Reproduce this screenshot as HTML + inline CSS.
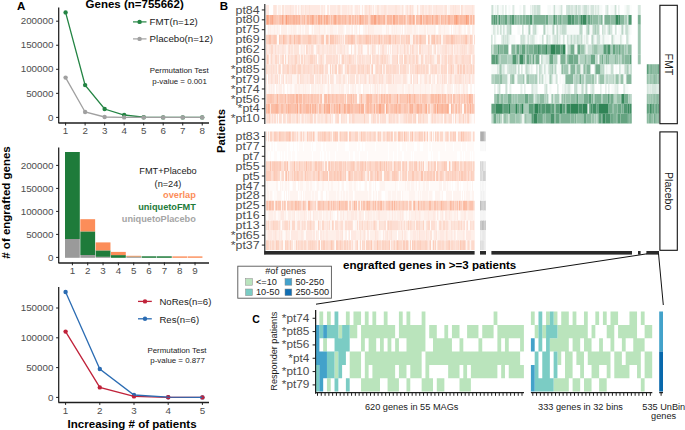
<!DOCTYPE html>
<html><head><meta charset="utf-8"><style>
html,body{margin:0;padding:0;background:#fff;width:685px;height:430px;overflow:hidden}
svg{display:block}
text{font-family:"Liberation Sans", sans-serif}
</style></head><body>
<svg width="685" height="430" viewBox="0 0 685 430">
<rect width="685" height="430" fill="#fff"/>
<text x="17.00" y="9.80" font-size="11.5" text-anchor="start" font-weight="bold" fill="#000">A</text>
<text x="85.60" y="8.00" font-size="11.5" text-anchor="start" font-weight="bold" fill="#000">Genes (n=755662)</text>
<line x1="58.70" y1="7.40" x2="58.70" y2="123.10" stroke="#1e1e1e" stroke-width="1.25"/>
<line x1="56.10" y1="117.40" x2="58.90" y2="117.40" stroke="#1e1e1e" stroke-width="1.0"/>
<text x="53.40" y="120.59" font-size="9.8" text-anchor="end" fill="#4d4d4d">0</text>
<line x1="56.10" y1="93.35" x2="58.90" y2="93.35" stroke="#1e1e1e" stroke-width="1.0"/>
<text x="53.40" y="96.54" font-size="9.8" text-anchor="end" fill="#4d4d4d">50000</text>
<line x1="56.10" y1="69.30" x2="58.90" y2="69.30" stroke="#1e1e1e" stroke-width="1.0"/>
<text x="53.40" y="72.49" font-size="9.8" text-anchor="end" fill="#4d4d4d">100000</text>
<line x1="56.10" y1="45.25" x2="58.90" y2="45.25" stroke="#1e1e1e" stroke-width="1.0"/>
<text x="53.40" y="48.44" font-size="9.8" text-anchor="end" fill="#4d4d4d">150000</text>
<line x1="56.10" y1="21.20" x2="58.90" y2="21.20" stroke="#1e1e1e" stroke-width="1.0"/>
<text x="53.40" y="24.39" font-size="9.8" text-anchor="end" fill="#4d4d4d">200000</text>
<line x1="58.40" y1="123.10" x2="209.00" y2="123.10" stroke="#1e1e1e" stroke-width="1.5"/>
<line x1="65.60" y1="122.60" x2="65.60" y2="125.50" stroke="#1e1e1e" stroke-width="1.0"/>
<text x="65.60" y="134.19" font-size="9.8" text-anchor="middle" fill="#4d4d4d">1</text>
<line x1="85.12" y1="122.60" x2="85.12" y2="125.50" stroke="#1e1e1e" stroke-width="1.0"/>
<text x="85.12" y="134.19" font-size="9.8" text-anchor="middle" fill="#4d4d4d">2</text>
<line x1="104.64" y1="122.60" x2="104.64" y2="125.50" stroke="#1e1e1e" stroke-width="1.0"/>
<text x="104.64" y="134.19" font-size="9.8" text-anchor="middle" fill="#4d4d4d">3</text>
<line x1="124.16" y1="122.60" x2="124.16" y2="125.50" stroke="#1e1e1e" stroke-width="1.0"/>
<text x="124.16" y="134.19" font-size="9.8" text-anchor="middle" fill="#4d4d4d">4</text>
<line x1="143.68" y1="122.60" x2="143.68" y2="125.50" stroke="#1e1e1e" stroke-width="1.0"/>
<text x="143.68" y="134.19" font-size="9.8" text-anchor="middle" fill="#4d4d4d">5</text>
<line x1="163.20" y1="122.60" x2="163.20" y2="125.50" stroke="#1e1e1e" stroke-width="1.0"/>
<text x="163.20" y="134.19" font-size="9.8" text-anchor="middle" fill="#4d4d4d">6</text>
<line x1="182.72" y1="122.60" x2="182.72" y2="125.50" stroke="#1e1e1e" stroke-width="1.0"/>
<text x="182.72" y="134.19" font-size="9.8" text-anchor="middle" fill="#4d4d4d">7</text>
<line x1="202.24" y1="122.60" x2="202.24" y2="125.50" stroke="#1e1e1e" stroke-width="1.0"/>
<text x="202.24" y="134.19" font-size="9.8" text-anchor="middle" fill="#4d4d4d">8</text>
<polyline points="65.60,12.40 85.12,85.10 104.64,109.00 124.16,115.00 143.68,117.20 163.20,117.40 182.72,117.40 202.24,117.40" fill="none" stroke="#238443" stroke-width="1.3"/>
<circle cx="65.60" cy="12.40" r="2.2" fill="#238443"/>
<circle cx="85.12" cy="85.10" r="2.2" fill="#238443"/>
<circle cx="104.64" cy="109.00" r="2.2" fill="#238443"/>
<circle cx="124.16" cy="115.00" r="2.2" fill="#238443"/>
<circle cx="143.68" cy="117.20" r="2.2" fill="#238443"/>
<circle cx="163.20" cy="117.40" r="2.2" fill="#238443"/>
<circle cx="182.72" cy="117.40" r="2.2" fill="#238443"/>
<circle cx="202.24" cy="117.40" r="2.2" fill="#238443"/>
<polyline points="65.60,77.60 85.12,112.00 104.64,117.00 124.16,117.40 143.68,117.40 163.20,117.40 182.72,117.40 202.24,117.40" fill="none" stroke="#a0a0a0" stroke-width="1.3"/>
<circle cx="65.60" cy="77.60" r="2.2" fill="#a0a0a0"/>
<circle cx="85.12" cy="112.00" r="2.2" fill="#a0a0a0"/>
<circle cx="104.64" cy="117.00" r="2.2" fill="#a0a0a0"/>
<circle cx="124.16" cy="117.40" r="2.2" fill="#a0a0a0"/>
<circle cx="143.68" cy="117.40" r="2.2" fill="#a0a0a0"/>
<circle cx="163.20" cy="117.40" r="2.2" fill="#a0a0a0"/>
<circle cx="182.72" cy="117.40" r="2.2" fill="#a0a0a0"/>
<circle cx="202.24" cy="117.40" r="2.2" fill="#a0a0a0"/>
<line x1="133.00" y1="21.90" x2="146.50" y2="21.90" stroke="#238443" stroke-width="1.2"/>
<circle cx="139.60" cy="21.90" r="2.2" fill="#238443"/>
<text x="149.60" y="25.15" font-size="9.7" text-anchor="start" fill="#1a1a1a">FMT(n=12)</text>
<line x1="133.00" y1="38.90" x2="146.50" y2="38.90" stroke="#a0a0a0" stroke-width="1.2"/>
<circle cx="139.60" cy="38.90" r="2.2" fill="#a0a0a0"/>
<text x="149.60" y="42.05" font-size="9.7" text-anchor="start" fill="#1a1a1a">Placebo(n=12)</text>
<text x="179.20" y="72.97" font-size="7.9" text-anchor="middle" fill="#1a1a1a">Permutation Test</text>
<text x="179.60" y="83.57" font-size="7.9" text-anchor="middle" fill="#1a1a1a">p-value = 0.001</text>
<line x1="58.70" y1="147.40" x2="58.70" y2="262.90" stroke="#1e1e1e" stroke-width="1.25"/>
<line x1="56.10" y1="257.40" x2="58.90" y2="257.40" stroke="#1e1e1e" stroke-width="1.0"/>
<text x="53.40" y="260.58" font-size="9.8" text-anchor="end" fill="#4d4d4d">0</text>
<line x1="56.10" y1="234.40" x2="58.90" y2="234.40" stroke="#1e1e1e" stroke-width="1.0"/>
<text x="53.40" y="237.58" font-size="9.8" text-anchor="end" fill="#4d4d4d">50000</text>
<line x1="56.10" y1="211.40" x2="58.90" y2="211.40" stroke="#1e1e1e" stroke-width="1.0"/>
<text x="53.40" y="214.58" font-size="9.8" text-anchor="end" fill="#4d4d4d">100000</text>
<line x1="56.10" y1="188.40" x2="58.90" y2="188.40" stroke="#1e1e1e" stroke-width="1.0"/>
<text x="53.40" y="191.58" font-size="9.8" text-anchor="end" fill="#4d4d4d">150000</text>
<line x1="56.10" y1="165.40" x2="58.90" y2="165.40" stroke="#1e1e1e" stroke-width="1.0"/>
<text x="53.40" y="168.58" font-size="9.8" text-anchor="end" fill="#4d4d4d">200000</text>
<line x1="58.40" y1="262.90" x2="209.00" y2="262.90" stroke="#1e1e1e" stroke-width="1.5"/>
<line x1="72.40" y1="262.40" x2="72.40" y2="265.30" stroke="#1e1e1e" stroke-width="1.0"/>
<text x="72.40" y="273.99" font-size="9.8" text-anchor="middle" fill="#4d4d4d">1</text>
<line x1="87.73" y1="262.40" x2="87.73" y2="265.30" stroke="#1e1e1e" stroke-width="1.0"/>
<text x="87.73" y="273.99" font-size="9.8" text-anchor="middle" fill="#4d4d4d">2</text>
<line x1="103.06" y1="262.40" x2="103.06" y2="265.30" stroke="#1e1e1e" stroke-width="1.0"/>
<text x="103.06" y="273.99" font-size="9.8" text-anchor="middle" fill="#4d4d4d">3</text>
<line x1="118.39" y1="262.40" x2="118.39" y2="265.30" stroke="#1e1e1e" stroke-width="1.0"/>
<text x="118.39" y="273.99" font-size="9.8" text-anchor="middle" fill="#4d4d4d">4</text>
<line x1="133.72" y1="262.40" x2="133.72" y2="265.30" stroke="#1e1e1e" stroke-width="1.0"/>
<text x="133.72" y="273.99" font-size="9.8" text-anchor="middle" fill="#4d4d4d">5</text>
<line x1="149.05" y1="262.40" x2="149.05" y2="265.30" stroke="#1e1e1e" stroke-width="1.0"/>
<text x="149.05" y="273.99" font-size="9.8" text-anchor="middle" fill="#4d4d4d">6</text>
<line x1="164.38" y1="262.40" x2="164.38" y2="265.30" stroke="#1e1e1e" stroke-width="1.0"/>
<text x="164.38" y="273.99" font-size="9.8" text-anchor="middle" fill="#4d4d4d">7</text>
<line x1="179.71" y1="262.40" x2="179.71" y2="265.30" stroke="#1e1e1e" stroke-width="1.0"/>
<text x="179.71" y="273.99" font-size="9.8" text-anchor="middle" fill="#4d4d4d">8</text>
<line x1="195.04" y1="262.40" x2="195.04" y2="265.30" stroke="#1e1e1e" stroke-width="1.0"/>
<text x="195.04" y="273.99" font-size="9.8" text-anchor="middle" fill="#4d4d4d">9</text>
<rect x="65.00" y="239.00" width="14.80" height="18.80" fill="#9a9a9a"/>
<rect x="65.00" y="152.00" width="14.80" height="87.00" fill="#1e7b3a"/>
<rect x="80.33" y="255.00" width="14.80" height="2.80" fill="#9a9a9a"/>
<rect x="80.33" y="231.40" width="14.80" height="23.60" fill="#1e7b3a"/>
<rect x="80.33" y="219.20" width="14.80" height="12.20" fill="#fc8d59"/>
<rect x="95.66" y="256.80" width="14.80" height="1.00" fill="#9a9a9a"/>
<rect x="95.66" y="250.40" width="14.80" height="6.40" fill="#1e7b3a"/>
<rect x="95.66" y="242.40" width="14.80" height="8.00" fill="#fc8d59"/>
<rect x="110.99" y="255.10" width="14.80" height="2.70" fill="#1e7b3a"/>
<rect x="110.99" y="251.90" width="14.80" height="3.20" fill="#fc8d59"/>
<rect x="126.32" y="257.00" width="14.80" height="0.80" fill="#9a9a9a"/>
<rect x="126.32" y="256.60" width="14.80" height="0.40" fill="#1e7b3a"/>
<rect x="126.32" y="255.80" width="14.80" height="0.80" fill="#fc8d59"/>
<rect x="141.65" y="256.30" width="14.80" height="1.50" fill="#1e7b3a"/>
<rect x="156.98" y="256.30" width="14.80" height="1.50" fill="#1e7b3a"/>
<rect x="172.31" y="256.40" width="14.80" height="1.40" fill="#fc8d59"/>
<rect x="187.64" y="256.40" width="14.80" height="1.40" fill="#fc8d59"/>
<text x="168.00" y="174.49" font-size="9.2" text-anchor="middle" fill="#1a1a1a">FMT+Placebo</text>
<text x="168.00" y="187.09" font-size="9.2" text-anchor="middle" fill="#1a1a1a">(n=24)</text>
<text x="195.80" y="198.19" font-size="9.2" text-anchor="end" font-weight="bold" fill="#fc8d59">overlap</text>
<text x="195.80" y="209.89" font-size="9.2" text-anchor="end" font-weight="bold" fill="#1e7b3a">uniquetoFMT</text>
<text x="195.80" y="221.79" font-size="9.2" text-anchor="end" font-weight="bold" fill="#a5a5a5">uniquetoPlacebo</text>
<line x1="58.70" y1="287.00" x2="58.70" y2="402.50" stroke="#1e1e1e" stroke-width="1.25"/>
<line x1="56.10" y1="397.40" x2="58.90" y2="397.40" stroke="#1e1e1e" stroke-width="1.0"/>
<text x="53.40" y="400.58" font-size="9.8" text-anchor="end" fill="#4d4d4d">0</text>
<line x1="56.10" y1="367.60" x2="58.90" y2="367.60" stroke="#1e1e1e" stroke-width="1.0"/>
<text x="53.40" y="370.78" font-size="9.8" text-anchor="end" fill="#4d4d4d">50000</text>
<line x1="56.10" y1="337.80" x2="58.90" y2="337.80" stroke="#1e1e1e" stroke-width="1.0"/>
<text x="53.40" y="340.98" font-size="9.8" text-anchor="end" fill="#4d4d4d">100000</text>
<line x1="56.10" y1="308.00" x2="58.90" y2="308.00" stroke="#1e1e1e" stroke-width="1.0"/>
<text x="53.40" y="311.19" font-size="9.8" text-anchor="end" fill="#4d4d4d">150000</text>
<line x1="58.40" y1="402.50" x2="209.00" y2="402.50" stroke="#1e1e1e" stroke-width="1.5"/>
<line x1="65.60" y1="402.00" x2="65.60" y2="404.90" stroke="#1e1e1e" stroke-width="1.0"/>
<text x="65.60" y="414.19" font-size="9.8" text-anchor="middle" fill="#4d4d4d">1</text>
<line x1="99.80" y1="402.00" x2="99.80" y2="404.90" stroke="#1e1e1e" stroke-width="1.0"/>
<text x="99.80" y="414.19" font-size="9.8" text-anchor="middle" fill="#4d4d4d">2</text>
<line x1="134.00" y1="402.00" x2="134.00" y2="404.90" stroke="#1e1e1e" stroke-width="1.0"/>
<text x="134.00" y="414.19" font-size="9.8" text-anchor="middle" fill="#4d4d4d">3</text>
<line x1="168.20" y1="402.00" x2="168.20" y2="404.90" stroke="#1e1e1e" stroke-width="1.0"/>
<text x="168.20" y="414.19" font-size="9.8" text-anchor="middle" fill="#4d4d4d">4</text>
<line x1="202.40" y1="402.00" x2="202.40" y2="404.90" stroke="#1e1e1e" stroke-width="1.0"/>
<text x="202.40" y="414.19" font-size="9.8" text-anchor="middle" fill="#4d4d4d">5</text>
<circle cx="65.60" cy="292.00" r="2.2" fill="#2b6cb3"/>
<circle cx="99.80" cy="369.00" r="2.2" fill="#2b6cb3"/>
<circle cx="134.00" cy="395.00" r="2.2" fill="#2b6cb3"/>
<circle cx="168.20" cy="397.20" r="2.2" fill="#2b6cb3"/>
<circle cx="202.40" cy="397.40" r="2.2" fill="#2b6cb3"/>
<circle cx="65.60" cy="331.60" r="2.2" fill="#c0223a"/>
<circle cx="99.80" cy="387.40" r="2.2" fill="#c0223a"/>
<circle cx="134.00" cy="396.40" r="2.2" fill="#c0223a"/>
<circle cx="168.20" cy="397.30" r="2.2" fill="#c0223a"/>
<circle cx="202.40" cy="397.40" r="2.2" fill="#c0223a"/>
<polyline points="65.60,331.60 99.80,387.40 134.00,396.40 168.20,397.30 202.40,397.40" fill="none" stroke="#c0223a" stroke-width="1.3"/>
<polyline points="65.60,292.00 99.80,369.00 134.00,395.00 168.20,397.20 202.40,397.40" fill="none" stroke="#2b6cb3" stroke-width="1.3"/>
<line x1="138.00" y1="301.40" x2="151.80" y2="301.40" stroke="#c0223a" stroke-width="1.3"/>
<circle cx="145.00" cy="301.40" r="2.2" fill="#c0223a"/>
<text x="159.40" y="305.12" font-size="9.6" text-anchor="start" fill="#1a1a1a">NoRes(n=6)</text>
<line x1="138.00" y1="318.80" x2="151.80" y2="318.80" stroke="#2b6cb3" stroke-width="1.3"/>
<circle cx="145.00" cy="318.80" r="2.2" fill="#2b6cb3"/>
<text x="159.40" y="322.52" font-size="9.6" text-anchor="start" fill="#1a1a1a">Res(n=6)</text>
<text x="177.00" y="352.97" font-size="7.9" text-anchor="middle" fill="#1a1a1a">Permutation Test</text>
<text x="177.60" y="362.97" font-size="7.9" text-anchor="middle" fill="#1a1a1a">p-value = 0.877</text>
<text x="132.10" y="427.75" font-size="11.55" text-anchor="middle" font-weight="bold" fill="#000">Increasing # of patients</text>
<text x="9.90" y="202.50" font-size="11.5" text-anchor="middle" font-weight="bold" fill="#000" transform="rotate(-90 9.90 202.50)"># of engrafted genes</text>
<text x="219.80" y="10.00" font-size="11.5" text-anchor="start" font-weight="bold" fill="#000">B</text>
<text x="225.40" y="131.00" font-size="11.3" text-anchor="middle" font-weight="bold" fill="#000" transform="rotate(-90 225.40 131.00)">Patients</text>
<line x1="261.80" y1="9.94" x2="264.80" y2="9.94" stroke="#1e1e1e" stroke-width="1.0"/>
<text transform="translate(259.60 13.59) scale(1.17 1)" font-size="10.6" text-anchor="end" fill="#4d4d4d">pt84</text>
<line x1="261.80" y1="19.82" x2="264.80" y2="19.82" stroke="#1e1e1e" stroke-width="1.0"/>
<text transform="translate(259.60 23.47) scale(1.17 1)" font-size="10.6" text-anchor="end" fill="#4d4d4d">pt80</text>
<line x1="261.80" y1="29.70" x2="264.80" y2="29.70" stroke="#1e1e1e" stroke-width="1.0"/>
<text transform="translate(259.60 33.35) scale(1.17 1)" font-size="10.6" text-anchor="end" fill="#4d4d4d">pt75</text>
<line x1="261.80" y1="39.58" x2="264.80" y2="39.58" stroke="#1e1e1e" stroke-width="1.0"/>
<text transform="translate(259.60 43.23) scale(1.17 1)" font-size="10.6" text-anchor="end" fill="#4d4d4d">pt69</text>
<line x1="261.80" y1="49.46" x2="264.80" y2="49.46" stroke="#1e1e1e" stroke-width="1.0"/>
<text transform="translate(259.60 53.11) scale(1.17 1)" font-size="10.6" text-anchor="end" fill="#4d4d4d">pt62</text>
<line x1="261.80" y1="59.34" x2="264.80" y2="59.34" stroke="#1e1e1e" stroke-width="1.0"/>
<text transform="translate(259.60 62.99) scale(1.17 1)" font-size="10.6" text-anchor="end" fill="#4d4d4d">pt60</text>
<line x1="261.80" y1="69.22" x2="264.80" y2="69.22" stroke="#1e1e1e" stroke-width="1.0"/>
<text transform="translate(259.60 72.87) scale(1.17 1)" font-size="10.6" text-anchor="end" fill="#4d4d4d">*pt85</text>
<line x1="261.80" y1="79.10" x2="264.80" y2="79.10" stroke="#1e1e1e" stroke-width="1.0"/>
<text transform="translate(259.60 82.75) scale(1.17 1)" font-size="10.6" text-anchor="end" fill="#4d4d4d">*pt79</text>
<line x1="261.80" y1="88.98" x2="264.80" y2="88.98" stroke="#1e1e1e" stroke-width="1.0"/>
<text transform="translate(259.60 92.63) scale(1.17 1)" font-size="10.6" text-anchor="end" fill="#4d4d4d">*pt74</text>
<line x1="261.80" y1="98.86" x2="264.80" y2="98.86" stroke="#1e1e1e" stroke-width="1.0"/>
<text transform="translate(259.60 102.51) scale(1.17 1)" font-size="10.6" text-anchor="end" fill="#4d4d4d">*pt56</text>
<line x1="261.80" y1="108.74" x2="264.80" y2="108.74" stroke="#1e1e1e" stroke-width="1.0"/>
<text transform="translate(259.60 112.39) scale(1.17 1)" font-size="10.6" text-anchor="end" fill="#4d4d4d">*pt4</text>
<line x1="261.80" y1="118.62" x2="264.80" y2="118.62" stroke="#1e1e1e" stroke-width="1.0"/>
<text transform="translate(259.60 122.27) scale(1.17 1)" font-size="10.6" text-anchor="end" fill="#4d4d4d">*pt10</text>
<line x1="261.80" y1="136.53" x2="264.80" y2="136.53" stroke="#1e1e1e" stroke-width="1.0"/>
<text transform="translate(259.60 140.18) scale(1.17 1)" font-size="10.6" text-anchor="end" fill="#4d4d4d">pt83</text>
<line x1="261.80" y1="146.41" x2="264.80" y2="146.41" stroke="#1e1e1e" stroke-width="1.0"/>
<text transform="translate(259.60 150.05) scale(1.17 1)" font-size="10.6" text-anchor="end" fill="#4d4d4d">pt77</text>
<line x1="261.80" y1="156.27" x2="264.80" y2="156.27" stroke="#1e1e1e" stroke-width="1.0"/>
<text transform="translate(259.60 159.92) scale(1.17 1)" font-size="10.6" text-anchor="end" fill="#4d4d4d">pt7</text>
<line x1="261.80" y1="166.14" x2="264.80" y2="166.14" stroke="#1e1e1e" stroke-width="1.0"/>
<text transform="translate(259.60 169.79) scale(1.17 1)" font-size="10.6" text-anchor="end" fill="#4d4d4d">pt55</text>
<line x1="261.80" y1="176.01" x2="264.80" y2="176.01" stroke="#1e1e1e" stroke-width="1.0"/>
<text transform="translate(259.60 179.66) scale(1.17 1)" font-size="10.6" text-anchor="end" fill="#4d4d4d">pt5</text>
<line x1="261.80" y1="185.88" x2="264.80" y2="185.88" stroke="#1e1e1e" stroke-width="1.0"/>
<text transform="translate(259.60 189.53) scale(1.17 1)" font-size="10.6" text-anchor="end" fill="#4d4d4d">pt47</text>
<line x1="261.80" y1="195.75" x2="264.80" y2="195.75" stroke="#1e1e1e" stroke-width="1.0"/>
<text transform="translate(259.60 199.40) scale(1.17 1)" font-size="10.6" text-anchor="end" fill="#4d4d4d">pt28</text>
<line x1="261.80" y1="205.62" x2="264.80" y2="205.62" stroke="#1e1e1e" stroke-width="1.0"/>
<text transform="translate(259.60 209.27) scale(1.17 1)" font-size="10.6" text-anchor="end" fill="#4d4d4d">pt25</text>
<line x1="261.80" y1="215.50" x2="264.80" y2="215.50" stroke="#1e1e1e" stroke-width="1.0"/>
<text transform="translate(259.60 219.14) scale(1.17 1)" font-size="10.6" text-anchor="end" fill="#4d4d4d">pt16</text>
<line x1="261.80" y1="225.36" x2="264.80" y2="225.36" stroke="#1e1e1e" stroke-width="1.0"/>
<text transform="translate(259.60 229.01) scale(1.17 1)" font-size="10.6" text-anchor="end" fill="#4d4d4d">pt13</text>
<line x1="261.80" y1="235.23" x2="264.80" y2="235.23" stroke="#1e1e1e" stroke-width="1.0"/>
<text transform="translate(259.60 238.88) scale(1.17 1)" font-size="10.6" text-anchor="end" fill="#4d4d4d">*pt65</text>
<line x1="261.80" y1="245.10" x2="264.80" y2="245.10" stroke="#1e1e1e" stroke-width="1.0"/>
<text transform="translate(259.60 248.75) scale(1.17 1)" font-size="10.6" text-anchor="end" fill="#4d4d4d">*pt37</text>
<path fill="#fee9e2" d="M266.0 5.00h1.0v9.88h-1.0zM267.0 5.00h1.0v9.88h-1.0zM268.0 5.00h1.0v9.88h-1.0zM273.0 5.00h1.0v9.88h-1.0zM276.0 5.00h1.0v9.88h-1.0zM285.0 5.00h1.0v9.88h-1.0zM286.0 5.00h1.0v9.88h-1.0zM287.0 5.00h1.0v9.88h-1.0zM288.0 5.00h1.0v9.88h-1.0zM289.0 5.00h1.0v9.88h-1.0zM291.0 5.00h1.0v9.88h-1.0zM292.0 5.00h2.0v9.88h-2.0zM295.0 5.00h2.0v9.88h-2.0zM298.0 5.00h1.0v9.88h-1.0zM302.0 5.00h1.0v9.88h-1.0zM303.0 5.00h1.0v9.88h-1.0zM306.0 5.00h1.0v9.88h-1.0zM307.0 5.00h2.0v9.88h-2.0zM310.0 5.00h1.0v9.88h-1.0zM311.0 5.00h1.0v9.88h-1.0zM312.0 5.00h2.0v9.88h-2.0zM314.0 5.00h2.0v9.88h-2.0zM316.0 5.00h2.0v9.88h-2.0zM318.0 5.00h2.0v9.88h-2.0zM321.0 5.00h2.0v9.88h-2.0zM324.0 5.00h1.0v9.88h-1.0zM327.0 5.00h2.0v9.88h-2.0zM330.0 5.00h1.0v9.88h-1.0zM331.0 5.00h2.0v9.88h-2.0zM333.0 5.00h1.0v9.88h-1.0zM334.0 5.00h1.0v9.88h-1.0zM335.0 5.00h1.0v9.88h-1.0zM337.0 5.00h1.0v9.88h-1.0zM342.0 5.00h1.0v9.88h-1.0zM343.0 5.00h2.0v9.88h-2.0zM345.0 5.00h1.0v9.88h-1.0zM346.0 5.00h1.0v9.88h-1.0zM348.0 5.00h1.0v9.88h-1.0zM351.0 5.00h1.0v9.88h-1.0zM355.0 5.00h1.0v9.88h-1.0zM356.0 5.00h1.0v9.88h-1.0zM357.0 5.00h1.0v9.88h-1.0zM359.0 5.00h1.0v9.88h-1.0zM362.0 5.00h1.0v9.88h-1.0zM367.0 5.00h2.0v9.88h-2.0zM370.0 5.00h2.0v9.88h-2.0zM373.0 5.00h1.0v9.88h-1.0zM381.0 5.00h2.0v9.88h-2.0zM383.0 5.00h1.0v9.88h-1.0zM386.0 5.00h1.0v9.88h-1.0zM388.0 5.00h2.0v9.88h-2.0zM390.0 5.00h1.0v9.88h-1.0zM391.0 5.00h1.0v9.88h-1.0zM392.0 5.00h2.0v9.88h-2.0zM394.0 5.00h1.0v9.88h-1.0zM397.0 5.00h1.0v9.88h-1.0zM398.0 5.00h2.0v9.88h-2.0zM406.0 5.00h1.0v9.88h-1.0zM409.0 5.00h1.0v9.88h-1.0zM411.0 5.00h1.0v9.88h-1.0zM420.0 5.00h1.0v9.88h-1.0zM421.0 5.00h1.0v9.88h-1.0zM425.0 5.00h1.0v9.88h-1.0zM426.0 5.00h1.0v9.88h-1.0zM428.0 5.00h1.0v9.88h-1.0zM430.0 5.00h2.0v9.88h-2.0zM433.0 5.00h1.0v9.88h-1.0zM434.0 5.00h1.0v9.88h-1.0zM435.0 5.00h1.0v9.88h-1.0zM437.0 5.00h1.0v9.88h-1.0zM438.0 5.00h1.0v9.88h-1.0zM439.0 5.00h1.0v9.88h-1.0zM440.0 5.00h1.0v9.88h-1.0zM441.0 5.00h2.0v9.88h-2.0zM444.0 5.00h1.0v9.88h-1.0zM450.0 5.00h1.0v9.88h-1.0zM451.0 5.00h1.0v9.88h-1.0zM452.0 5.00h1.0v9.88h-1.0zM454.0 5.00h1.0v9.88h-1.0zM456.0 5.00h2.0v9.88h-2.0zM458.0 5.00h1.0v9.88h-1.0zM459.0 5.00h1.0v9.88h-1.0zM465.0 5.00h1.0v9.88h-1.0zM466.0 5.00h2.0v9.88h-2.0zM468.0 5.00h2.0v9.88h-2.0zM470.0 5.00h2.0v9.88h-2.0zM473.0 5.00h1.6v9.88h-1.6zM291.0 131.60h1.0v9.87h-1.0zM296.0 131.60h1.0v9.87h-1.0zM304.0 131.60h1.0v9.87h-1.0zM317.0 131.60h1.0v9.87h-1.0zM403.0 131.60h1.0v9.87h-1.0zM413.0 131.60h1.0v9.87h-1.0zM423.0 131.60h1.0v9.87h-1.0zM426.0 131.60h1.0v9.87h-1.0zM319.0 24.76h1.0v9.88h-1.0zM368.0 24.76h1.0v9.88h-1.0zM459.0 24.76h1.0v9.88h-1.0zM329.0 34.64h1.0v9.88h-1.0zM342.0 34.64h1.0v9.88h-1.0zM400.0 34.64h1.0v9.88h-1.0zM392.0 161.21h2.0v9.87h-2.0zM459.0 161.21h1.0v9.87h-1.0zM267.0 44.52h1.0v9.88h-1.0zM268.0 44.52h1.0v9.88h-1.0zM273.0 44.52h1.0v9.88h-1.0zM274.0 44.52h1.0v9.88h-1.0zM276.0 44.52h1.0v9.88h-1.0zM277.0 44.52h1.0v9.88h-1.0zM279.0 44.52h1.0v9.88h-1.0zM280.0 44.52h1.0v9.88h-1.0zM281.0 44.52h1.0v9.88h-1.0zM284.0 44.52h2.0v9.88h-2.0zM290.0 44.52h1.0v9.88h-1.0zM301.0 44.52h1.0v9.88h-1.0zM304.0 44.52h1.0v9.88h-1.0zM308.0 44.52h1.0v9.88h-1.0zM310.0 44.52h1.0v9.88h-1.0zM313.0 44.52h1.0v9.88h-1.0zM316.0 44.52h1.0v9.88h-1.0zM320.0 44.52h1.0v9.88h-1.0zM321.0 44.52h1.0v9.88h-1.0zM324.0 44.52h2.0v9.88h-2.0zM326.0 44.52h1.0v9.88h-1.0zM328.0 44.52h1.0v9.88h-1.0zM332.0 44.52h1.0v9.88h-1.0zM337.0 44.52h1.0v9.88h-1.0zM338.0 44.52h2.0v9.88h-2.0zM342.0 44.52h1.0v9.88h-1.0zM343.0 44.52h1.0v9.88h-1.0zM347.0 44.52h1.0v9.88h-1.0zM354.0 44.52h1.0v9.88h-1.0zM360.0 44.52h1.0v9.88h-1.0zM362.0 44.52h1.0v9.88h-1.0zM367.0 44.52h1.0v9.88h-1.0zM375.0 44.52h1.0v9.88h-1.0zM378.0 44.52h1.0v9.88h-1.0zM380.0 44.52h2.0v9.88h-2.0zM384.0 44.52h2.0v9.88h-2.0zM386.0 44.52h1.0v9.88h-1.0zM388.0 44.52h1.0v9.88h-1.0zM390.0 44.52h1.0v9.88h-1.0zM393.0 44.52h2.0v9.88h-2.0zM395.0 44.52h2.0v9.88h-2.0zM398.0 44.52h1.0v9.88h-1.0zM401.0 44.52h1.0v9.88h-1.0zM402.0 44.52h1.0v9.88h-1.0zM403.0 44.52h1.0v9.88h-1.0zM406.0 44.52h1.0v9.88h-1.0zM411.0 44.52h1.0v9.88h-1.0zM414.0 44.52h1.0v9.88h-1.0zM415.0 44.52h1.0v9.88h-1.0zM421.0 44.52h1.0v9.88h-1.0zM423.0 44.52h1.0v9.88h-1.0zM424.0 44.52h2.0v9.88h-2.0zM426.0 44.52h2.0v9.88h-2.0zM437.0 44.52h1.0v9.88h-1.0zM438.0 44.52h1.0v9.88h-1.0zM440.0 44.52h1.0v9.88h-1.0zM441.0 44.52h1.0v9.88h-1.0zM447.0 44.52h1.0v9.88h-1.0zM449.0 44.52h1.0v9.88h-1.0zM450.0 44.52h1.0v9.88h-1.0zM455.0 44.52h1.0v9.88h-1.0zM456.0 44.52h1.0v9.88h-1.0zM458.0 44.52h1.0v9.88h-1.0zM459.0 44.52h1.0v9.88h-1.0zM468.0 44.52h1.0v9.88h-1.0zM474.0 44.52h0.6v9.88h-0.6zM287.0 171.08h1.0v9.87h-1.0zM444.0 171.08h1.0v9.87h-1.0zM270.0 54.40h1.0v9.88h-1.0zM273.0 54.40h2.0v9.88h-2.0zM318.0 54.40h1.0v9.88h-1.0zM341.0 54.40h1.0v9.88h-1.0zM354.0 54.40h1.0v9.88h-1.0zM361.0 54.40h1.0v9.88h-1.0zM365.0 54.40h1.0v9.88h-1.0zM379.0 54.40h1.0v9.88h-1.0zM388.0 54.40h2.0v9.88h-2.0zM415.0 54.40h1.0v9.88h-1.0zM418.0 54.40h1.0v9.88h-1.0zM423.0 54.40h1.0v9.88h-1.0zM441.0 54.40h1.0v9.88h-1.0zM453.0 54.40h2.0v9.88h-2.0zM472.0 54.40h1.0v9.88h-1.0zM356.0 64.28h1.0v9.88h-1.0zM437.0 64.28h1.0v9.88h-1.0zM455.0 64.28h2.0v9.88h-2.0zM266.0 74.16h1.0v9.88h-1.0zM269.0 74.16h1.0v9.88h-1.0zM270.0 74.16h1.0v9.88h-1.0zM273.0 74.16h1.0v9.88h-1.0zM274.0 74.16h1.0v9.88h-1.0zM281.0 74.16h2.0v9.88h-2.0zM288.0 74.16h2.0v9.88h-2.0zM290.0 74.16h1.0v9.88h-1.0zM304.0 74.16h2.0v9.88h-2.0zM306.0 74.16h1.0v9.88h-1.0zM308.0 74.16h2.0v9.88h-2.0zM315.0 74.16h2.0v9.88h-2.0zM318.0 74.16h1.0v9.88h-1.0zM320.0 74.16h1.0v9.88h-1.0zM323.0 74.16h2.0v9.88h-2.0zM326.0 74.16h1.0v9.88h-1.0zM333.0 74.16h1.0v9.88h-1.0zM336.0 74.16h1.0v9.88h-1.0zM337.0 74.16h2.0v9.88h-2.0zM358.0 74.16h1.0v9.88h-1.0zM361.0 74.16h1.0v9.88h-1.0zM362.0 74.16h2.0v9.88h-2.0zM366.0 74.16h1.0v9.88h-1.0zM370.0 74.16h1.0v9.88h-1.0zM371.0 74.16h1.0v9.88h-1.0zM372.0 74.16h1.0v9.88h-1.0zM377.0 74.16h1.0v9.88h-1.0zM378.0 74.16h1.0v9.88h-1.0zM383.0 74.16h1.0v9.88h-1.0zM395.0 74.16h1.0v9.88h-1.0zM396.0 74.16h1.0v9.88h-1.0zM397.0 74.16h2.0v9.88h-2.0zM399.0 74.16h1.0v9.88h-1.0zM400.0 74.16h1.0v9.88h-1.0zM406.0 74.16h1.0v9.88h-1.0zM410.0 74.16h1.0v9.88h-1.0zM414.0 74.16h1.0v9.88h-1.0zM415.0 74.16h1.0v9.88h-1.0zM416.0 74.16h1.0v9.88h-1.0zM420.0 74.16h1.0v9.88h-1.0zM424.0 74.16h1.0v9.88h-1.0zM434.0 74.16h1.0v9.88h-1.0zM438.0 74.16h1.0v9.88h-1.0zM440.0 74.16h1.0v9.88h-1.0zM443.0 74.16h1.0v9.88h-1.0zM448.0 74.16h2.0v9.88h-2.0zM454.0 74.16h1.0v9.88h-1.0zM462.0 74.16h1.0v9.88h-1.0zM466.0 74.16h1.0v9.88h-1.0zM467.0 74.16h2.0v9.88h-2.0zM470.0 74.16h1.0v9.88h-1.0zM472.0 74.16h1.0v9.88h-1.0zM473.0 74.16h1.0v9.88h-1.0zM474.0 74.16h0.6v9.88h-0.6zM306.0 200.69h1.0v9.87h-1.0zM408.0 200.69h1.0v9.87h-1.0zM328.0 84.04h1.0v9.88h-1.0zM375.0 84.04h1.0v9.88h-1.0zM377.0 84.04h1.0v9.88h-1.0zM413.0 84.04h1.0v9.88h-1.0zM442.0 84.04h1.0v9.88h-1.0zM463.0 84.04h1.0v9.88h-1.0zM281.0 210.56h1.0v9.87h-1.0zM282.0 210.56h2.0v9.87h-2.0zM294.0 210.56h1.0v9.87h-1.0zM304.0 210.56h1.0v9.87h-1.0zM310.0 210.56h1.0v9.87h-1.0zM313.0 210.56h1.0v9.87h-1.0zM330.0 210.56h1.0v9.87h-1.0zM337.0 210.56h1.0v9.87h-1.0zM343.0 210.56h1.0v9.87h-1.0zM347.0 210.56h1.0v9.87h-1.0zM351.0 210.56h2.0v9.87h-2.0zM353.0 210.56h1.0v9.87h-1.0zM355.0 210.56h2.0v9.87h-2.0zM359.0 210.56h2.0v9.87h-2.0zM368.0 210.56h1.0v9.87h-1.0zM378.0 210.56h2.0v9.87h-2.0zM392.0 210.56h1.0v9.87h-1.0zM400.0 210.56h1.0v9.87h-1.0zM402.0 210.56h1.0v9.87h-1.0zM415.0 210.56h1.0v9.87h-1.0zM419.0 210.56h1.0v9.87h-1.0zM428.0 210.56h1.0v9.87h-1.0zM433.0 210.56h2.0v9.87h-2.0zM437.0 210.56h1.0v9.87h-1.0zM442.0 210.56h1.0v9.87h-1.0zM445.0 210.56h2.0v9.87h-2.0zM449.0 210.56h1.0v9.87h-1.0zM457.0 210.56h1.0v9.87h-1.0zM464.0 210.56h2.0v9.87h-2.0zM452.0 93.92h1.0v9.88h-1.0zM473.0 93.92h1.0v9.88h-1.0zM269.0 220.43h1.0v9.87h-1.0zM288.0 220.43h1.0v9.87h-1.0zM301.0 220.43h1.0v9.87h-1.0zM319.0 220.43h2.0v9.87h-2.0zM324.0 220.43h1.0v9.87h-1.0zM325.0 220.43h2.0v9.87h-2.0zM328.0 220.43h1.0v9.87h-1.0zM338.0 220.43h2.0v9.87h-2.0zM363.0 220.43h1.0v9.87h-1.0zM370.0 220.43h1.0v9.87h-1.0zM372.0 220.43h1.0v9.87h-1.0zM400.0 220.43h1.0v9.87h-1.0zM402.0 220.43h2.0v9.87h-2.0zM435.0 220.43h1.0v9.87h-1.0zM436.0 220.43h1.0v9.87h-1.0zM442.0 220.43h1.0v9.87h-1.0zM448.0 220.43h1.0v9.87h-1.0zM462.0 220.43h1.0v9.87h-1.0zM466.0 220.43h1.0v9.87h-1.0zM364.0 103.80h1.0v9.88h-1.0zM268.0 230.30h2.0v9.87h-2.0zM270.0 230.30h2.0v9.87h-2.0zM273.0 230.30h2.0v9.87h-2.0zM276.0 230.30h1.0v9.87h-1.0zM279.0 230.30h1.0v9.87h-1.0zM281.0 230.30h1.0v9.87h-1.0zM286.0 230.30h1.0v9.87h-1.0zM291.0 230.30h2.0v9.87h-2.0zM293.0 230.30h1.0v9.87h-1.0zM294.0 230.30h1.0v9.87h-1.0zM295.0 230.30h1.0v9.87h-1.0zM296.0 230.30h2.0v9.87h-2.0zM301.0 230.30h2.0v9.87h-2.0zM306.0 230.30h1.0v9.87h-1.0zM307.0 230.30h2.0v9.87h-2.0zM309.0 230.30h1.0v9.87h-1.0zM310.0 230.30h1.0v9.87h-1.0zM311.0 230.30h1.0v9.87h-1.0zM313.0 230.30h2.0v9.87h-2.0zM316.0 230.30h1.0v9.87h-1.0zM320.0 230.30h2.0v9.87h-2.0zM323.0 230.30h1.0v9.87h-1.0zM326.0 230.30h2.0v9.87h-2.0zM336.0 230.30h2.0v9.87h-2.0zM338.0 230.30h1.0v9.87h-1.0zM340.0 230.30h2.0v9.87h-2.0zM349.0 230.30h1.0v9.87h-1.0zM351.0 230.30h1.0v9.87h-1.0zM352.0 230.30h2.0v9.87h-2.0zM354.0 230.30h2.0v9.87h-2.0zM363.0 230.30h1.0v9.87h-1.0zM367.0 230.30h2.0v9.87h-2.0zM376.0 230.30h1.0v9.87h-1.0zM377.0 230.30h1.0v9.87h-1.0zM383.0 230.30h1.0v9.87h-1.0zM385.0 230.30h2.0v9.87h-2.0zM389.0 230.30h2.0v9.87h-2.0zM404.0 230.30h1.0v9.87h-1.0zM405.0 230.30h1.0v9.87h-1.0zM413.0 230.30h2.0v9.87h-2.0zM415.0 230.30h1.0v9.87h-1.0zM417.0 230.30h1.0v9.87h-1.0zM420.0 230.30h2.0v9.87h-2.0zM422.0 230.30h2.0v9.87h-2.0zM424.0 230.30h1.0v9.87h-1.0zM427.0 230.30h2.0v9.87h-2.0zM434.0 230.30h1.0v9.87h-1.0zM435.0 230.30h1.0v9.87h-1.0zM440.0 230.30h1.0v9.87h-1.0zM441.0 230.30h2.0v9.87h-2.0zM443.0 230.30h1.0v9.87h-1.0zM447.0 230.30h1.0v9.87h-1.0zM451.0 230.30h1.0v9.87h-1.0zM454.0 230.30h1.0v9.87h-1.0zM463.0 230.30h1.0v9.87h-1.0zM466.0 230.30h2.0v9.87h-2.0zM468.0 230.30h1.0v9.87h-1.0zM469.0 230.30h1.0v9.87h-1.0zM470.0 230.30h1.0v9.87h-1.0zM474.0 230.30h0.6v9.87h-0.6zM271.0 113.68h1.0v9.88h-1.0zM273.0 113.68h1.0v9.88h-1.0zM291.0 113.68h1.0v9.88h-1.0zM295.0 113.68h1.0v9.88h-1.0zM298.0 113.68h1.0v9.88h-1.0zM301.0 113.68h1.0v9.88h-1.0zM306.0 113.68h1.0v9.88h-1.0zM317.0 113.68h1.0v9.88h-1.0zM320.0 113.68h1.0v9.88h-1.0zM323.0 113.68h2.0v9.88h-2.0zM328.0 113.68h2.0v9.88h-2.0zM332.0 113.68h1.0v9.88h-1.0zM345.0 113.68h1.0v9.88h-1.0zM351.0 113.68h1.0v9.88h-1.0zM388.0 113.68h1.0v9.88h-1.0zM395.0 113.68h1.0v9.88h-1.0zM398.0 113.68h1.0v9.88h-1.0zM400.0 113.68h2.0v9.88h-2.0zM402.0 113.68h1.0v9.88h-1.0zM412.0 113.68h1.0v9.88h-1.0zM436.0 113.68h1.0v9.88h-1.0zM439.0 113.68h2.0v9.88h-2.0zM447.0 113.68h1.0v9.88h-1.0zM453.0 113.68h1.0v9.88h-1.0zM458.0 113.68h1.0v9.88h-1.0zM464.0 113.68h1.0v9.88h-1.0zM466.0 113.68h1.0v9.88h-1.0zM469.0 113.68h1.0v9.88h-1.0zM307.0 240.17h1.0v9.87h-1.0zM351.0 240.17h1.0v9.87h-1.0zM372.0 240.17h2.0v9.87h-2.0zM428.0 240.17h1.0v9.87h-1.0z"/>
<path fill="#fde4da" d="M274.0 5.00h2.0v9.88h-2.0zM282.0 5.00h2.0v9.88h-2.0zM290.0 5.00h1.0v9.88h-1.0zM301.0 5.00h1.0v9.88h-1.0zM305.0 5.00h1.0v9.88h-1.0zM309.0 5.00h1.0v9.88h-1.0zM338.0 5.00h2.0v9.88h-2.0zM365.0 5.00h2.0v9.88h-2.0zM377.0 5.00h1.0v9.88h-1.0zM378.0 5.00h1.0v9.88h-1.0zM384.0 5.00h2.0v9.88h-2.0zM395.0 5.00h2.0v9.88h-2.0zM402.0 5.00h1.0v9.88h-1.0zM407.0 5.00h1.0v9.88h-1.0zM412.0 5.00h1.0v9.88h-1.0zM417.0 5.00h1.0v9.88h-1.0zM422.0 5.00h2.0v9.88h-2.0zM429.0 5.00h1.0v9.88h-1.0zM436.0 5.00h1.0v9.88h-1.0zM445.0 5.00h1.0v9.88h-1.0zM446.0 5.00h1.0v9.88h-1.0zM453.0 5.00h1.0v9.88h-1.0zM455.0 5.00h1.0v9.88h-1.0zM462.0 5.00h1.0v9.88h-1.0zM472.0 5.00h1.0v9.88h-1.0zM266.0 131.60h1.0v9.87h-1.0zM272.0 131.60h2.0v9.87h-2.0zM312.0 131.60h1.0v9.87h-1.0zM339.0 131.60h1.0v9.87h-1.0zM359.0 131.60h1.0v9.87h-1.0zM360.0 131.60h1.0v9.87h-1.0zM366.0 131.60h1.0v9.87h-1.0zM377.0 131.60h1.0v9.87h-1.0zM385.0 131.60h1.0v9.87h-1.0zM396.0 131.60h1.0v9.87h-1.0zM414.0 131.60h1.0v9.87h-1.0zM425.0 131.60h1.0v9.87h-1.0zM430.0 131.60h1.0v9.87h-1.0zM433.0 131.60h1.0v9.87h-1.0zM436.0 131.60h1.0v9.87h-1.0zM318.0 34.64h1.0v9.88h-1.0zM340.0 34.64h1.0v9.88h-1.0zM355.0 34.64h1.0v9.88h-1.0zM356.0 34.64h1.0v9.88h-1.0zM469.0 34.64h1.0v9.88h-1.0zM283.0 161.21h1.0v9.87h-1.0zM295.0 161.21h1.0v9.87h-1.0zM312.0 161.21h1.0v9.87h-1.0zM346.0 161.21h1.0v9.87h-1.0zM355.0 161.21h1.0v9.87h-1.0zM366.0 161.21h1.0v9.87h-1.0zM413.0 161.21h1.0v9.87h-1.0zM417.0 161.21h2.0v9.87h-2.0zM420.0 161.21h1.0v9.87h-1.0zM422.0 161.21h1.0v9.87h-1.0zM430.0 161.21h1.0v9.87h-1.0zM450.0 161.21h1.0v9.87h-1.0zM472.0 161.21h1.0v9.87h-1.0zM269.0 44.52h1.0v9.88h-1.0zM270.0 44.52h1.0v9.88h-1.0zM278.0 44.52h1.0v9.88h-1.0zM282.0 44.52h2.0v9.88h-2.0zM288.0 44.52h1.0v9.88h-1.0zM291.0 44.52h1.0v9.88h-1.0zM292.0 44.52h1.0v9.88h-1.0zM294.0 44.52h1.0v9.88h-1.0zM295.0 44.52h2.0v9.88h-2.0zM297.0 44.52h2.0v9.88h-2.0zM309.0 44.52h1.0v9.88h-1.0zM317.0 44.52h1.0v9.88h-1.0zM319.0 44.52h1.0v9.88h-1.0zM322.0 44.52h1.0v9.88h-1.0zM323.0 44.52h1.0v9.88h-1.0zM327.0 44.52h1.0v9.88h-1.0zM329.0 44.52h1.0v9.88h-1.0zM330.0 44.52h1.0v9.88h-1.0zM331.0 44.52h1.0v9.88h-1.0zM333.0 44.52h2.0v9.88h-2.0zM335.0 44.52h1.0v9.88h-1.0zM340.0 44.52h1.0v9.88h-1.0zM341.0 44.52h1.0v9.88h-1.0zM344.0 44.52h1.0v9.88h-1.0zM351.0 44.52h1.0v9.88h-1.0zM355.0 44.52h1.0v9.88h-1.0zM358.0 44.52h1.0v9.88h-1.0zM359.0 44.52h1.0v9.88h-1.0zM368.0 44.52h1.0v9.88h-1.0zM373.0 44.52h1.0v9.88h-1.0zM374.0 44.52h1.0v9.88h-1.0zM392.0 44.52h1.0v9.88h-1.0zM400.0 44.52h1.0v9.88h-1.0zM405.0 44.52h1.0v9.88h-1.0zM408.0 44.52h1.0v9.88h-1.0zM416.0 44.52h2.0v9.88h-2.0zM422.0 44.52h1.0v9.88h-1.0zM429.0 44.52h1.0v9.88h-1.0zM430.0 44.52h2.0v9.88h-2.0zM434.0 44.52h1.0v9.88h-1.0zM442.0 44.52h1.0v9.88h-1.0zM443.0 44.52h2.0v9.88h-2.0zM448.0 44.52h1.0v9.88h-1.0zM451.0 44.52h1.0v9.88h-1.0zM454.0 44.52h1.0v9.88h-1.0zM457.0 44.52h1.0v9.88h-1.0zM460.0 44.52h1.0v9.88h-1.0zM461.0 44.52h1.0v9.88h-1.0zM463.0 44.52h1.0v9.88h-1.0zM465.0 44.52h1.0v9.88h-1.0zM466.0 44.52h1.0v9.88h-1.0zM469.0 44.52h1.0v9.88h-1.0zM472.0 44.52h2.0v9.88h-2.0zM281.0 171.08h1.0v9.87h-1.0zM289.0 171.08h1.0v9.87h-1.0zM303.0 171.08h1.0v9.87h-1.0zM353.0 171.08h1.0v9.87h-1.0zM390.0 171.08h2.0v9.87h-2.0zM423.0 171.08h1.0v9.87h-1.0zM272.0 54.40h1.0v9.88h-1.0zM277.0 54.40h1.0v9.88h-1.0zM280.0 54.40h2.0v9.88h-2.0zM289.0 54.40h1.0v9.88h-1.0zM290.0 54.40h1.0v9.88h-1.0zM293.0 54.40h1.0v9.88h-1.0zM297.0 54.40h2.0v9.88h-2.0zM305.0 54.40h2.0v9.88h-2.0zM307.0 54.40h1.0v9.88h-1.0zM315.0 54.40h1.0v9.88h-1.0zM319.0 54.40h1.0v9.88h-1.0zM322.0 54.40h1.0v9.88h-1.0zM323.0 54.40h1.0v9.88h-1.0zM332.0 54.40h1.0v9.88h-1.0zM335.0 54.40h1.0v9.88h-1.0zM339.0 54.40h1.0v9.88h-1.0zM344.0 54.40h1.0v9.88h-1.0zM346.0 54.40h1.0v9.88h-1.0zM352.0 54.40h1.0v9.88h-1.0zM355.0 54.40h1.0v9.88h-1.0zM357.0 54.40h2.0v9.88h-2.0zM363.0 54.40h1.0v9.88h-1.0zM364.0 54.40h1.0v9.88h-1.0zM366.0 54.40h2.0v9.88h-2.0zM368.0 54.40h2.0v9.88h-2.0zM375.0 54.40h1.0v9.88h-1.0zM386.0 54.40h1.0v9.88h-1.0zM399.0 54.40h1.0v9.88h-1.0zM407.0 54.40h1.0v9.88h-1.0zM408.0 54.40h1.0v9.88h-1.0zM411.0 54.40h1.0v9.88h-1.0zM427.0 54.40h1.0v9.88h-1.0zM429.0 54.40h1.0v9.88h-1.0zM432.0 54.40h2.0v9.88h-2.0zM443.0 54.40h1.0v9.88h-1.0zM458.0 54.40h1.0v9.88h-1.0zM459.0 54.40h2.0v9.88h-2.0zM267.0 64.28h2.0v9.88h-2.0zM269.0 64.28h2.0v9.88h-2.0zM272.0 64.28h1.0v9.88h-1.0zM274.0 64.28h1.0v9.88h-1.0zM275.0 64.28h1.0v9.88h-1.0zM278.0 64.28h1.0v9.88h-1.0zM282.0 64.28h1.0v9.88h-1.0zM289.0 64.28h1.0v9.88h-1.0zM296.0 64.28h1.0v9.88h-1.0zM301.0 64.28h1.0v9.88h-1.0zM302.0 64.28h1.0v9.88h-1.0zM312.0 64.28h2.0v9.88h-2.0zM318.0 64.28h1.0v9.88h-1.0zM333.0 64.28h2.0v9.88h-2.0zM342.0 64.28h1.0v9.88h-1.0zM346.0 64.28h1.0v9.88h-1.0zM349.0 64.28h1.0v9.88h-1.0zM357.0 64.28h1.0v9.88h-1.0zM364.0 64.28h1.0v9.88h-1.0zM375.0 64.28h1.0v9.88h-1.0zM406.0 64.28h1.0v9.88h-1.0zM407.0 64.28h2.0v9.88h-2.0zM411.0 64.28h1.0v9.88h-1.0zM414.0 64.28h1.0v9.88h-1.0zM425.0 64.28h1.0v9.88h-1.0zM428.0 64.28h1.0v9.88h-1.0zM430.0 64.28h1.0v9.88h-1.0zM438.0 64.28h2.0v9.88h-2.0zM459.0 64.28h1.0v9.88h-1.0zM462.0 64.28h1.0v9.88h-1.0zM465.0 64.28h1.0v9.88h-1.0zM472.0 64.28h1.0v9.88h-1.0zM268.0 74.16h1.0v9.88h-1.0zM272.0 74.16h1.0v9.88h-1.0zM276.0 74.16h1.0v9.88h-1.0zM279.0 74.16h1.0v9.88h-1.0zM286.0 74.16h1.0v9.88h-1.0zM291.0 74.16h1.0v9.88h-1.0zM297.0 74.16h1.0v9.88h-1.0zM298.0 74.16h1.0v9.88h-1.0zM301.0 74.16h2.0v9.88h-2.0zM303.0 74.16h1.0v9.88h-1.0zM307.0 74.16h1.0v9.88h-1.0zM317.0 74.16h1.0v9.88h-1.0zM319.0 74.16h1.0v9.88h-1.0zM325.0 74.16h1.0v9.88h-1.0zM328.0 74.16h1.0v9.88h-1.0zM330.0 74.16h2.0v9.88h-2.0zM332.0 74.16h1.0v9.88h-1.0zM339.0 74.16h1.0v9.88h-1.0zM340.0 74.16h1.0v9.88h-1.0zM343.0 74.16h2.0v9.88h-2.0zM348.0 74.16h1.0v9.88h-1.0zM350.0 74.16h2.0v9.88h-2.0zM352.0 74.16h2.0v9.88h-2.0zM354.0 74.16h1.0v9.88h-1.0zM356.0 74.16h2.0v9.88h-2.0zM360.0 74.16h1.0v9.88h-1.0zM364.0 74.16h1.0v9.88h-1.0zM375.0 74.16h2.0v9.88h-2.0zM380.0 74.16h2.0v9.88h-2.0zM386.0 74.16h2.0v9.88h-2.0zM391.0 74.16h1.0v9.88h-1.0zM403.0 74.16h1.0v9.88h-1.0zM404.0 74.16h1.0v9.88h-1.0zM405.0 74.16h1.0v9.88h-1.0zM413.0 74.16h1.0v9.88h-1.0zM425.0 74.16h2.0v9.88h-2.0zM429.0 74.16h1.0v9.88h-1.0zM430.0 74.16h1.0v9.88h-1.0zM437.0 74.16h1.0v9.88h-1.0zM445.0 74.16h1.0v9.88h-1.0zM446.0 74.16h1.0v9.88h-1.0zM451.0 74.16h1.0v9.88h-1.0zM456.0 74.16h1.0v9.88h-1.0zM457.0 74.16h1.0v9.88h-1.0zM458.0 74.16h1.0v9.88h-1.0zM461.0 74.16h1.0v9.88h-1.0zM463.0 74.16h1.0v9.88h-1.0zM465.0 74.16h1.0v9.88h-1.0zM267.0 220.43h1.0v9.87h-1.0zM270.0 220.43h1.0v9.87h-1.0zM278.0 220.43h1.0v9.87h-1.0zM282.0 220.43h2.0v9.87h-2.0zM297.0 220.43h1.0v9.87h-1.0zM303.0 220.43h1.0v9.87h-1.0zM305.0 220.43h1.0v9.87h-1.0zM312.0 220.43h1.0v9.87h-1.0zM314.0 220.43h1.0v9.87h-1.0zM327.0 220.43h1.0v9.87h-1.0zM340.0 220.43h1.0v9.87h-1.0zM347.0 220.43h1.0v9.87h-1.0zM352.0 220.43h1.0v9.87h-1.0zM360.0 220.43h1.0v9.87h-1.0zM361.0 220.43h1.0v9.87h-1.0zM364.0 220.43h2.0v9.87h-2.0zM366.0 220.43h1.0v9.87h-1.0zM368.0 220.43h1.0v9.87h-1.0zM369.0 220.43h1.0v9.87h-1.0zM371.0 220.43h1.0v9.87h-1.0zM376.0 220.43h1.0v9.87h-1.0zM380.0 220.43h1.0v9.87h-1.0zM381.0 220.43h2.0v9.87h-2.0zM383.0 220.43h1.0v9.87h-1.0zM398.0 220.43h2.0v9.87h-2.0zM406.0 220.43h1.0v9.87h-1.0zM407.0 220.43h1.0v9.87h-1.0zM409.0 220.43h1.0v9.87h-1.0zM412.0 220.43h2.0v9.87h-2.0zM420.0 220.43h2.0v9.87h-2.0zM422.0 220.43h1.0v9.87h-1.0zM426.0 220.43h1.0v9.87h-1.0zM441.0 220.43h1.0v9.87h-1.0zM445.0 220.43h1.0v9.87h-1.0zM452.0 220.43h1.0v9.87h-1.0zM453.0 220.43h1.0v9.87h-1.0zM455.0 220.43h2.0v9.87h-2.0zM457.0 220.43h1.0v9.87h-1.0zM460.0 220.43h1.0v9.87h-1.0zM463.0 220.43h1.0v9.87h-1.0zM471.0 220.43h1.0v9.87h-1.0zM472.0 220.43h1.0v9.87h-1.0zM474.0 220.43h0.6v9.87h-0.6zM270.0 103.80h1.0v9.88h-1.0zM427.0 103.80h1.0v9.88h-1.0zM430.0 103.80h1.0v9.88h-1.0zM275.0 230.30h1.0v9.87h-1.0zM342.0 230.30h1.0v9.87h-1.0zM360.0 230.30h1.0v9.87h-1.0zM364.0 230.30h1.0v9.87h-1.0zM375.0 230.30h1.0v9.87h-1.0zM387.0 230.30h1.0v9.87h-1.0zM391.0 230.30h1.0v9.87h-1.0zM402.0 230.30h1.0v9.87h-1.0zM419.0 230.30h1.0v9.87h-1.0zM426.0 230.30h1.0v9.87h-1.0zM430.0 230.30h2.0v9.87h-2.0zM436.0 230.30h1.0v9.87h-1.0zM446.0 230.30h1.0v9.87h-1.0zM266.0 113.68h1.0v9.88h-1.0zM270.0 113.68h1.0v9.88h-1.0zM281.0 113.68h1.0v9.88h-1.0zM285.0 113.68h1.0v9.88h-1.0zM292.0 113.68h2.0v9.88h-2.0zM294.0 113.68h1.0v9.88h-1.0zM299.0 113.68h1.0v9.88h-1.0zM303.0 113.68h1.0v9.88h-1.0zM305.0 113.68h1.0v9.88h-1.0zM307.0 113.68h1.0v9.88h-1.0zM308.0 113.68h2.0v9.88h-2.0zM318.0 113.68h1.0v9.88h-1.0zM319.0 113.68h1.0v9.88h-1.0zM321.0 113.68h1.0v9.88h-1.0zM322.0 113.68h1.0v9.88h-1.0zM327.0 113.68h1.0v9.88h-1.0zM335.0 113.68h1.0v9.88h-1.0zM342.0 113.68h1.0v9.88h-1.0zM343.0 113.68h2.0v9.88h-2.0zM346.0 113.68h1.0v9.88h-1.0zM350.0 113.68h1.0v9.88h-1.0zM355.0 113.68h2.0v9.88h-2.0zM357.0 113.68h1.0v9.88h-1.0zM358.0 113.68h2.0v9.88h-2.0zM360.0 113.68h1.0v9.88h-1.0zM361.0 113.68h1.0v9.88h-1.0zM362.0 113.68h1.0v9.88h-1.0zM363.0 113.68h1.0v9.88h-1.0zM365.0 113.68h2.0v9.88h-2.0zM367.0 113.68h1.0v9.88h-1.0zM368.0 113.68h1.0v9.88h-1.0zM371.0 113.68h2.0v9.88h-2.0zM381.0 113.68h1.0v9.88h-1.0zM392.0 113.68h1.0v9.88h-1.0zM396.0 113.68h1.0v9.88h-1.0zM403.0 113.68h1.0v9.88h-1.0zM407.0 113.68h1.0v9.88h-1.0zM421.0 113.68h2.0v9.88h-2.0zM424.0 113.68h2.0v9.88h-2.0zM426.0 113.68h1.0v9.88h-1.0zM427.0 113.68h1.0v9.88h-1.0zM431.0 113.68h1.0v9.88h-1.0zM433.0 113.68h1.0v9.88h-1.0zM437.0 113.68h1.0v9.88h-1.0zM438.0 113.68h1.0v9.88h-1.0zM441.0 113.68h2.0v9.88h-2.0zM446.0 113.68h1.0v9.88h-1.0zM448.0 113.68h1.0v9.88h-1.0zM461.0 113.68h1.0v9.88h-1.0zM462.0 113.68h1.0v9.88h-1.0zM474.0 113.68h0.6v9.88h-0.6zM269.0 240.17h1.0v9.87h-1.0zM271.0 240.17h1.0v9.87h-1.0zM274.0 240.17h2.0v9.87h-2.0zM279.0 240.17h2.0v9.87h-2.0zM289.0 240.17h1.0v9.87h-1.0zM291.0 240.17h2.0v9.87h-2.0zM297.0 240.17h1.0v9.87h-1.0zM303.0 240.17h1.0v9.87h-1.0zM306.0 240.17h1.0v9.87h-1.0zM343.0 240.17h1.0v9.87h-1.0zM348.0 240.17h1.0v9.87h-1.0zM355.0 240.17h1.0v9.87h-1.0zM381.0 240.17h1.0v9.87h-1.0zM392.0 240.17h1.0v9.87h-1.0zM395.0 240.17h1.0v9.87h-1.0zM402.0 240.17h1.0v9.87h-1.0zM408.0 240.17h1.0v9.87h-1.0zM434.0 240.17h1.0v9.87h-1.0zM437.0 240.17h1.0v9.87h-1.0zM444.0 240.17h2.0v9.87h-2.0zM450.0 240.17h1.0v9.87h-1.0zM455.0 240.17h1.0v9.87h-1.0zM459.0 240.17h1.0v9.87h-1.0zM467.0 240.17h1.0v9.87h-1.0zM469.0 240.17h1.0v9.87h-1.0z"/>
<path fill="#fffaf8" d="M277.0 5.00h1.0v9.88h-1.0zM281.0 5.00h1.0v9.88h-1.0zM297.0 5.00h1.0v9.88h-1.0zM325.0 5.00h1.0v9.88h-1.0zM329.0 5.00h1.0v9.88h-1.0zM353.0 5.00h1.0v9.88h-1.0zM360.0 5.00h2.0v9.88h-2.0zM363.0 5.00h1.0v9.88h-1.0zM374.0 5.00h1.0v9.88h-1.0zM404.0 5.00h1.0v9.88h-1.0zM414.0 5.00h2.0v9.88h-2.0zM416.0 5.00h1.0v9.88h-1.0zM419.0 5.00h1.0v9.88h-1.0zM447.0 5.00h1.0v9.88h-1.0zM460.0 5.00h1.0v9.88h-1.0zM267.0 131.60h1.0v9.87h-1.0zM348.0 131.60h1.0v9.87h-1.0zM393.0 131.60h1.0v9.87h-1.0zM428.0 131.60h1.0v9.87h-1.0zM432.0 131.60h1.0v9.87h-1.0zM434.0 131.60h1.0v9.87h-1.0zM456.0 131.60h2.0v9.87h-2.0zM266.0 141.47h1.0v9.87h-1.0zM267.0 141.47h1.0v9.87h-1.0zM268.0 141.47h2.0v9.87h-2.0zM271.0 141.47h1.0v9.87h-1.0zM272.0 141.47h1.0v9.87h-1.0zM274.0 141.47h1.0v9.87h-1.0zM277.0 141.47h2.0v9.87h-2.0zM279.0 141.47h1.0v9.87h-1.0zM280.0 141.47h1.0v9.87h-1.0zM281.0 141.47h1.0v9.87h-1.0zM282.0 141.47h1.0v9.87h-1.0zM283.0 141.47h1.0v9.87h-1.0zM284.0 141.47h1.0v9.87h-1.0zM285.0 141.47h1.0v9.87h-1.0zM286.0 141.47h1.0v9.87h-1.0zM288.0 141.47h1.0v9.87h-1.0zM289.0 141.47h1.0v9.87h-1.0zM293.0 141.47h1.0v9.87h-1.0zM297.0 141.47h1.0v9.87h-1.0zM299.0 141.47h1.0v9.87h-1.0zM300.0 141.47h1.0v9.87h-1.0zM301.0 141.47h1.0v9.87h-1.0zM302.0 141.47h1.0v9.87h-1.0zM304.0 141.47h1.0v9.87h-1.0zM305.0 141.47h1.0v9.87h-1.0zM306.0 141.47h2.0v9.87h-2.0zM308.0 141.47h1.0v9.87h-1.0zM309.0 141.47h2.0v9.87h-2.0zM312.0 141.47h1.0v9.87h-1.0zM316.0 141.47h1.0v9.87h-1.0zM317.0 141.47h1.0v9.87h-1.0zM318.0 141.47h1.0v9.87h-1.0zM319.0 141.47h1.0v9.87h-1.0zM320.0 141.47h1.0v9.87h-1.0zM323.0 141.47h1.0v9.87h-1.0zM324.0 141.47h1.0v9.87h-1.0zM326.0 141.47h1.0v9.87h-1.0zM327.0 141.47h1.0v9.87h-1.0zM328.0 141.47h1.0v9.87h-1.0zM329.0 141.47h1.0v9.87h-1.0zM330.0 141.47h1.0v9.87h-1.0zM331.0 141.47h1.0v9.87h-1.0zM332.0 141.47h2.0v9.87h-2.0zM334.0 141.47h1.0v9.87h-1.0zM335.0 141.47h1.0v9.87h-1.0zM336.0 141.47h1.0v9.87h-1.0zM338.0 141.47h2.0v9.87h-2.0zM340.0 141.47h1.0v9.87h-1.0zM341.0 141.47h1.0v9.87h-1.0zM342.0 141.47h2.0v9.87h-2.0zM344.0 141.47h1.0v9.87h-1.0zM349.0 141.47h1.0v9.87h-1.0zM350.0 141.47h2.0v9.87h-2.0zM352.0 141.47h1.0v9.87h-1.0zM353.0 141.47h1.0v9.87h-1.0zM354.0 141.47h2.0v9.87h-2.0zM356.0 141.47h1.0v9.87h-1.0zM358.0 141.47h1.0v9.87h-1.0zM359.0 141.47h1.0v9.87h-1.0zM362.0 141.47h1.0v9.87h-1.0zM365.0 141.47h1.0v9.87h-1.0zM366.0 141.47h1.0v9.87h-1.0zM367.0 141.47h2.0v9.87h-2.0zM369.0 141.47h2.0v9.87h-2.0zM371.0 141.47h1.0v9.87h-1.0zM372.0 141.47h1.0v9.87h-1.0zM373.0 141.47h1.0v9.87h-1.0zM374.0 141.47h1.0v9.87h-1.0zM376.0 141.47h1.0v9.87h-1.0zM377.0 141.47h1.0v9.87h-1.0zM378.0 141.47h1.0v9.87h-1.0zM379.0 141.47h1.0v9.87h-1.0zM380.0 141.47h2.0v9.87h-2.0zM382.0 141.47h1.0v9.87h-1.0zM383.0 141.47h2.0v9.87h-2.0zM385.0 141.47h1.0v9.87h-1.0zM386.0 141.47h1.0v9.87h-1.0zM387.0 141.47h1.0v9.87h-1.0zM389.0 141.47h1.0v9.87h-1.0zM390.0 141.47h1.0v9.87h-1.0zM391.0 141.47h1.0v9.87h-1.0zM392.0 141.47h1.0v9.87h-1.0zM393.0 141.47h2.0v9.87h-2.0zM395.0 141.47h1.0v9.87h-1.0zM396.0 141.47h1.0v9.87h-1.0zM398.0 141.47h2.0v9.87h-2.0zM402.0 141.47h1.0v9.87h-1.0zM403.0 141.47h2.0v9.87h-2.0zM405.0 141.47h1.0v9.87h-1.0zM407.0 141.47h1.0v9.87h-1.0zM408.0 141.47h1.0v9.87h-1.0zM409.0 141.47h2.0v9.87h-2.0zM411.0 141.47h1.0v9.87h-1.0zM412.0 141.47h1.0v9.87h-1.0zM413.0 141.47h1.0v9.87h-1.0zM417.0 141.47h1.0v9.87h-1.0zM418.0 141.47h1.0v9.87h-1.0zM419.0 141.47h1.0v9.87h-1.0zM423.0 141.47h2.0v9.87h-2.0zM425.0 141.47h1.0v9.87h-1.0zM426.0 141.47h1.0v9.87h-1.0zM427.0 141.47h1.0v9.87h-1.0zM429.0 141.47h2.0v9.87h-2.0zM432.0 141.47h1.0v9.87h-1.0zM433.0 141.47h2.0v9.87h-2.0zM435.0 141.47h1.0v9.87h-1.0zM436.0 141.47h1.0v9.87h-1.0zM437.0 141.47h1.0v9.87h-1.0zM438.0 141.47h2.0v9.87h-2.0zM440.0 141.47h1.0v9.87h-1.0zM441.0 141.47h1.0v9.87h-1.0zM442.0 141.47h1.0v9.87h-1.0zM443.0 141.47h1.0v9.87h-1.0zM444.0 141.47h1.0v9.87h-1.0zM446.0 141.47h1.0v9.87h-1.0zM447.0 141.47h1.0v9.87h-1.0zM448.0 141.47h1.0v9.87h-1.0zM449.0 141.47h2.0v9.87h-2.0zM451.0 141.47h2.0v9.87h-2.0zM454.0 141.47h1.0v9.87h-1.0zM455.0 141.47h1.0v9.87h-1.0zM456.0 141.47h1.0v9.87h-1.0zM457.0 141.47h1.0v9.87h-1.0zM458.0 141.47h1.0v9.87h-1.0zM459.0 141.47h2.0v9.87h-2.0zM462.0 141.47h1.0v9.87h-1.0zM463.0 141.47h1.0v9.87h-1.0zM464.0 141.47h2.0v9.87h-2.0zM467.0 141.47h1.0v9.87h-1.0zM468.0 141.47h2.0v9.87h-2.0zM470.0 141.47h1.0v9.87h-1.0zM471.0 141.47h1.0v9.87h-1.0zM472.0 141.47h1.0v9.87h-1.0zM473.0 141.47h1.0v9.87h-1.0zM267.0 24.76h1.0v9.88h-1.0zM287.0 24.76h1.0v9.88h-1.0zM297.0 24.76h1.0v9.88h-1.0zM301.0 24.76h1.0v9.88h-1.0zM304.0 24.76h1.0v9.88h-1.0zM311.0 24.76h1.0v9.88h-1.0zM313.0 24.76h1.0v9.88h-1.0zM326.0 24.76h1.0v9.88h-1.0zM337.0 24.76h1.0v9.88h-1.0zM344.0 24.76h1.0v9.88h-1.0zM350.0 24.76h1.0v9.88h-1.0zM357.0 24.76h1.0v9.88h-1.0zM382.0 24.76h2.0v9.88h-2.0zM384.0 24.76h2.0v9.88h-2.0zM389.0 24.76h2.0v9.88h-2.0zM401.0 24.76h1.0v9.88h-1.0zM418.0 24.76h1.0v9.88h-1.0zM426.0 24.76h1.0v9.88h-1.0zM449.0 24.76h1.0v9.88h-1.0zM462.0 24.76h2.0v9.88h-2.0zM470.0 24.76h1.0v9.88h-1.0zM266.0 151.34h1.0v9.87h-1.0zM267.0 151.34h1.0v9.87h-1.0zM270.0 151.34h1.0v9.87h-1.0zM274.0 151.34h1.0v9.87h-1.0zM275.0 151.34h1.0v9.87h-1.0zM276.0 151.34h1.0v9.87h-1.0zM280.0 151.34h1.0v9.87h-1.0zM282.0 151.34h1.0v9.87h-1.0zM283.0 151.34h1.0v9.87h-1.0zM285.0 151.34h1.0v9.87h-1.0zM286.0 151.34h1.0v9.87h-1.0zM288.0 151.34h1.0v9.87h-1.0zM289.0 151.34h1.0v9.87h-1.0zM290.0 151.34h1.0v9.87h-1.0zM292.0 151.34h1.0v9.87h-1.0zM293.0 151.34h1.0v9.87h-1.0zM294.0 151.34h1.0v9.87h-1.0zM297.0 151.34h1.0v9.87h-1.0zM298.0 151.34h2.0v9.87h-2.0zM300.0 151.34h1.0v9.87h-1.0zM301.0 151.34h1.0v9.87h-1.0zM302.0 151.34h1.0v9.87h-1.0zM303.0 151.34h1.0v9.87h-1.0zM304.0 151.34h1.0v9.87h-1.0zM305.0 151.34h1.0v9.87h-1.0zM306.0 151.34h1.0v9.87h-1.0zM307.0 151.34h2.0v9.87h-2.0zM309.0 151.34h1.0v9.87h-1.0zM310.0 151.34h1.0v9.87h-1.0zM311.0 151.34h1.0v9.87h-1.0zM313.0 151.34h1.0v9.87h-1.0zM314.0 151.34h2.0v9.87h-2.0zM316.0 151.34h2.0v9.87h-2.0zM318.0 151.34h2.0v9.87h-2.0zM321.0 151.34h1.0v9.87h-1.0zM324.0 151.34h1.0v9.87h-1.0zM325.0 151.34h1.0v9.87h-1.0zM327.0 151.34h1.0v9.87h-1.0zM328.0 151.34h1.0v9.87h-1.0zM330.0 151.34h1.0v9.87h-1.0zM331.0 151.34h1.0v9.87h-1.0zM332.0 151.34h1.0v9.87h-1.0zM333.0 151.34h1.0v9.87h-1.0zM334.0 151.34h1.0v9.87h-1.0zM336.0 151.34h2.0v9.87h-2.0zM338.0 151.34h1.0v9.87h-1.0zM339.0 151.34h1.0v9.87h-1.0zM340.0 151.34h1.0v9.87h-1.0zM341.0 151.34h1.0v9.87h-1.0zM342.0 151.34h1.0v9.87h-1.0zM343.0 151.34h1.0v9.87h-1.0zM344.0 151.34h1.0v9.87h-1.0zM345.0 151.34h2.0v9.87h-2.0zM347.0 151.34h2.0v9.87h-2.0zM350.0 151.34h2.0v9.87h-2.0zM352.0 151.34h1.0v9.87h-1.0zM355.0 151.34h1.0v9.87h-1.0zM356.0 151.34h1.0v9.87h-1.0zM357.0 151.34h1.0v9.87h-1.0zM358.0 151.34h1.0v9.87h-1.0zM360.0 151.34h2.0v9.87h-2.0zM362.0 151.34h1.0v9.87h-1.0zM363.0 151.34h1.0v9.87h-1.0zM364.0 151.34h1.0v9.87h-1.0zM365.0 151.34h1.0v9.87h-1.0zM366.0 151.34h1.0v9.87h-1.0zM368.0 151.34h1.0v9.87h-1.0zM369.0 151.34h1.0v9.87h-1.0zM370.0 151.34h2.0v9.87h-2.0zM372.0 151.34h1.0v9.87h-1.0zM373.0 151.34h1.0v9.87h-1.0zM374.0 151.34h1.0v9.87h-1.0zM375.0 151.34h1.0v9.87h-1.0zM376.0 151.34h1.0v9.87h-1.0zM377.0 151.34h2.0v9.87h-2.0zM379.0 151.34h1.0v9.87h-1.0zM380.0 151.34h1.0v9.87h-1.0zM381.0 151.34h1.0v9.87h-1.0zM382.0 151.34h1.0v9.87h-1.0zM383.0 151.34h1.0v9.87h-1.0zM384.0 151.34h1.0v9.87h-1.0zM385.0 151.34h1.0v9.87h-1.0zM386.0 151.34h1.0v9.87h-1.0zM387.0 151.34h1.0v9.87h-1.0zM389.0 151.34h1.0v9.87h-1.0zM390.0 151.34h1.0v9.87h-1.0zM391.0 151.34h1.0v9.87h-1.0zM392.0 151.34h1.0v9.87h-1.0zM394.0 151.34h1.0v9.87h-1.0zM395.0 151.34h1.0v9.87h-1.0zM396.0 151.34h1.0v9.87h-1.0zM398.0 151.34h1.0v9.87h-1.0zM399.0 151.34h1.0v9.87h-1.0zM400.0 151.34h1.0v9.87h-1.0zM401.0 151.34h1.0v9.87h-1.0zM404.0 151.34h1.0v9.87h-1.0zM405.0 151.34h1.0v9.87h-1.0zM406.0 151.34h1.0v9.87h-1.0zM407.0 151.34h1.0v9.87h-1.0zM408.0 151.34h1.0v9.87h-1.0zM409.0 151.34h2.0v9.87h-2.0zM412.0 151.34h1.0v9.87h-1.0zM414.0 151.34h2.0v9.87h-2.0zM416.0 151.34h1.0v9.87h-1.0zM417.0 151.34h1.0v9.87h-1.0zM418.0 151.34h2.0v9.87h-2.0zM420.0 151.34h1.0v9.87h-1.0zM421.0 151.34h1.0v9.87h-1.0zM422.0 151.34h1.0v9.87h-1.0zM423.0 151.34h1.0v9.87h-1.0zM424.0 151.34h1.0v9.87h-1.0zM425.0 151.34h1.0v9.87h-1.0zM426.0 151.34h1.0v9.87h-1.0zM427.0 151.34h1.0v9.87h-1.0zM431.0 151.34h1.0v9.87h-1.0zM433.0 151.34h1.0v9.87h-1.0zM434.0 151.34h1.0v9.87h-1.0zM435.0 151.34h1.0v9.87h-1.0zM436.0 151.34h1.0v9.87h-1.0zM437.0 151.34h1.0v9.87h-1.0zM440.0 151.34h1.0v9.87h-1.0zM441.0 151.34h1.0v9.87h-1.0zM442.0 151.34h1.0v9.87h-1.0zM443.0 151.34h2.0v9.87h-2.0zM445.0 151.34h2.0v9.87h-2.0zM447.0 151.34h1.0v9.87h-1.0zM448.0 151.34h2.0v9.87h-2.0zM450.0 151.34h1.0v9.87h-1.0zM451.0 151.34h1.0v9.87h-1.0zM452.0 151.34h2.0v9.87h-2.0zM454.0 151.34h1.0v9.87h-1.0zM455.0 151.34h1.0v9.87h-1.0zM456.0 151.34h1.0v9.87h-1.0zM460.0 151.34h1.0v9.87h-1.0zM461.0 151.34h1.0v9.87h-1.0zM463.0 151.34h1.0v9.87h-1.0zM465.0 151.34h1.0v9.87h-1.0zM466.0 151.34h1.0v9.87h-1.0zM467.0 151.34h1.0v9.87h-1.0zM468.0 151.34h1.0v9.87h-1.0zM469.0 151.34h1.0v9.87h-1.0zM471.0 151.34h1.0v9.87h-1.0zM473.0 151.34h1.6v9.87h-1.6zM277.0 34.64h2.0v9.88h-2.0zM426.0 34.64h2.0v9.88h-2.0zM473.0 34.64h1.0v9.88h-1.0zM327.0 161.21h1.0v9.87h-1.0zM424.0 161.21h1.0v9.87h-1.0zM436.0 161.21h1.0v9.87h-1.0zM447.0 161.21h2.0v9.87h-2.0zM299.0 44.52h1.0v9.88h-1.0zM305.0 44.52h1.0v9.88h-1.0zM314.0 44.52h2.0v9.88h-2.0zM352.0 44.52h2.0v9.88h-2.0zM363.0 44.52h2.0v9.88h-2.0zM365.0 44.52h2.0v9.88h-2.0zM369.0 44.52h1.0v9.88h-1.0zM376.0 44.52h2.0v9.88h-2.0zM379.0 44.52h1.0v9.88h-1.0zM387.0 44.52h1.0v9.88h-1.0zM389.0 44.52h1.0v9.88h-1.0zM391.0 44.52h1.0v9.88h-1.0zM418.0 44.52h1.0v9.88h-1.0zM432.0 44.52h1.0v9.88h-1.0zM436.0 44.52h1.0v9.88h-1.0zM284.0 171.08h1.0v9.87h-1.0zM382.0 171.08h2.0v9.87h-2.0zM284.0 54.40h1.0v9.88h-1.0zM317.0 54.40h1.0v9.88h-1.0zM340.0 54.40h1.0v9.88h-1.0zM371.0 54.40h1.0v9.88h-1.0zM398.0 54.40h1.0v9.88h-1.0zM403.0 54.40h1.0v9.88h-1.0zM471.0 54.40h1.0v9.88h-1.0zM266.0 180.95h1.0v9.87h-1.0zM268.0 180.95h1.0v9.87h-1.0zM269.0 180.95h1.0v9.87h-1.0zM270.0 180.95h1.0v9.87h-1.0zM271.0 180.95h2.0v9.87h-2.0zM273.0 180.95h1.0v9.87h-1.0zM274.0 180.95h2.0v9.87h-2.0zM281.0 180.95h1.0v9.87h-1.0zM283.0 180.95h1.0v9.87h-1.0zM284.0 180.95h1.0v9.87h-1.0zM287.0 180.95h1.0v9.87h-1.0zM289.0 180.95h1.0v9.87h-1.0zM292.0 180.95h1.0v9.87h-1.0zM299.0 180.95h1.0v9.87h-1.0zM303.0 180.95h1.0v9.87h-1.0zM304.0 180.95h2.0v9.87h-2.0zM309.0 180.95h1.0v9.87h-1.0zM312.0 180.95h1.0v9.87h-1.0zM313.0 180.95h2.0v9.87h-2.0zM316.0 180.95h1.0v9.87h-1.0zM319.0 180.95h2.0v9.87h-2.0zM321.0 180.95h1.0v9.87h-1.0zM324.0 180.95h1.0v9.87h-1.0zM325.0 180.95h2.0v9.87h-2.0zM327.0 180.95h1.0v9.87h-1.0zM329.0 180.95h1.0v9.87h-1.0zM330.0 180.95h1.0v9.87h-1.0zM333.0 180.95h1.0v9.87h-1.0zM334.0 180.95h1.0v9.87h-1.0zM335.0 180.95h2.0v9.87h-2.0zM337.0 180.95h1.0v9.87h-1.0zM339.0 180.95h1.0v9.87h-1.0zM341.0 180.95h1.0v9.87h-1.0zM346.0 180.95h1.0v9.87h-1.0zM347.0 180.95h2.0v9.87h-2.0zM352.0 180.95h2.0v9.87h-2.0zM356.0 180.95h1.0v9.87h-1.0zM357.0 180.95h1.0v9.87h-1.0zM359.0 180.95h1.0v9.87h-1.0zM360.0 180.95h1.0v9.87h-1.0zM364.0 180.95h1.0v9.87h-1.0zM371.0 180.95h1.0v9.87h-1.0zM373.0 180.95h1.0v9.87h-1.0zM379.0 180.95h1.0v9.87h-1.0zM385.0 180.95h1.0v9.87h-1.0zM386.0 180.95h1.0v9.87h-1.0zM387.0 180.95h1.0v9.87h-1.0zM388.0 180.95h1.0v9.87h-1.0zM389.0 180.95h1.0v9.87h-1.0zM390.0 180.95h2.0v9.87h-2.0zM392.0 180.95h1.0v9.87h-1.0zM393.0 180.95h2.0v9.87h-2.0zM396.0 180.95h1.0v9.87h-1.0zM397.0 180.95h1.0v9.87h-1.0zM399.0 180.95h1.0v9.87h-1.0zM400.0 180.95h1.0v9.87h-1.0zM401.0 180.95h2.0v9.87h-2.0zM403.0 180.95h2.0v9.87h-2.0zM406.0 180.95h1.0v9.87h-1.0zM410.0 180.95h1.0v9.87h-1.0zM414.0 180.95h1.0v9.87h-1.0zM415.0 180.95h1.0v9.87h-1.0zM418.0 180.95h1.0v9.87h-1.0zM420.0 180.95h2.0v9.87h-2.0zM422.0 180.95h1.0v9.87h-1.0zM425.0 180.95h1.0v9.87h-1.0zM430.0 180.95h1.0v9.87h-1.0zM431.0 180.95h1.0v9.87h-1.0zM432.0 180.95h2.0v9.87h-2.0zM434.0 180.95h1.0v9.87h-1.0zM435.0 180.95h2.0v9.87h-2.0zM437.0 180.95h1.0v9.87h-1.0zM438.0 180.95h1.0v9.87h-1.0zM446.0 180.95h1.0v9.87h-1.0zM448.0 180.95h1.0v9.87h-1.0zM449.0 180.95h2.0v9.87h-2.0zM452.0 180.95h1.0v9.87h-1.0zM455.0 180.95h2.0v9.87h-2.0zM460.0 180.95h1.0v9.87h-1.0zM463.0 180.95h1.0v9.87h-1.0zM464.0 180.95h1.0v9.87h-1.0zM465.0 180.95h1.0v9.87h-1.0zM466.0 180.95h1.0v9.87h-1.0zM468.0 180.95h1.0v9.87h-1.0zM469.0 180.95h1.0v9.87h-1.0zM470.0 180.95h1.0v9.87h-1.0zM281.0 64.28h1.0v9.88h-1.0zM328.0 64.28h2.0v9.88h-2.0zM337.0 64.28h1.0v9.88h-1.0zM343.0 64.28h1.0v9.88h-1.0zM373.0 64.28h2.0v9.88h-2.0zM409.0 64.28h1.0v9.88h-1.0zM429.0 64.28h1.0v9.88h-1.0zM447.0 64.28h1.0v9.88h-1.0zM266.0 190.82h1.0v9.87h-1.0zM269.0 190.82h1.0v9.87h-1.0zM272.0 190.82h1.0v9.87h-1.0zM274.0 190.82h1.0v9.87h-1.0zM275.0 190.82h2.0v9.87h-2.0zM281.0 190.82h1.0v9.87h-1.0zM289.0 190.82h1.0v9.87h-1.0zM299.0 190.82h2.0v9.87h-2.0zM304.0 190.82h1.0v9.87h-1.0zM311.0 190.82h1.0v9.87h-1.0zM314.0 190.82h1.0v9.87h-1.0zM320.0 190.82h1.0v9.87h-1.0zM327.0 190.82h1.0v9.87h-1.0zM328.0 190.82h1.0v9.87h-1.0zM336.0 190.82h1.0v9.87h-1.0zM339.0 190.82h1.0v9.87h-1.0zM340.0 190.82h1.0v9.87h-1.0zM342.0 190.82h1.0v9.87h-1.0zM345.0 190.82h1.0v9.87h-1.0zM348.0 190.82h1.0v9.87h-1.0zM354.0 190.82h1.0v9.87h-1.0zM368.0 190.82h1.0v9.87h-1.0zM371.0 190.82h1.0v9.87h-1.0zM374.0 190.82h1.0v9.87h-1.0zM375.0 190.82h1.0v9.87h-1.0zM381.0 190.82h1.0v9.87h-1.0zM385.0 190.82h1.0v9.87h-1.0zM386.0 190.82h2.0v9.87h-2.0zM391.0 190.82h1.0v9.87h-1.0zM396.0 190.82h1.0v9.87h-1.0zM403.0 190.82h1.0v9.87h-1.0zM404.0 190.82h2.0v9.87h-2.0zM406.0 190.82h1.0v9.87h-1.0zM407.0 190.82h2.0v9.87h-2.0zM415.0 190.82h1.0v9.87h-1.0zM416.0 190.82h2.0v9.87h-2.0zM419.0 190.82h1.0v9.87h-1.0zM421.0 190.82h1.0v9.87h-1.0zM428.0 190.82h1.0v9.87h-1.0zM432.0 190.82h1.0v9.87h-1.0zM440.0 190.82h2.0v9.87h-2.0zM465.0 190.82h1.0v9.87h-1.0zM470.0 190.82h1.0v9.87h-1.0zM471.0 190.82h1.0v9.87h-1.0zM280.0 74.16h1.0v9.88h-1.0zM284.0 74.16h1.0v9.88h-1.0zM314.0 74.16h1.0v9.88h-1.0zM329.0 74.16h1.0v9.88h-1.0zM334.0 74.16h2.0v9.88h-2.0zM347.0 74.16h1.0v9.88h-1.0zM355.0 74.16h1.0v9.88h-1.0zM408.0 74.16h2.0v9.88h-2.0zM418.0 74.16h2.0v9.88h-2.0zM431.0 74.16h1.0v9.88h-1.0zM435.0 74.16h2.0v9.88h-2.0zM447.0 74.16h1.0v9.88h-1.0zM286.0 200.69h1.0v9.87h-1.0zM267.0 84.04h1.0v9.88h-1.0zM282.0 84.04h1.0v9.88h-1.0zM288.0 84.04h2.0v9.88h-2.0zM292.0 84.04h2.0v9.88h-2.0zM325.0 84.04h2.0v9.88h-2.0zM330.0 84.04h1.0v9.88h-1.0zM344.0 84.04h2.0v9.88h-2.0zM356.0 84.04h1.0v9.88h-1.0zM357.0 84.04h1.0v9.88h-1.0zM369.0 84.04h1.0v9.88h-1.0zM371.0 84.04h1.0v9.88h-1.0zM380.0 84.04h1.0v9.88h-1.0zM386.0 84.04h2.0v9.88h-2.0zM404.0 84.04h1.0v9.88h-1.0zM430.0 84.04h1.0v9.88h-1.0zM445.0 84.04h2.0v9.88h-2.0zM460.0 84.04h1.0v9.88h-1.0zM266.0 210.56h2.0v9.87h-2.0zM276.0 210.56h1.0v9.87h-1.0zM277.0 210.56h1.0v9.87h-1.0zM286.0 210.56h2.0v9.87h-2.0zM295.0 210.56h1.0v9.87h-1.0zM307.0 210.56h1.0v9.87h-1.0zM311.0 210.56h2.0v9.87h-2.0zM322.0 210.56h1.0v9.87h-1.0zM333.0 210.56h2.0v9.87h-2.0zM339.0 210.56h1.0v9.87h-1.0zM404.0 210.56h1.0v9.87h-1.0zM405.0 210.56h1.0v9.87h-1.0zM407.0 210.56h1.0v9.87h-1.0zM408.0 210.56h1.0v9.87h-1.0zM436.0 210.56h1.0v9.87h-1.0zM439.0 210.56h1.0v9.87h-1.0zM444.0 210.56h1.0v9.87h-1.0zM458.0 210.56h2.0v9.87h-2.0zM357.0 93.92h2.0v9.88h-2.0zM281.0 220.43h1.0v9.87h-1.0zM315.0 220.43h1.0v9.87h-1.0zM316.0 220.43h2.0v9.87h-2.0zM334.0 220.43h1.0v9.87h-1.0zM353.0 220.43h2.0v9.87h-2.0zM386.0 220.43h1.0v9.87h-1.0zM430.0 220.43h1.0v9.87h-1.0zM437.0 220.43h1.0v9.87h-1.0zM465.0 220.43h1.0v9.87h-1.0zM468.0 220.43h2.0v9.87h-2.0zM449.0 103.80h2.0v9.88h-2.0zM462.0 103.80h2.0v9.88h-2.0zM283.0 230.30h2.0v9.87h-2.0zM290.0 230.30h1.0v9.87h-1.0zM304.0 230.30h2.0v9.87h-2.0zM315.0 230.30h1.0v9.87h-1.0zM343.0 230.30h1.0v9.87h-1.0zM344.0 230.30h1.0v9.87h-1.0zM366.0 230.30h1.0v9.87h-1.0zM369.0 230.30h1.0v9.87h-1.0zM381.0 230.30h2.0v9.87h-2.0zM408.0 230.30h2.0v9.87h-2.0zM432.0 230.30h1.0v9.87h-1.0zM456.0 230.30h1.0v9.87h-1.0zM465.0 230.30h1.0v9.87h-1.0zM278.0 113.68h1.0v9.88h-1.0zM282.0 113.68h1.0v9.88h-1.0zM333.0 113.68h2.0v9.88h-2.0zM339.0 113.68h2.0v9.88h-2.0zM347.0 113.68h1.0v9.88h-1.0zM348.0 113.68h1.0v9.88h-1.0zM369.0 113.68h2.0v9.88h-2.0zM417.0 113.68h1.0v9.88h-1.0zM428.0 113.68h1.0v9.88h-1.0zM429.0 113.68h1.0v9.88h-1.0zM443.0 113.68h1.0v9.88h-1.0zM452.0 113.68h1.0v9.88h-1.0zM454.0 113.68h1.0v9.88h-1.0zM472.0 113.68h2.0v9.88h-2.0zM283.0 240.17h2.0v9.87h-2.0zM293.0 240.17h1.0v9.87h-1.0zM320.0 240.17h1.0v9.87h-1.0zM335.0 240.17h1.0v9.87h-1.0zM358.0 240.17h1.0v9.87h-1.0zM361.0 240.17h1.0v9.87h-1.0zM411.0 240.17h1.0v9.87h-1.0zM431.0 240.17h1.0v9.87h-1.0z"/>
<path fill="#feefe9" d="M278.0 5.00h1.0v9.88h-1.0zM279.0 5.00h1.0v9.88h-1.0zM280.0 5.00h1.0v9.88h-1.0zM304.0 5.00h1.0v9.88h-1.0zM323.0 5.00h1.0v9.88h-1.0zM336.0 5.00h1.0v9.88h-1.0zM340.0 5.00h1.0v9.88h-1.0zM347.0 5.00h1.0v9.88h-1.0zM349.0 5.00h2.0v9.88h-2.0zM352.0 5.00h1.0v9.88h-1.0zM358.0 5.00h1.0v9.88h-1.0zM364.0 5.00h1.0v9.88h-1.0zM375.0 5.00h2.0v9.88h-2.0zM379.0 5.00h2.0v9.88h-2.0zM387.0 5.00h1.0v9.88h-1.0zM400.0 5.00h2.0v9.88h-2.0zM403.0 5.00h1.0v9.88h-1.0zM405.0 5.00h1.0v9.88h-1.0zM408.0 5.00h1.0v9.88h-1.0zM413.0 5.00h1.0v9.88h-1.0zM424.0 5.00h1.0v9.88h-1.0zM427.0 5.00h1.0v9.88h-1.0zM443.0 5.00h1.0v9.88h-1.0zM463.0 5.00h2.0v9.88h-2.0zM298.0 131.60h2.0v9.87h-2.0zM302.0 131.60h1.0v9.87h-1.0zM305.0 131.60h2.0v9.87h-2.0zM358.0 131.60h1.0v9.87h-1.0zM381.0 131.60h2.0v9.87h-2.0zM397.0 131.60h1.0v9.87h-1.0zM429.0 131.60h1.0v9.87h-1.0zM439.0 131.60h1.0v9.87h-1.0zM415.0 14.88h1.0v9.88h-1.0zM268.0 24.76h1.0v9.88h-1.0zM270.0 24.76h1.0v9.88h-1.0zM274.0 24.76h1.0v9.88h-1.0zM277.0 24.76h1.0v9.88h-1.0zM281.0 24.76h1.0v9.88h-1.0zM282.0 24.76h1.0v9.88h-1.0zM283.0 24.76h1.0v9.88h-1.0zM284.0 24.76h1.0v9.88h-1.0zM285.0 24.76h1.0v9.88h-1.0zM286.0 24.76h1.0v9.88h-1.0zM291.0 24.76h1.0v9.88h-1.0zM293.0 24.76h1.0v9.88h-1.0zM294.0 24.76h1.0v9.88h-1.0zM295.0 24.76h1.0v9.88h-1.0zM300.0 24.76h1.0v9.88h-1.0zM305.0 24.76h1.0v9.88h-1.0zM306.0 24.76h1.0v9.88h-1.0zM307.0 24.76h1.0v9.88h-1.0zM308.0 24.76h1.0v9.88h-1.0zM312.0 24.76h1.0v9.88h-1.0zM314.0 24.76h1.0v9.88h-1.0zM315.0 24.76h1.0v9.88h-1.0zM316.0 24.76h1.0v9.88h-1.0zM317.0 24.76h2.0v9.88h-2.0zM324.0 24.76h1.0v9.88h-1.0zM330.0 24.76h1.0v9.88h-1.0zM331.0 24.76h1.0v9.88h-1.0zM332.0 24.76h1.0v9.88h-1.0zM338.0 24.76h1.0v9.88h-1.0zM339.0 24.76h1.0v9.88h-1.0zM340.0 24.76h2.0v9.88h-2.0zM342.0 24.76h1.0v9.88h-1.0zM352.0 24.76h1.0v9.88h-1.0zM356.0 24.76h1.0v9.88h-1.0zM359.0 24.76h1.0v9.88h-1.0zM365.0 24.76h2.0v9.88h-2.0zM369.0 24.76h1.0v9.88h-1.0zM370.0 24.76h1.0v9.88h-1.0zM371.0 24.76h2.0v9.88h-2.0zM373.0 24.76h1.0v9.88h-1.0zM386.0 24.76h1.0v9.88h-1.0zM388.0 24.76h1.0v9.88h-1.0zM392.0 24.76h1.0v9.88h-1.0zM394.0 24.76h1.0v9.88h-1.0zM396.0 24.76h1.0v9.88h-1.0zM402.0 24.76h1.0v9.88h-1.0zM405.0 24.76h1.0v9.88h-1.0zM407.0 24.76h2.0v9.88h-2.0zM409.0 24.76h1.0v9.88h-1.0zM410.0 24.76h2.0v9.88h-2.0zM414.0 24.76h1.0v9.88h-1.0zM415.0 24.76h1.0v9.88h-1.0zM424.0 24.76h1.0v9.88h-1.0zM425.0 24.76h1.0v9.88h-1.0zM427.0 24.76h1.0v9.88h-1.0zM434.0 24.76h1.0v9.88h-1.0zM439.0 24.76h2.0v9.88h-2.0zM444.0 24.76h1.0v9.88h-1.0zM451.0 24.76h1.0v9.88h-1.0zM455.0 24.76h1.0v9.88h-1.0zM458.0 24.76h1.0v9.88h-1.0zM460.0 24.76h1.0v9.88h-1.0zM468.0 24.76h1.0v9.88h-1.0zM469.0 24.76h1.0v9.88h-1.0zM472.0 24.76h1.0v9.88h-1.0zM473.0 24.76h1.0v9.88h-1.0zM474.0 24.76h0.6v9.88h-0.6zM325.0 34.64h1.0v9.88h-1.0zM288.0 161.21h2.0v9.87h-2.0zM407.0 161.21h2.0v9.87h-2.0zM426.0 161.21h2.0v9.87h-2.0zM293.0 44.52h1.0v9.88h-1.0zM302.0 44.52h2.0v9.88h-2.0zM345.0 44.52h1.0v9.88h-1.0zM346.0 44.52h1.0v9.88h-1.0zM348.0 44.52h1.0v9.88h-1.0zM370.0 44.52h1.0v9.88h-1.0zM371.0 44.52h1.0v9.88h-1.0zM399.0 44.52h1.0v9.88h-1.0zM433.0 44.52h1.0v9.88h-1.0zM439.0 44.52h1.0v9.88h-1.0zM467.0 44.52h1.0v9.88h-1.0zM365.0 171.08h2.0v9.87h-2.0zM401.0 171.08h1.0v9.87h-1.0zM435.0 171.08h1.0v9.87h-1.0zM303.0 54.40h1.0v9.88h-1.0zM434.0 54.40h1.0v9.88h-1.0zM447.0 54.40h1.0v9.88h-1.0zM324.0 64.28h1.0v9.88h-1.0zM440.0 64.28h1.0v9.88h-1.0zM454.0 64.28h1.0v9.88h-1.0zM285.0 74.16h1.0v9.88h-1.0zM287.0 74.16h1.0v9.88h-1.0zM341.0 74.16h2.0v9.88h-2.0zM345.0 74.16h2.0v9.88h-2.0zM349.0 74.16h1.0v9.88h-1.0zM368.0 74.16h1.0v9.88h-1.0zM384.0 74.16h2.0v9.88h-2.0zM392.0 74.16h1.0v9.88h-1.0zM394.0 74.16h1.0v9.88h-1.0zM401.0 74.16h1.0v9.88h-1.0zM402.0 74.16h1.0v9.88h-1.0zM421.0 74.16h1.0v9.88h-1.0zM427.0 74.16h1.0v9.88h-1.0zM428.0 74.16h1.0v9.88h-1.0zM432.0 74.16h1.0v9.88h-1.0zM433.0 74.16h1.0v9.88h-1.0zM439.0 74.16h1.0v9.88h-1.0zM441.0 74.16h1.0v9.88h-1.0zM452.0 74.16h2.0v9.88h-2.0zM464.0 74.16h1.0v9.88h-1.0zM307.0 200.69h1.0v9.87h-1.0zM351.0 200.69h1.0v9.87h-1.0zM266.0 84.04h1.0v9.88h-1.0zM269.0 84.04h1.0v9.88h-1.0zM271.0 84.04h1.0v9.88h-1.0zM273.0 84.04h1.0v9.88h-1.0zM276.0 84.04h1.0v9.88h-1.0zM279.0 84.04h2.0v9.88h-2.0zM281.0 84.04h1.0v9.88h-1.0zM283.0 84.04h1.0v9.88h-1.0zM295.0 84.04h1.0v9.88h-1.0zM296.0 84.04h1.0v9.88h-1.0zM298.0 84.04h1.0v9.88h-1.0zM299.0 84.04h1.0v9.88h-1.0zM303.0 84.04h1.0v9.88h-1.0zM305.0 84.04h1.0v9.88h-1.0zM311.0 84.04h2.0v9.88h-2.0zM313.0 84.04h1.0v9.88h-1.0zM315.0 84.04h1.0v9.88h-1.0zM318.0 84.04h1.0v9.88h-1.0zM320.0 84.04h1.0v9.88h-1.0zM321.0 84.04h2.0v9.88h-2.0zM331.0 84.04h1.0v9.88h-1.0zM332.0 84.04h1.0v9.88h-1.0zM333.0 84.04h1.0v9.88h-1.0zM339.0 84.04h1.0v9.88h-1.0zM341.0 84.04h2.0v9.88h-2.0zM343.0 84.04h1.0v9.88h-1.0zM348.0 84.04h1.0v9.88h-1.0zM352.0 84.04h1.0v9.88h-1.0zM353.0 84.04h1.0v9.88h-1.0zM355.0 84.04h1.0v9.88h-1.0zM363.0 84.04h1.0v9.88h-1.0zM370.0 84.04h1.0v9.88h-1.0zM374.0 84.04h1.0v9.88h-1.0zM379.0 84.04h1.0v9.88h-1.0zM381.0 84.04h2.0v9.88h-2.0zM384.0 84.04h1.0v9.88h-1.0zM385.0 84.04h1.0v9.88h-1.0zM388.0 84.04h2.0v9.88h-2.0zM390.0 84.04h1.0v9.88h-1.0zM391.0 84.04h1.0v9.88h-1.0zM392.0 84.04h1.0v9.88h-1.0zM393.0 84.04h1.0v9.88h-1.0zM394.0 84.04h1.0v9.88h-1.0zM395.0 84.04h2.0v9.88h-2.0zM402.0 84.04h1.0v9.88h-1.0zM403.0 84.04h1.0v9.88h-1.0zM408.0 84.04h2.0v9.88h-2.0zM420.0 84.04h1.0v9.88h-1.0zM425.0 84.04h1.0v9.88h-1.0zM431.0 84.04h1.0v9.88h-1.0zM432.0 84.04h1.0v9.88h-1.0zM436.0 84.04h1.0v9.88h-1.0zM437.0 84.04h1.0v9.88h-1.0zM438.0 84.04h1.0v9.88h-1.0zM439.0 84.04h1.0v9.88h-1.0zM441.0 84.04h1.0v9.88h-1.0zM443.0 84.04h1.0v9.88h-1.0zM447.0 84.04h1.0v9.88h-1.0zM448.0 84.04h1.0v9.88h-1.0zM449.0 84.04h2.0v9.88h-2.0zM456.0 84.04h1.0v9.88h-1.0zM458.0 84.04h1.0v9.88h-1.0zM459.0 84.04h1.0v9.88h-1.0zM464.0 84.04h1.0v9.88h-1.0zM466.0 84.04h1.0v9.88h-1.0zM467.0 84.04h1.0v9.88h-1.0zM269.0 210.56h1.0v9.87h-1.0zM270.0 210.56h2.0v9.87h-2.0zM272.0 210.56h1.0v9.87h-1.0zM274.0 210.56h2.0v9.87h-2.0zM280.0 210.56h1.0v9.87h-1.0zM285.0 210.56h1.0v9.87h-1.0zM288.0 210.56h1.0v9.87h-1.0zM289.0 210.56h2.0v9.87h-2.0zM292.0 210.56h1.0v9.87h-1.0zM293.0 210.56h1.0v9.87h-1.0zM298.0 210.56h1.0v9.87h-1.0zM300.0 210.56h2.0v9.87h-2.0zM302.0 210.56h1.0v9.87h-1.0zM303.0 210.56h1.0v9.87h-1.0zM305.0 210.56h1.0v9.87h-1.0zM306.0 210.56h1.0v9.87h-1.0zM308.0 210.56h1.0v9.87h-1.0zM314.0 210.56h2.0v9.87h-2.0zM316.0 210.56h1.0v9.87h-1.0zM317.0 210.56h1.0v9.87h-1.0zM319.0 210.56h1.0v9.87h-1.0zM320.0 210.56h1.0v9.87h-1.0zM321.0 210.56h1.0v9.87h-1.0zM323.0 210.56h1.0v9.87h-1.0zM326.0 210.56h1.0v9.87h-1.0zM327.0 210.56h1.0v9.87h-1.0zM340.0 210.56h1.0v9.87h-1.0zM341.0 210.56h1.0v9.87h-1.0zM348.0 210.56h1.0v9.87h-1.0zM349.0 210.56h1.0v9.87h-1.0zM350.0 210.56h1.0v9.87h-1.0zM354.0 210.56h1.0v9.87h-1.0zM361.0 210.56h2.0v9.87h-2.0zM363.0 210.56h1.0v9.87h-1.0zM365.0 210.56h2.0v9.87h-2.0zM367.0 210.56h1.0v9.87h-1.0zM369.0 210.56h2.0v9.87h-2.0zM371.0 210.56h1.0v9.87h-1.0zM373.0 210.56h1.0v9.87h-1.0zM374.0 210.56h1.0v9.87h-1.0zM376.0 210.56h1.0v9.87h-1.0zM377.0 210.56h1.0v9.87h-1.0zM380.0 210.56h1.0v9.87h-1.0zM381.0 210.56h2.0v9.87h-2.0zM383.0 210.56h2.0v9.87h-2.0zM385.0 210.56h2.0v9.87h-2.0zM389.0 210.56h1.0v9.87h-1.0zM394.0 210.56h2.0v9.87h-2.0zM397.0 210.56h2.0v9.87h-2.0zM399.0 210.56h1.0v9.87h-1.0zM401.0 210.56h1.0v9.87h-1.0zM403.0 210.56h1.0v9.87h-1.0zM409.0 210.56h1.0v9.87h-1.0zM411.0 210.56h2.0v9.87h-2.0zM413.0 210.56h1.0v9.87h-1.0zM414.0 210.56h1.0v9.87h-1.0zM416.0 210.56h2.0v9.87h-2.0zM418.0 210.56h1.0v9.87h-1.0zM420.0 210.56h1.0v9.87h-1.0zM424.0 210.56h1.0v9.87h-1.0zM425.0 210.56h2.0v9.87h-2.0zM427.0 210.56h1.0v9.87h-1.0zM429.0 210.56h1.0v9.87h-1.0zM430.0 210.56h1.0v9.87h-1.0zM431.0 210.56h1.0v9.87h-1.0zM432.0 210.56h1.0v9.87h-1.0zM435.0 210.56h1.0v9.87h-1.0zM440.0 210.56h2.0v9.87h-2.0zM447.0 210.56h1.0v9.87h-1.0zM448.0 210.56h1.0v9.87h-1.0zM450.0 210.56h2.0v9.87h-2.0zM454.0 210.56h1.0v9.87h-1.0zM455.0 210.56h1.0v9.87h-1.0zM461.0 210.56h1.0v9.87h-1.0zM462.0 210.56h1.0v9.87h-1.0zM463.0 210.56h1.0v9.87h-1.0zM468.0 210.56h2.0v9.87h-2.0zM470.0 210.56h2.0v9.87h-2.0zM472.0 210.56h1.0v9.87h-1.0zM474.0 210.56h0.6v9.87h-0.6zM346.0 93.92h1.0v9.88h-1.0zM280.0 220.43h1.0v9.87h-1.0zM300.0 220.43h1.0v9.87h-1.0zM405.0 220.43h1.0v9.87h-1.0zM449.0 220.43h2.0v9.87h-2.0zM267.0 230.30h1.0v9.87h-1.0zM272.0 230.30h1.0v9.87h-1.0zM277.0 230.30h1.0v9.87h-1.0zM278.0 230.30h1.0v9.87h-1.0zM280.0 230.30h1.0v9.87h-1.0zM287.0 230.30h1.0v9.87h-1.0zM288.0 230.30h1.0v9.87h-1.0zM289.0 230.30h1.0v9.87h-1.0zM298.0 230.30h2.0v9.87h-2.0zM300.0 230.30h1.0v9.87h-1.0zM303.0 230.30h1.0v9.87h-1.0zM312.0 230.30h1.0v9.87h-1.0zM317.0 230.30h1.0v9.87h-1.0zM318.0 230.30h1.0v9.87h-1.0zM322.0 230.30h1.0v9.87h-1.0zM324.0 230.30h2.0v9.87h-2.0zM328.0 230.30h1.0v9.87h-1.0zM329.0 230.30h2.0v9.87h-2.0zM331.0 230.30h1.0v9.87h-1.0zM332.0 230.30h2.0v9.87h-2.0zM334.0 230.30h2.0v9.87h-2.0zM339.0 230.30h1.0v9.87h-1.0zM345.0 230.30h2.0v9.87h-2.0zM356.0 230.30h1.0v9.87h-1.0zM357.0 230.30h1.0v9.87h-1.0zM358.0 230.30h2.0v9.87h-2.0zM361.0 230.30h2.0v9.87h-2.0zM365.0 230.30h1.0v9.87h-1.0zM370.0 230.30h2.0v9.87h-2.0zM372.0 230.30h2.0v9.87h-2.0zM374.0 230.30h1.0v9.87h-1.0zM378.0 230.30h1.0v9.87h-1.0zM388.0 230.30h1.0v9.87h-1.0zM392.0 230.30h1.0v9.87h-1.0zM393.0 230.30h1.0v9.87h-1.0zM394.0 230.30h2.0v9.87h-2.0zM396.0 230.30h1.0v9.87h-1.0zM398.0 230.30h1.0v9.87h-1.0zM399.0 230.30h1.0v9.87h-1.0zM400.0 230.30h1.0v9.87h-1.0zM401.0 230.30h1.0v9.87h-1.0zM406.0 230.30h1.0v9.87h-1.0zM410.0 230.30h1.0v9.87h-1.0zM411.0 230.30h1.0v9.87h-1.0zM412.0 230.30h1.0v9.87h-1.0zM416.0 230.30h1.0v9.87h-1.0zM418.0 230.30h1.0v9.87h-1.0zM425.0 230.30h1.0v9.87h-1.0zM429.0 230.30h1.0v9.87h-1.0zM438.0 230.30h1.0v9.87h-1.0zM439.0 230.30h1.0v9.87h-1.0zM444.0 230.30h1.0v9.87h-1.0zM445.0 230.30h1.0v9.87h-1.0zM448.0 230.30h1.0v9.87h-1.0zM449.0 230.30h1.0v9.87h-1.0zM450.0 230.30h1.0v9.87h-1.0zM452.0 230.30h1.0v9.87h-1.0zM455.0 230.30h1.0v9.87h-1.0zM457.0 230.30h1.0v9.87h-1.0zM458.0 230.30h1.0v9.87h-1.0zM459.0 230.30h2.0v9.87h-2.0zM461.0 230.30h2.0v9.87h-2.0zM464.0 230.30h1.0v9.87h-1.0zM471.0 230.30h1.0v9.87h-1.0zM472.0 230.30h2.0v9.87h-2.0zM304.0 113.68h1.0v9.88h-1.0zM331.0 113.68h1.0v9.88h-1.0zM376.0 113.68h1.0v9.88h-1.0zM456.0 113.68h2.0v9.88h-2.0zM470.0 113.68h1.0v9.88h-1.0zM294.0 240.17h1.0v9.87h-1.0zM295.0 240.17h1.0v9.87h-1.0zM317.0 240.17h1.0v9.87h-1.0zM334.0 240.17h1.0v9.87h-1.0zM432.0 240.17h1.0v9.87h-1.0z"/>
<path fill="#fef4f0" d="M284.0 5.00h1.0v9.88h-1.0zM294.0 5.00h1.0v9.88h-1.0zM299.0 5.00h1.0v9.88h-1.0zM300.0 5.00h1.0v9.88h-1.0zM320.0 5.00h1.0v9.88h-1.0zM341.0 5.00h1.0v9.88h-1.0zM354.0 5.00h1.0v9.88h-1.0zM372.0 5.00h1.0v9.88h-1.0zM418.0 5.00h1.0v9.88h-1.0zM432.0 5.00h1.0v9.88h-1.0zM448.0 5.00h2.0v9.88h-2.0zM269.0 131.60h1.0v9.87h-1.0zM315.0 131.60h2.0v9.87h-2.0zM332.0 131.60h1.0v9.87h-1.0zM338.0 131.60h1.0v9.87h-1.0zM376.0 131.60h1.0v9.87h-1.0zM409.0 131.60h1.0v9.87h-1.0zM443.0 131.60h1.0v9.87h-1.0zM444.0 131.60h1.0v9.87h-1.0zM449.0 131.60h1.0v9.87h-1.0zM471.0 131.60h2.0v9.87h-2.0zM269.0 24.76h1.0v9.88h-1.0zM271.0 24.76h1.0v9.88h-1.0zM272.0 24.76h2.0v9.88h-2.0zM275.0 24.76h1.0v9.88h-1.0zM276.0 24.76h1.0v9.88h-1.0zM278.0 24.76h1.0v9.88h-1.0zM279.0 24.76h1.0v9.88h-1.0zM288.0 24.76h1.0v9.88h-1.0zM289.0 24.76h2.0v9.88h-2.0zM292.0 24.76h1.0v9.88h-1.0zM296.0 24.76h1.0v9.88h-1.0zM298.0 24.76h1.0v9.88h-1.0zM299.0 24.76h1.0v9.88h-1.0zM302.0 24.76h1.0v9.88h-1.0zM303.0 24.76h1.0v9.88h-1.0zM320.0 24.76h1.0v9.88h-1.0zM321.0 24.76h1.0v9.88h-1.0zM322.0 24.76h1.0v9.88h-1.0zM323.0 24.76h1.0v9.88h-1.0zM325.0 24.76h1.0v9.88h-1.0zM327.0 24.76h1.0v9.88h-1.0zM328.0 24.76h2.0v9.88h-2.0zM333.0 24.76h1.0v9.88h-1.0zM334.0 24.76h2.0v9.88h-2.0zM336.0 24.76h1.0v9.88h-1.0zM343.0 24.76h1.0v9.88h-1.0zM346.0 24.76h1.0v9.88h-1.0zM347.0 24.76h1.0v9.88h-1.0zM348.0 24.76h2.0v9.88h-2.0zM351.0 24.76h1.0v9.88h-1.0zM354.0 24.76h2.0v9.88h-2.0zM363.0 24.76h1.0v9.88h-1.0zM364.0 24.76h1.0v9.88h-1.0zM367.0 24.76h1.0v9.88h-1.0zM374.0 24.76h1.0v9.88h-1.0zM375.0 24.76h2.0v9.88h-2.0zM377.0 24.76h1.0v9.88h-1.0zM378.0 24.76h2.0v9.88h-2.0zM380.0 24.76h1.0v9.88h-1.0zM381.0 24.76h1.0v9.88h-1.0zM387.0 24.76h1.0v9.88h-1.0zM391.0 24.76h1.0v9.88h-1.0zM393.0 24.76h1.0v9.88h-1.0zM395.0 24.76h1.0v9.88h-1.0zM397.0 24.76h1.0v9.88h-1.0zM398.0 24.76h2.0v9.88h-2.0zM400.0 24.76h1.0v9.88h-1.0zM404.0 24.76h1.0v9.88h-1.0zM406.0 24.76h1.0v9.88h-1.0zM412.0 24.76h2.0v9.88h-2.0zM416.0 24.76h1.0v9.88h-1.0zM417.0 24.76h1.0v9.88h-1.0zM419.0 24.76h2.0v9.88h-2.0zM421.0 24.76h2.0v9.88h-2.0zM423.0 24.76h1.0v9.88h-1.0zM428.0 24.76h1.0v9.88h-1.0zM429.0 24.76h1.0v9.88h-1.0zM430.0 24.76h1.0v9.88h-1.0zM431.0 24.76h1.0v9.88h-1.0zM432.0 24.76h2.0v9.88h-2.0zM435.0 24.76h1.0v9.88h-1.0zM438.0 24.76h1.0v9.88h-1.0zM441.0 24.76h1.0v9.88h-1.0zM442.0 24.76h2.0v9.88h-2.0zM445.0 24.76h2.0v9.88h-2.0zM447.0 24.76h1.0v9.88h-1.0zM448.0 24.76h1.0v9.88h-1.0zM453.0 24.76h1.0v9.88h-1.0zM454.0 24.76h1.0v9.88h-1.0zM456.0 24.76h1.0v9.88h-1.0zM457.0 24.76h1.0v9.88h-1.0zM461.0 24.76h1.0v9.88h-1.0zM464.0 24.76h1.0v9.88h-1.0zM465.0 24.76h1.0v9.88h-1.0zM467.0 24.76h1.0v9.88h-1.0zM324.0 34.64h1.0v9.88h-1.0zM344.0 34.64h1.0v9.88h-1.0zM410.0 34.64h2.0v9.88h-2.0zM412.0 34.64h1.0v9.88h-1.0zM430.0 34.64h1.0v9.88h-1.0zM441.0 34.64h2.0v9.88h-2.0zM324.0 161.21h1.0v9.87h-1.0zM401.0 161.21h1.0v9.87h-1.0zM425.0 161.21h1.0v9.87h-1.0zM451.0 161.21h1.0v9.87h-1.0zM286.0 44.52h2.0v9.88h-2.0zM300.0 44.52h1.0v9.88h-1.0zM336.0 44.52h1.0v9.88h-1.0zM356.0 44.52h2.0v9.88h-2.0zM409.0 44.52h1.0v9.88h-1.0zM453.0 44.52h1.0v9.88h-1.0zM280.0 171.08h1.0v9.87h-1.0zM328.0 171.08h1.0v9.87h-1.0zM346.0 171.08h2.0v9.87h-2.0zM369.0 171.08h1.0v9.87h-1.0zM399.0 171.08h1.0v9.87h-1.0zM407.0 171.08h1.0v9.87h-1.0zM269.0 54.40h1.0v9.88h-1.0zM279.0 54.40h1.0v9.88h-1.0zM286.0 54.40h2.0v9.88h-2.0zM300.0 54.40h1.0v9.88h-1.0zM324.0 54.40h2.0v9.88h-2.0zM338.0 54.40h1.0v9.88h-1.0zM356.0 54.40h1.0v9.88h-1.0zM390.0 54.40h2.0v9.88h-2.0zM419.0 54.40h2.0v9.88h-2.0zM424.0 54.40h1.0v9.88h-1.0zM435.0 54.40h2.0v9.88h-2.0zM440.0 54.40h1.0v9.88h-1.0zM267.0 180.95h1.0v9.87h-1.0zM276.0 180.95h2.0v9.87h-2.0zM280.0 180.95h1.0v9.87h-1.0zM282.0 180.95h1.0v9.87h-1.0zM285.0 180.95h2.0v9.87h-2.0zM288.0 180.95h1.0v9.87h-1.0zM293.0 180.95h1.0v9.87h-1.0zM294.0 180.95h2.0v9.87h-2.0zM298.0 180.95h1.0v9.87h-1.0zM300.0 180.95h1.0v9.87h-1.0zM301.0 180.95h1.0v9.87h-1.0zM302.0 180.95h1.0v9.87h-1.0zM306.0 180.95h2.0v9.87h-2.0zM308.0 180.95h1.0v9.87h-1.0zM310.0 180.95h1.0v9.87h-1.0zM311.0 180.95h1.0v9.87h-1.0zM317.0 180.95h2.0v9.87h-2.0zM322.0 180.95h1.0v9.87h-1.0zM323.0 180.95h1.0v9.87h-1.0zM328.0 180.95h1.0v9.87h-1.0zM331.0 180.95h2.0v9.87h-2.0zM338.0 180.95h1.0v9.87h-1.0zM342.0 180.95h1.0v9.87h-1.0zM343.0 180.95h1.0v9.87h-1.0zM349.0 180.95h1.0v9.87h-1.0zM350.0 180.95h2.0v9.87h-2.0zM354.0 180.95h2.0v9.87h-2.0zM365.0 180.95h2.0v9.87h-2.0zM369.0 180.95h2.0v9.87h-2.0zM375.0 180.95h1.0v9.87h-1.0zM380.0 180.95h1.0v9.87h-1.0zM381.0 180.95h1.0v9.87h-1.0zM382.0 180.95h1.0v9.87h-1.0zM383.0 180.95h2.0v9.87h-2.0zM395.0 180.95h1.0v9.87h-1.0zM405.0 180.95h1.0v9.87h-1.0zM407.0 180.95h2.0v9.87h-2.0zM409.0 180.95h1.0v9.87h-1.0zM411.0 180.95h1.0v9.87h-1.0zM412.0 180.95h2.0v9.87h-2.0zM416.0 180.95h1.0v9.87h-1.0zM419.0 180.95h1.0v9.87h-1.0zM423.0 180.95h1.0v9.87h-1.0zM424.0 180.95h1.0v9.87h-1.0zM426.0 180.95h1.0v9.87h-1.0zM427.0 180.95h1.0v9.87h-1.0zM428.0 180.95h1.0v9.87h-1.0zM439.0 180.95h2.0v9.87h-2.0zM441.0 180.95h1.0v9.87h-1.0zM443.0 180.95h1.0v9.87h-1.0zM444.0 180.95h1.0v9.87h-1.0zM445.0 180.95h1.0v9.87h-1.0zM447.0 180.95h1.0v9.87h-1.0zM457.0 180.95h2.0v9.87h-2.0zM467.0 180.95h1.0v9.87h-1.0zM472.0 180.95h1.0v9.87h-1.0zM277.0 64.28h1.0v9.88h-1.0zM331.0 64.28h1.0v9.88h-1.0zM344.0 64.28h1.0v9.88h-1.0zM370.0 64.28h1.0v9.88h-1.0zM382.0 64.28h1.0v9.88h-1.0zM385.0 64.28h1.0v9.88h-1.0zM399.0 64.28h1.0v9.88h-1.0zM267.0 190.82h1.0v9.87h-1.0zM268.0 190.82h1.0v9.87h-1.0zM270.0 190.82h1.0v9.87h-1.0zM271.0 190.82h1.0v9.87h-1.0zM277.0 190.82h1.0v9.87h-1.0zM278.0 190.82h1.0v9.87h-1.0zM279.0 190.82h2.0v9.87h-2.0zM284.0 190.82h1.0v9.87h-1.0zM286.0 190.82h1.0v9.87h-1.0zM288.0 190.82h1.0v9.87h-1.0zM290.0 190.82h2.0v9.87h-2.0zM292.0 190.82h1.0v9.87h-1.0zM293.0 190.82h1.0v9.87h-1.0zM294.0 190.82h1.0v9.87h-1.0zM295.0 190.82h1.0v9.87h-1.0zM296.0 190.82h2.0v9.87h-2.0zM301.0 190.82h1.0v9.87h-1.0zM303.0 190.82h1.0v9.87h-1.0zM305.0 190.82h2.0v9.87h-2.0zM307.0 190.82h1.0v9.87h-1.0zM308.0 190.82h2.0v9.87h-2.0zM310.0 190.82h1.0v9.87h-1.0zM312.0 190.82h2.0v9.87h-2.0zM315.0 190.82h2.0v9.87h-2.0zM317.0 190.82h1.0v9.87h-1.0zM321.0 190.82h2.0v9.87h-2.0zM326.0 190.82h1.0v9.87h-1.0zM329.0 190.82h1.0v9.87h-1.0zM330.0 190.82h1.0v9.87h-1.0zM331.0 190.82h1.0v9.87h-1.0zM332.0 190.82h1.0v9.87h-1.0zM333.0 190.82h1.0v9.87h-1.0zM334.0 190.82h2.0v9.87h-2.0zM337.0 190.82h1.0v9.87h-1.0zM338.0 190.82h1.0v9.87h-1.0zM341.0 190.82h1.0v9.87h-1.0zM343.0 190.82h2.0v9.87h-2.0zM346.0 190.82h1.0v9.87h-1.0zM347.0 190.82h1.0v9.87h-1.0zM349.0 190.82h1.0v9.87h-1.0zM350.0 190.82h1.0v9.87h-1.0zM351.0 190.82h1.0v9.87h-1.0zM352.0 190.82h1.0v9.87h-1.0zM355.0 190.82h2.0v9.87h-2.0zM357.0 190.82h2.0v9.87h-2.0zM359.0 190.82h1.0v9.87h-1.0zM360.0 190.82h1.0v9.87h-1.0zM361.0 190.82h1.0v9.87h-1.0zM362.0 190.82h1.0v9.87h-1.0zM363.0 190.82h1.0v9.87h-1.0zM364.0 190.82h1.0v9.87h-1.0zM365.0 190.82h2.0v9.87h-2.0zM367.0 190.82h1.0v9.87h-1.0zM369.0 190.82h1.0v9.87h-1.0zM370.0 190.82h1.0v9.87h-1.0zM373.0 190.82h1.0v9.87h-1.0zM376.0 190.82h1.0v9.87h-1.0zM378.0 190.82h1.0v9.87h-1.0zM379.0 190.82h1.0v9.87h-1.0zM380.0 190.82h1.0v9.87h-1.0zM388.0 190.82h1.0v9.87h-1.0zM389.0 190.82h2.0v9.87h-2.0zM392.0 190.82h1.0v9.87h-1.0zM393.0 190.82h1.0v9.87h-1.0zM394.0 190.82h2.0v9.87h-2.0zM397.0 190.82h2.0v9.87h-2.0zM399.0 190.82h1.0v9.87h-1.0zM400.0 190.82h1.0v9.87h-1.0zM402.0 190.82h1.0v9.87h-1.0zM409.0 190.82h2.0v9.87h-2.0zM411.0 190.82h1.0v9.87h-1.0zM412.0 190.82h2.0v9.87h-2.0zM414.0 190.82h1.0v9.87h-1.0zM418.0 190.82h1.0v9.87h-1.0zM420.0 190.82h1.0v9.87h-1.0zM422.0 190.82h1.0v9.87h-1.0zM423.0 190.82h1.0v9.87h-1.0zM424.0 190.82h1.0v9.87h-1.0zM425.0 190.82h1.0v9.87h-1.0zM426.0 190.82h2.0v9.87h-2.0zM429.0 190.82h1.0v9.87h-1.0zM430.0 190.82h2.0v9.87h-2.0zM435.0 190.82h2.0v9.87h-2.0zM437.0 190.82h1.0v9.87h-1.0zM438.0 190.82h1.0v9.87h-1.0zM439.0 190.82h1.0v9.87h-1.0zM442.0 190.82h1.0v9.87h-1.0zM446.0 190.82h1.0v9.87h-1.0zM447.0 190.82h1.0v9.87h-1.0zM448.0 190.82h2.0v9.87h-2.0zM450.0 190.82h1.0v9.87h-1.0zM451.0 190.82h1.0v9.87h-1.0zM453.0 190.82h2.0v9.87h-2.0zM455.0 190.82h1.0v9.87h-1.0zM456.0 190.82h2.0v9.87h-2.0zM458.0 190.82h1.0v9.87h-1.0zM459.0 190.82h2.0v9.87h-2.0zM462.0 190.82h1.0v9.87h-1.0zM464.0 190.82h1.0v9.87h-1.0zM466.0 190.82h1.0v9.87h-1.0zM467.0 190.82h2.0v9.87h-2.0zM469.0 190.82h1.0v9.87h-1.0zM472.0 190.82h2.0v9.87h-2.0zM278.0 74.16h1.0v9.88h-1.0zM292.0 74.16h1.0v9.88h-1.0zM293.0 74.16h2.0v9.88h-2.0zM295.0 74.16h2.0v9.88h-2.0zM299.0 74.16h1.0v9.88h-1.0zM321.0 74.16h1.0v9.88h-1.0zM327.0 74.16h1.0v9.88h-1.0zM359.0 74.16h1.0v9.88h-1.0zM367.0 74.16h1.0v9.88h-1.0zM407.0 74.16h1.0v9.88h-1.0zM422.0 74.16h2.0v9.88h-2.0zM471.0 74.16h1.0v9.88h-1.0zM274.0 200.69h1.0v9.87h-1.0zM281.0 200.69h1.0v9.87h-1.0zM316.0 200.69h1.0v9.87h-1.0zM348.0 200.69h1.0v9.87h-1.0zM357.0 200.69h1.0v9.87h-1.0zM360.0 200.69h1.0v9.87h-1.0zM412.0 200.69h1.0v9.87h-1.0zM268.0 84.04h1.0v9.88h-1.0zM270.0 84.04h1.0v9.88h-1.0zM272.0 84.04h1.0v9.88h-1.0zM274.0 84.04h1.0v9.88h-1.0zM277.0 84.04h2.0v9.88h-2.0zM284.0 84.04h1.0v9.88h-1.0zM287.0 84.04h1.0v9.88h-1.0zM290.0 84.04h1.0v9.88h-1.0zM291.0 84.04h1.0v9.88h-1.0zM294.0 84.04h1.0v9.88h-1.0zM297.0 84.04h1.0v9.88h-1.0zM300.0 84.04h1.0v9.88h-1.0zM301.0 84.04h1.0v9.88h-1.0zM302.0 84.04h1.0v9.88h-1.0zM304.0 84.04h1.0v9.88h-1.0zM306.0 84.04h1.0v9.88h-1.0zM307.0 84.04h1.0v9.88h-1.0zM308.0 84.04h2.0v9.88h-2.0zM314.0 84.04h1.0v9.88h-1.0zM316.0 84.04h2.0v9.88h-2.0zM319.0 84.04h1.0v9.88h-1.0zM323.0 84.04h1.0v9.88h-1.0zM324.0 84.04h1.0v9.88h-1.0zM327.0 84.04h1.0v9.88h-1.0zM329.0 84.04h1.0v9.88h-1.0zM334.0 84.04h1.0v9.88h-1.0zM335.0 84.04h1.0v9.88h-1.0zM336.0 84.04h1.0v9.88h-1.0zM337.0 84.04h2.0v9.88h-2.0zM340.0 84.04h1.0v9.88h-1.0zM346.0 84.04h2.0v9.88h-2.0zM350.0 84.04h2.0v9.88h-2.0zM354.0 84.04h1.0v9.88h-1.0zM358.0 84.04h1.0v9.88h-1.0zM359.0 84.04h2.0v9.88h-2.0zM364.0 84.04h1.0v9.88h-1.0zM365.0 84.04h1.0v9.88h-1.0zM366.0 84.04h1.0v9.88h-1.0zM367.0 84.04h2.0v9.88h-2.0zM372.0 84.04h1.0v9.88h-1.0zM373.0 84.04h1.0v9.88h-1.0zM376.0 84.04h1.0v9.88h-1.0zM378.0 84.04h1.0v9.88h-1.0zM383.0 84.04h1.0v9.88h-1.0zM397.0 84.04h2.0v9.88h-2.0zM399.0 84.04h1.0v9.88h-1.0zM400.0 84.04h1.0v9.88h-1.0zM401.0 84.04h1.0v9.88h-1.0zM405.0 84.04h1.0v9.88h-1.0zM406.0 84.04h2.0v9.88h-2.0zM410.0 84.04h1.0v9.88h-1.0zM411.0 84.04h2.0v9.88h-2.0zM414.0 84.04h2.0v9.88h-2.0zM416.0 84.04h2.0v9.88h-2.0zM418.0 84.04h1.0v9.88h-1.0zM419.0 84.04h1.0v9.88h-1.0zM421.0 84.04h2.0v9.88h-2.0zM423.0 84.04h1.0v9.88h-1.0zM424.0 84.04h1.0v9.88h-1.0zM426.0 84.04h1.0v9.88h-1.0zM427.0 84.04h1.0v9.88h-1.0zM428.0 84.04h1.0v9.88h-1.0zM429.0 84.04h1.0v9.88h-1.0zM433.0 84.04h2.0v9.88h-2.0zM435.0 84.04h1.0v9.88h-1.0zM440.0 84.04h1.0v9.88h-1.0zM444.0 84.04h1.0v9.88h-1.0zM451.0 84.04h1.0v9.88h-1.0zM452.0 84.04h1.0v9.88h-1.0zM454.0 84.04h2.0v9.88h-2.0zM457.0 84.04h1.0v9.88h-1.0zM461.0 84.04h2.0v9.88h-2.0zM465.0 84.04h1.0v9.88h-1.0zM470.0 84.04h1.0v9.88h-1.0zM471.0 84.04h1.0v9.88h-1.0zM474.0 84.04h0.6v9.88h-0.6zM268.0 210.56h1.0v9.87h-1.0zM273.0 210.56h1.0v9.87h-1.0zM278.0 210.56h2.0v9.87h-2.0zM284.0 210.56h1.0v9.87h-1.0zM291.0 210.56h1.0v9.87h-1.0zM296.0 210.56h1.0v9.87h-1.0zM297.0 210.56h1.0v9.87h-1.0zM299.0 210.56h1.0v9.87h-1.0zM309.0 210.56h1.0v9.87h-1.0zM318.0 210.56h1.0v9.87h-1.0zM324.0 210.56h1.0v9.87h-1.0zM325.0 210.56h1.0v9.87h-1.0zM328.0 210.56h2.0v9.87h-2.0zM331.0 210.56h1.0v9.87h-1.0zM332.0 210.56h1.0v9.87h-1.0zM338.0 210.56h1.0v9.87h-1.0zM342.0 210.56h1.0v9.87h-1.0zM344.0 210.56h1.0v9.87h-1.0zM345.0 210.56h2.0v9.87h-2.0zM357.0 210.56h2.0v9.87h-2.0zM372.0 210.56h1.0v9.87h-1.0zM375.0 210.56h1.0v9.87h-1.0zM387.0 210.56h2.0v9.87h-2.0zM390.0 210.56h2.0v9.87h-2.0zM393.0 210.56h1.0v9.87h-1.0zM396.0 210.56h1.0v9.87h-1.0zM406.0 210.56h1.0v9.87h-1.0zM410.0 210.56h1.0v9.87h-1.0zM421.0 210.56h1.0v9.87h-1.0zM422.0 210.56h2.0v9.87h-2.0zM438.0 210.56h1.0v9.87h-1.0zM443.0 210.56h1.0v9.87h-1.0zM452.0 210.56h2.0v9.87h-2.0zM456.0 210.56h1.0v9.87h-1.0zM460.0 210.56h1.0v9.87h-1.0zM466.0 210.56h1.0v9.87h-1.0zM467.0 210.56h1.0v9.87h-1.0zM473.0 210.56h1.0v9.87h-1.0zM322.0 93.92h2.0v9.88h-2.0zM290.0 220.43h2.0v9.87h-2.0zM295.0 220.43h2.0v9.87h-2.0zM306.0 220.43h1.0v9.87h-1.0zM321.0 220.43h1.0v9.87h-1.0zM330.0 220.43h2.0v9.87h-2.0zM343.0 220.43h2.0v9.87h-2.0zM355.0 220.43h2.0v9.87h-2.0zM358.0 220.43h1.0v9.87h-1.0zM377.0 220.43h2.0v9.87h-2.0zM415.0 220.43h1.0v9.87h-1.0zM424.0 220.43h1.0v9.87h-1.0zM425.0 220.43h1.0v9.87h-1.0zM438.0 220.43h1.0v9.87h-1.0zM385.0 103.80h1.0v9.88h-1.0zM266.0 230.30h1.0v9.87h-1.0zM282.0 230.30h1.0v9.87h-1.0zM285.0 230.30h1.0v9.87h-1.0zM348.0 230.30h1.0v9.87h-1.0zM379.0 230.30h2.0v9.87h-2.0zM384.0 230.30h1.0v9.87h-1.0zM403.0 230.30h1.0v9.87h-1.0zM407.0 230.30h1.0v9.87h-1.0zM433.0 230.30h1.0v9.87h-1.0zM437.0 230.30h1.0v9.87h-1.0zM453.0 230.30h1.0v9.87h-1.0zM276.0 113.68h1.0v9.88h-1.0zM286.0 113.68h1.0v9.88h-1.0zM300.0 113.68h1.0v9.88h-1.0zM313.0 113.68h1.0v9.88h-1.0zM316.0 113.68h1.0v9.88h-1.0zM379.0 113.68h1.0v9.88h-1.0zM386.0 113.68h2.0v9.88h-2.0zM399.0 113.68h1.0v9.88h-1.0zM416.0 113.68h1.0v9.88h-1.0zM430.0 113.68h1.0v9.88h-1.0zM471.0 113.68h1.0v9.88h-1.0zM353.0 240.17h2.0v9.87h-2.0zM359.0 240.17h1.0v9.87h-1.0zM365.0 240.17h1.0v9.87h-1.0zM390.0 240.17h1.0v9.87h-1.0zM409.0 240.17h1.0v9.87h-1.0zM436.0 240.17h1.0v9.87h-1.0zM466.0 240.17h1.0v9.87h-1.0zM470.0 240.17h1.0v9.87h-1.0z"/>
<path fill="#fdded3" d="M369.0 5.00h1.0v9.88h-1.0zM410.0 5.00h1.0v9.88h-1.0zM461.0 5.00h1.0v9.88h-1.0zM268.0 131.60h1.0v9.87h-1.0zM278.0 131.60h1.0v9.87h-1.0zM294.0 131.60h1.0v9.87h-1.0zM295.0 131.60h1.0v9.87h-1.0zM300.0 131.60h1.0v9.87h-1.0zM308.0 131.60h1.0v9.87h-1.0zM314.0 131.60h1.0v9.87h-1.0zM330.0 131.60h1.0v9.87h-1.0zM331.0 131.60h1.0v9.87h-1.0zM347.0 131.60h1.0v9.87h-1.0zM351.0 131.60h1.0v9.87h-1.0zM352.0 131.60h2.0v9.87h-2.0zM354.0 131.60h1.0v9.87h-1.0zM368.0 131.60h1.0v9.87h-1.0zM371.0 131.60h2.0v9.87h-2.0zM386.0 131.60h1.0v9.87h-1.0zM390.0 131.60h1.0v9.87h-1.0zM407.0 131.60h2.0v9.87h-2.0zM416.0 131.60h1.0v9.87h-1.0zM417.0 131.60h1.0v9.87h-1.0zM445.0 131.60h1.0v9.87h-1.0zM448.0 131.60h1.0v9.87h-1.0zM452.0 131.60h1.0v9.87h-1.0zM459.0 131.60h1.0v9.87h-1.0zM460.0 131.60h1.0v9.87h-1.0zM467.0 131.60h1.0v9.87h-1.0zM469.0 131.60h1.0v9.87h-1.0zM470.0 131.60h1.0v9.87h-1.0zM406.0 14.88h1.0v9.88h-1.0zM287.0 34.64h2.0v9.88h-2.0zM301.0 34.64h1.0v9.88h-1.0zM317.0 34.64h1.0v9.88h-1.0zM319.0 34.64h2.0v9.88h-2.0zM338.0 34.64h1.0v9.88h-1.0zM341.0 34.64h1.0v9.88h-1.0zM343.0 34.64h1.0v9.88h-1.0zM371.0 34.64h1.0v9.88h-1.0zM383.0 34.64h1.0v9.88h-1.0zM391.0 34.64h1.0v9.88h-1.0zM405.0 34.64h1.0v9.88h-1.0zM415.0 34.64h1.0v9.88h-1.0zM418.0 34.64h1.0v9.88h-1.0zM435.0 34.64h1.0v9.88h-1.0zM460.0 34.64h1.0v9.88h-1.0zM468.0 34.64h1.0v9.88h-1.0zM472.0 34.64h1.0v9.88h-1.0zM271.0 161.21h1.0v9.87h-1.0zM281.0 161.21h2.0v9.87h-2.0zM290.0 161.21h2.0v9.87h-2.0zM298.0 161.21h1.0v9.87h-1.0zM303.0 161.21h1.0v9.87h-1.0zM313.0 161.21h1.0v9.87h-1.0zM322.0 161.21h2.0v9.87h-2.0zM330.0 161.21h1.0v9.87h-1.0zM334.0 161.21h1.0v9.87h-1.0zM342.0 161.21h1.0v9.87h-1.0zM356.0 161.21h1.0v9.87h-1.0zM359.0 161.21h1.0v9.87h-1.0zM385.0 161.21h1.0v9.87h-1.0zM387.0 161.21h1.0v9.87h-1.0zM429.0 161.21h1.0v9.87h-1.0zM432.0 161.21h2.0v9.87h-2.0zM439.0 161.21h2.0v9.87h-2.0zM462.0 161.21h1.0v9.87h-1.0zM463.0 161.21h1.0v9.87h-1.0zM266.0 44.52h1.0v9.88h-1.0zM275.0 44.52h1.0v9.88h-1.0zM289.0 44.52h1.0v9.88h-1.0zM307.0 44.52h1.0v9.88h-1.0zM311.0 44.52h2.0v9.88h-2.0zM318.0 44.52h1.0v9.88h-1.0zM361.0 44.52h1.0v9.88h-1.0zM372.0 44.52h1.0v9.88h-1.0zM382.0 44.52h2.0v9.88h-2.0zM397.0 44.52h1.0v9.88h-1.0zM407.0 44.52h1.0v9.88h-1.0zM410.0 44.52h1.0v9.88h-1.0zM413.0 44.52h1.0v9.88h-1.0zM428.0 44.52h1.0v9.88h-1.0zM435.0 44.52h1.0v9.88h-1.0zM445.0 44.52h1.0v9.88h-1.0zM446.0 44.52h1.0v9.88h-1.0zM452.0 44.52h1.0v9.88h-1.0zM462.0 44.52h1.0v9.88h-1.0zM464.0 44.52h1.0v9.88h-1.0zM470.0 44.52h2.0v9.88h-2.0zM271.0 171.08h1.0v9.87h-1.0zM272.0 171.08h1.0v9.87h-1.0zM290.0 171.08h2.0v9.87h-2.0zM293.0 171.08h1.0v9.87h-1.0zM304.0 171.08h1.0v9.87h-1.0zM311.0 171.08h2.0v9.87h-2.0zM315.0 171.08h1.0v9.87h-1.0zM320.0 171.08h1.0v9.87h-1.0zM367.0 171.08h1.0v9.87h-1.0zM373.0 171.08h2.0v9.87h-2.0zM398.0 171.08h1.0v9.87h-1.0zM400.0 171.08h1.0v9.87h-1.0zM419.0 171.08h2.0v9.87h-2.0zM438.0 171.08h2.0v9.87h-2.0zM445.0 171.08h1.0v9.87h-1.0zM458.0 171.08h1.0v9.87h-1.0zM467.0 171.08h1.0v9.87h-1.0zM469.0 171.08h2.0v9.87h-2.0zM474.0 171.08h0.6v9.87h-0.6zM266.0 54.40h1.0v9.88h-1.0zM278.0 54.40h1.0v9.88h-1.0zM291.0 54.40h1.0v9.88h-1.0zM292.0 54.40h1.0v9.88h-1.0zM294.0 54.40h1.0v9.88h-1.0zM299.0 54.40h1.0v9.88h-1.0zM308.0 54.40h2.0v9.88h-2.0zM313.0 54.40h1.0v9.88h-1.0zM316.0 54.40h1.0v9.88h-1.0zM320.0 54.40h1.0v9.88h-1.0zM326.0 54.40h1.0v9.88h-1.0zM327.0 54.40h1.0v9.88h-1.0zM328.0 54.40h2.0v9.88h-2.0zM330.0 54.40h1.0v9.88h-1.0zM331.0 54.40h1.0v9.88h-1.0zM333.0 54.40h1.0v9.88h-1.0zM334.0 54.40h1.0v9.88h-1.0zM336.0 54.40h2.0v9.88h-2.0zM345.0 54.40h1.0v9.88h-1.0zM347.0 54.40h2.0v9.88h-2.0zM351.0 54.40h1.0v9.88h-1.0zM353.0 54.40h1.0v9.88h-1.0zM359.0 54.40h1.0v9.88h-1.0zM360.0 54.40h1.0v9.88h-1.0zM362.0 54.40h1.0v9.88h-1.0zM372.0 54.40h2.0v9.88h-2.0zM374.0 54.40h1.0v9.88h-1.0zM376.0 54.40h1.0v9.88h-1.0zM378.0 54.40h1.0v9.88h-1.0zM380.0 54.40h1.0v9.88h-1.0zM383.0 54.40h1.0v9.88h-1.0zM387.0 54.40h1.0v9.88h-1.0zM392.0 54.40h2.0v9.88h-2.0zM394.0 54.40h1.0v9.88h-1.0zM395.0 54.40h2.0v9.88h-2.0zM400.0 54.40h1.0v9.88h-1.0zM401.0 54.40h1.0v9.88h-1.0zM410.0 54.40h1.0v9.88h-1.0zM412.0 54.40h1.0v9.88h-1.0zM414.0 54.40h1.0v9.88h-1.0zM425.0 54.40h1.0v9.88h-1.0zM426.0 54.40h1.0v9.88h-1.0zM428.0 54.40h1.0v9.88h-1.0zM431.0 54.40h1.0v9.88h-1.0zM442.0 54.40h1.0v9.88h-1.0zM444.0 54.40h1.0v9.88h-1.0zM449.0 54.40h1.0v9.88h-1.0zM452.0 54.40h1.0v9.88h-1.0zM455.0 54.40h1.0v9.88h-1.0zM457.0 54.40h1.0v9.88h-1.0zM461.0 54.40h1.0v9.88h-1.0zM464.0 54.40h1.0v9.88h-1.0zM465.0 54.40h1.0v9.88h-1.0zM466.0 54.40h2.0v9.88h-2.0zM468.0 54.40h1.0v9.88h-1.0zM473.0 54.40h1.0v9.88h-1.0zM271.0 64.28h1.0v9.88h-1.0zM273.0 64.28h1.0v9.88h-1.0zM276.0 64.28h1.0v9.88h-1.0zM280.0 64.28h1.0v9.88h-1.0zM284.0 64.28h2.0v9.88h-2.0zM286.0 64.28h1.0v9.88h-1.0zM290.0 64.28h2.0v9.88h-2.0zM297.0 64.28h1.0v9.88h-1.0zM305.0 64.28h1.0v9.88h-1.0zM306.0 64.28h2.0v9.88h-2.0zM309.0 64.28h2.0v9.88h-2.0zM311.0 64.28h1.0v9.88h-1.0zM315.0 64.28h2.0v9.88h-2.0zM323.0 64.28h1.0v9.88h-1.0zM325.0 64.28h1.0v9.88h-1.0zM326.0 64.28h2.0v9.88h-2.0zM338.0 64.28h1.0v9.88h-1.0zM341.0 64.28h1.0v9.88h-1.0zM345.0 64.28h1.0v9.88h-1.0zM350.0 64.28h1.0v9.88h-1.0zM360.0 64.28h1.0v9.88h-1.0zM365.0 64.28h1.0v9.88h-1.0zM366.0 64.28h1.0v9.88h-1.0zM371.0 64.28h1.0v9.88h-1.0zM378.0 64.28h1.0v9.88h-1.0zM379.0 64.28h1.0v9.88h-1.0zM383.0 64.28h1.0v9.88h-1.0zM384.0 64.28h1.0v9.88h-1.0zM389.0 64.28h1.0v9.88h-1.0zM391.0 64.28h1.0v9.88h-1.0zM392.0 64.28h1.0v9.88h-1.0zM396.0 64.28h1.0v9.88h-1.0zM397.0 64.28h1.0v9.88h-1.0zM398.0 64.28h1.0v9.88h-1.0zM401.0 64.28h2.0v9.88h-2.0zM410.0 64.28h1.0v9.88h-1.0zM412.0 64.28h1.0v9.88h-1.0zM413.0 64.28h1.0v9.88h-1.0zM420.0 64.28h1.0v9.88h-1.0zM422.0 64.28h1.0v9.88h-1.0zM431.0 64.28h1.0v9.88h-1.0zM433.0 64.28h2.0v9.88h-2.0zM443.0 64.28h1.0v9.88h-1.0zM448.0 64.28h1.0v9.88h-1.0zM449.0 64.28h1.0v9.88h-1.0zM452.0 64.28h1.0v9.88h-1.0zM466.0 64.28h1.0v9.88h-1.0zM468.0 64.28h1.0v9.88h-1.0zM469.0 64.28h1.0v9.88h-1.0zM271.0 74.16h1.0v9.88h-1.0zM275.0 74.16h1.0v9.88h-1.0zM277.0 74.16h1.0v9.88h-1.0zM283.0 74.16h1.0v9.88h-1.0zM300.0 74.16h1.0v9.88h-1.0zM310.0 74.16h2.0v9.88h-2.0zM312.0 74.16h2.0v9.88h-2.0zM322.0 74.16h1.0v9.88h-1.0zM365.0 74.16h1.0v9.88h-1.0zM369.0 74.16h1.0v9.88h-1.0zM373.0 74.16h2.0v9.88h-2.0zM379.0 74.16h1.0v9.88h-1.0zM382.0 74.16h1.0v9.88h-1.0zM388.0 74.16h1.0v9.88h-1.0zM389.0 74.16h2.0v9.88h-2.0zM393.0 74.16h1.0v9.88h-1.0zM411.0 74.16h1.0v9.88h-1.0zM417.0 74.16h1.0v9.88h-1.0zM442.0 74.16h1.0v9.88h-1.0zM444.0 74.16h1.0v9.88h-1.0zM450.0 74.16h1.0v9.88h-1.0zM455.0 74.16h1.0v9.88h-1.0zM459.0 74.16h2.0v9.88h-2.0zM469.0 74.16h1.0v9.88h-1.0zM283.0 200.69h1.0v9.87h-1.0zM301.0 200.69h2.0v9.87h-2.0zM313.0 200.69h2.0v9.87h-2.0zM317.0 200.69h1.0v9.87h-1.0zM376.0 200.69h1.0v9.87h-1.0zM384.0 200.69h1.0v9.87h-1.0zM385.0 200.69h1.0v9.87h-1.0zM416.0 200.69h1.0v9.87h-1.0zM417.0 200.69h1.0v9.87h-1.0zM458.0 200.69h1.0v9.87h-1.0zM462.0 200.69h1.0v9.87h-1.0zM319.0 93.92h1.0v9.88h-1.0zM364.0 93.92h1.0v9.88h-1.0zM378.0 93.92h1.0v9.88h-1.0zM266.0 220.43h1.0v9.87h-1.0zM271.0 220.43h2.0v9.87h-2.0zM279.0 220.43h1.0v9.87h-1.0zM284.0 220.43h1.0v9.87h-1.0zM298.0 220.43h1.0v9.87h-1.0zM299.0 220.43h1.0v9.87h-1.0zM302.0 220.43h1.0v9.87h-1.0zM304.0 220.43h1.0v9.87h-1.0zM307.0 220.43h1.0v9.87h-1.0zM308.0 220.43h2.0v9.87h-2.0zM311.0 220.43h1.0v9.87h-1.0zM313.0 220.43h1.0v9.87h-1.0zM329.0 220.43h1.0v9.87h-1.0zM333.0 220.43h1.0v9.87h-1.0zM335.0 220.43h1.0v9.87h-1.0zM336.0 220.43h2.0v9.87h-2.0zM341.0 220.43h1.0v9.87h-1.0zM342.0 220.43h1.0v9.87h-1.0zM345.0 220.43h2.0v9.87h-2.0zM348.0 220.43h1.0v9.87h-1.0zM349.0 220.43h1.0v9.87h-1.0zM350.0 220.43h1.0v9.87h-1.0zM351.0 220.43h1.0v9.87h-1.0zM357.0 220.43h1.0v9.87h-1.0zM359.0 220.43h1.0v9.87h-1.0zM373.0 220.43h1.0v9.87h-1.0zM375.0 220.43h1.0v9.87h-1.0zM379.0 220.43h1.0v9.87h-1.0zM384.0 220.43h2.0v9.87h-2.0zM387.0 220.43h1.0v9.87h-1.0zM389.0 220.43h1.0v9.87h-1.0zM392.0 220.43h2.0v9.87h-2.0zM394.0 220.43h1.0v9.87h-1.0zM395.0 220.43h1.0v9.87h-1.0zM396.0 220.43h1.0v9.87h-1.0zM397.0 220.43h1.0v9.87h-1.0zM401.0 220.43h1.0v9.87h-1.0zM404.0 220.43h1.0v9.87h-1.0zM411.0 220.43h1.0v9.87h-1.0zM414.0 220.43h1.0v9.87h-1.0zM418.0 220.43h1.0v9.87h-1.0zM427.0 220.43h1.0v9.87h-1.0zM431.0 220.43h2.0v9.87h-2.0zM433.0 220.43h1.0v9.87h-1.0zM434.0 220.43h1.0v9.87h-1.0zM439.0 220.43h1.0v9.87h-1.0zM446.0 220.43h1.0v9.87h-1.0zM447.0 220.43h1.0v9.87h-1.0zM451.0 220.43h1.0v9.87h-1.0zM454.0 220.43h1.0v9.87h-1.0zM459.0 220.43h1.0v9.87h-1.0zM464.0 220.43h1.0v9.87h-1.0zM467.0 220.43h1.0v9.87h-1.0zM470.0 220.43h1.0v9.87h-1.0zM473.0 220.43h1.0v9.87h-1.0zM318.0 103.80h1.0v9.88h-1.0zM454.0 103.80h1.0v9.88h-1.0zM267.0 113.68h1.0v9.88h-1.0zM268.0 113.68h1.0v9.88h-1.0zM272.0 113.68h1.0v9.88h-1.0zM274.0 113.68h2.0v9.88h-2.0zM277.0 113.68h1.0v9.88h-1.0zM279.0 113.68h1.0v9.88h-1.0zM280.0 113.68h1.0v9.88h-1.0zM283.0 113.68h2.0v9.88h-2.0zM287.0 113.68h2.0v9.88h-2.0zM296.0 113.68h1.0v9.88h-1.0zM302.0 113.68h1.0v9.88h-1.0zM312.0 113.68h1.0v9.88h-1.0zM314.0 113.68h1.0v9.88h-1.0zM315.0 113.68h1.0v9.88h-1.0zM325.0 113.68h1.0v9.88h-1.0zM330.0 113.68h1.0v9.88h-1.0zM336.0 113.68h1.0v9.88h-1.0zM341.0 113.68h1.0v9.88h-1.0zM349.0 113.68h1.0v9.88h-1.0zM354.0 113.68h1.0v9.88h-1.0zM374.0 113.68h2.0v9.88h-2.0zM377.0 113.68h2.0v9.88h-2.0zM380.0 113.68h1.0v9.88h-1.0zM382.0 113.68h1.0v9.88h-1.0zM383.0 113.68h1.0v9.88h-1.0zM384.0 113.68h1.0v9.88h-1.0zM385.0 113.68h1.0v9.88h-1.0zM390.0 113.68h1.0v9.88h-1.0zM391.0 113.68h1.0v9.88h-1.0zM393.0 113.68h1.0v9.88h-1.0zM394.0 113.68h1.0v9.88h-1.0zM397.0 113.68h1.0v9.88h-1.0zM404.0 113.68h1.0v9.88h-1.0zM405.0 113.68h1.0v9.88h-1.0zM419.0 113.68h1.0v9.88h-1.0zM434.0 113.68h2.0v9.88h-2.0zM444.0 113.68h1.0v9.88h-1.0zM449.0 113.68h1.0v9.88h-1.0zM450.0 113.68h2.0v9.88h-2.0zM460.0 113.68h1.0v9.88h-1.0zM465.0 113.68h1.0v9.88h-1.0zM281.0 240.17h1.0v9.87h-1.0zM288.0 240.17h1.0v9.87h-1.0zM299.0 240.17h1.0v9.87h-1.0zM300.0 240.17h1.0v9.87h-1.0zM315.0 240.17h1.0v9.87h-1.0zM316.0 240.17h1.0v9.87h-1.0zM325.0 240.17h1.0v9.87h-1.0zM328.0 240.17h2.0v9.87h-2.0zM346.0 240.17h1.0v9.87h-1.0zM352.0 240.17h1.0v9.87h-1.0zM356.0 240.17h1.0v9.87h-1.0zM363.0 240.17h1.0v9.87h-1.0zM374.0 240.17h1.0v9.87h-1.0zM375.0 240.17h1.0v9.87h-1.0zM376.0 240.17h1.0v9.87h-1.0zM391.0 240.17h1.0v9.87h-1.0zM393.0 240.17h1.0v9.87h-1.0zM405.0 240.17h1.0v9.87h-1.0zM416.0 240.17h1.0v9.87h-1.0zM427.0 240.17h1.0v9.87h-1.0zM429.0 240.17h1.0v9.87h-1.0zM441.0 240.17h1.0v9.87h-1.0zM453.0 240.17h1.0v9.87h-1.0zM454.0 240.17h1.0v9.87h-1.0zM456.0 240.17h2.0v9.87h-2.0zM465.0 240.17h1.0v9.87h-1.0zM471.0 240.17h1.0v9.87h-1.0z"/>
<path fill="#fcd4c4" d="M270.0 131.60h1.0v9.87h-1.0zM271.0 131.60h1.0v9.87h-1.0zM276.0 131.60h1.0v9.87h-1.0zM281.0 131.60h1.0v9.87h-1.0zM282.0 131.60h1.0v9.87h-1.0zM283.0 131.60h1.0v9.87h-1.0zM292.0 131.60h1.0v9.87h-1.0zM293.0 131.60h1.0v9.87h-1.0zM301.0 131.60h1.0v9.87h-1.0zM311.0 131.60h1.0v9.87h-1.0zM318.0 131.60h1.0v9.87h-1.0zM320.0 131.60h1.0v9.87h-1.0zM323.0 131.60h1.0v9.87h-1.0zM328.0 131.60h1.0v9.87h-1.0zM333.0 131.60h2.0v9.87h-2.0zM344.0 131.60h2.0v9.87h-2.0zM355.0 131.60h2.0v9.87h-2.0zM357.0 131.60h1.0v9.87h-1.0zM363.0 131.60h1.0v9.87h-1.0zM364.0 131.60h1.0v9.87h-1.0zM370.0 131.60h1.0v9.87h-1.0zM374.0 131.60h1.0v9.87h-1.0zM380.0 131.60h1.0v9.87h-1.0zM388.0 131.60h2.0v9.87h-2.0zM392.0 131.60h1.0v9.87h-1.0zM400.0 131.60h1.0v9.87h-1.0zM402.0 131.60h1.0v9.87h-1.0zM406.0 131.60h1.0v9.87h-1.0zM410.0 131.60h1.0v9.87h-1.0zM420.0 131.60h1.0v9.87h-1.0zM421.0 131.60h2.0v9.87h-2.0zM431.0 131.60h1.0v9.87h-1.0zM435.0 131.60h1.0v9.87h-1.0zM437.0 131.60h1.0v9.87h-1.0zM447.0 131.60h1.0v9.87h-1.0zM450.0 131.60h1.0v9.87h-1.0zM454.0 131.60h1.0v9.87h-1.0zM462.0 131.60h1.0v9.87h-1.0zM305.0 14.88h1.0v9.88h-1.0zM330.0 14.88h1.0v9.88h-1.0zM351.0 14.88h1.0v9.88h-1.0zM422.0 14.88h1.0v9.88h-1.0zM472.0 14.88h1.0v9.88h-1.0zM266.0 34.64h2.0v9.88h-2.0zM271.0 34.64h2.0v9.88h-2.0zM276.0 34.64h1.0v9.88h-1.0zM280.0 34.64h2.0v9.88h-2.0zM286.0 34.64h1.0v9.88h-1.0zM291.0 34.64h1.0v9.88h-1.0zM295.0 34.64h1.0v9.88h-1.0zM303.0 34.64h2.0v9.88h-2.0zM305.0 34.64h1.0v9.88h-1.0zM306.0 34.64h2.0v9.88h-2.0zM311.0 34.64h1.0v9.88h-1.0zM313.0 34.64h1.0v9.88h-1.0zM314.0 34.64h1.0v9.88h-1.0zM337.0 34.64h1.0v9.88h-1.0zM345.0 34.64h1.0v9.88h-1.0zM346.0 34.64h2.0v9.88h-2.0zM361.0 34.64h1.0v9.88h-1.0zM363.0 34.64h2.0v9.88h-2.0zM369.0 34.64h1.0v9.88h-1.0zM372.0 34.64h1.0v9.88h-1.0zM375.0 34.64h2.0v9.88h-2.0zM385.0 34.64h1.0v9.88h-1.0zM387.0 34.64h1.0v9.88h-1.0zM393.0 34.64h1.0v9.88h-1.0zM401.0 34.64h1.0v9.88h-1.0zM407.0 34.64h1.0v9.88h-1.0zM414.0 34.64h1.0v9.88h-1.0zM422.0 34.64h1.0v9.88h-1.0zM423.0 34.64h1.0v9.88h-1.0zM424.0 34.64h2.0v9.88h-2.0zM431.0 34.64h1.0v9.88h-1.0zM436.0 34.64h1.0v9.88h-1.0zM449.0 34.64h1.0v9.88h-1.0zM450.0 34.64h1.0v9.88h-1.0zM456.0 34.64h1.0v9.88h-1.0zM461.0 34.64h1.0v9.88h-1.0zM463.0 34.64h2.0v9.88h-2.0zM471.0 34.64h1.0v9.88h-1.0zM266.0 161.21h1.0v9.87h-1.0zM278.0 161.21h1.0v9.87h-1.0zM304.0 161.21h1.0v9.87h-1.0zM308.0 161.21h1.0v9.87h-1.0zM311.0 161.21h1.0v9.87h-1.0zM320.0 161.21h1.0v9.87h-1.0zM325.0 161.21h2.0v9.87h-2.0zM328.0 161.21h1.0v9.87h-1.0zM332.0 161.21h2.0v9.87h-2.0zM336.0 161.21h1.0v9.87h-1.0zM337.0 161.21h1.0v9.87h-1.0zM343.0 161.21h1.0v9.87h-1.0zM350.0 161.21h1.0v9.87h-1.0zM354.0 161.21h1.0v9.87h-1.0zM357.0 161.21h1.0v9.87h-1.0zM358.0 161.21h1.0v9.87h-1.0zM363.0 161.21h1.0v9.87h-1.0zM369.0 161.21h1.0v9.87h-1.0zM379.0 161.21h1.0v9.87h-1.0zM381.0 161.21h2.0v9.87h-2.0zM388.0 161.21h1.0v9.87h-1.0zM391.0 161.21h1.0v9.87h-1.0zM395.0 161.21h1.0v9.87h-1.0zM399.0 161.21h1.0v9.87h-1.0zM400.0 161.21h1.0v9.87h-1.0zM402.0 161.21h1.0v9.87h-1.0zM409.0 161.21h2.0v9.87h-2.0zM412.0 161.21h1.0v9.87h-1.0zM421.0 161.21h1.0v9.87h-1.0zM431.0 161.21h1.0v9.87h-1.0zM437.0 161.21h1.0v9.87h-1.0zM442.0 161.21h2.0v9.87h-2.0zM452.0 161.21h2.0v9.87h-2.0zM456.0 161.21h1.0v9.87h-1.0zM457.0 161.21h2.0v9.87h-2.0zM460.0 161.21h1.0v9.87h-1.0zM461.0 161.21h1.0v9.87h-1.0zM468.0 161.21h2.0v9.87h-2.0zM471.0 161.21h1.0v9.87h-1.0zM473.0 161.21h1.0v9.87h-1.0zM474.0 161.21h0.6v9.87h-0.6zM273.0 171.08h1.0v9.87h-1.0zM277.0 171.08h1.0v9.87h-1.0zM285.0 171.08h1.0v9.87h-1.0zM292.0 171.08h1.0v9.87h-1.0zM295.0 171.08h2.0v9.87h-2.0zM301.0 171.08h2.0v9.87h-2.0zM307.0 171.08h1.0v9.87h-1.0zM313.0 171.08h1.0v9.87h-1.0zM314.0 171.08h1.0v9.87h-1.0zM322.0 171.08h1.0v9.87h-1.0zM332.0 171.08h2.0v9.87h-2.0zM336.0 171.08h1.0v9.87h-1.0zM339.0 171.08h1.0v9.87h-1.0zM343.0 171.08h1.0v9.87h-1.0zM348.0 171.08h1.0v9.87h-1.0zM351.0 171.08h2.0v9.87h-2.0zM354.0 171.08h1.0v9.87h-1.0zM355.0 171.08h2.0v9.87h-2.0zM359.0 171.08h1.0v9.87h-1.0zM360.0 171.08h1.0v9.87h-1.0zM368.0 171.08h1.0v9.87h-1.0zM370.0 171.08h1.0v9.87h-1.0zM372.0 171.08h1.0v9.87h-1.0zM380.0 171.08h2.0v9.87h-2.0zM384.0 171.08h1.0v9.87h-1.0zM385.0 171.08h2.0v9.87h-2.0zM397.0 171.08h1.0v9.87h-1.0zM403.0 171.08h1.0v9.87h-1.0zM405.0 171.08h1.0v9.87h-1.0zM406.0 171.08h1.0v9.87h-1.0zM416.0 171.08h2.0v9.87h-2.0zM424.0 171.08h2.0v9.87h-2.0zM429.0 171.08h1.0v9.87h-1.0zM442.0 171.08h1.0v9.87h-1.0zM446.0 171.08h1.0v9.87h-1.0zM447.0 171.08h1.0v9.87h-1.0zM450.0 171.08h1.0v9.87h-1.0zM453.0 171.08h1.0v9.87h-1.0zM454.0 171.08h1.0v9.87h-1.0zM463.0 171.08h1.0v9.87h-1.0zM472.0 171.08h1.0v9.87h-1.0zM473.0 171.08h1.0v9.87h-1.0zM295.0 54.40h2.0v9.88h-2.0zM310.0 54.40h2.0v9.88h-2.0zM312.0 54.40h1.0v9.88h-1.0zM342.0 54.40h1.0v9.88h-1.0zM343.0 54.40h1.0v9.88h-1.0zM349.0 54.40h1.0v9.88h-1.0zM382.0 54.40h1.0v9.88h-1.0zM397.0 54.40h1.0v9.88h-1.0zM404.0 54.40h2.0v9.88h-2.0zM416.0 54.40h1.0v9.88h-1.0zM474.0 54.40h0.6v9.88h-0.6zM287.0 64.28h2.0v9.88h-2.0zM292.0 64.28h1.0v9.88h-1.0zM294.0 64.28h2.0v9.88h-2.0zM298.0 64.28h1.0v9.88h-1.0zM299.0 64.28h1.0v9.88h-1.0zM300.0 64.28h1.0v9.88h-1.0zM314.0 64.28h1.0v9.88h-1.0zM320.0 64.28h1.0v9.88h-1.0zM322.0 64.28h1.0v9.88h-1.0zM330.0 64.28h1.0v9.88h-1.0zM335.0 64.28h2.0v9.88h-2.0zM339.0 64.28h1.0v9.88h-1.0zM347.0 64.28h2.0v9.88h-2.0zM358.0 64.28h1.0v9.88h-1.0zM363.0 64.28h1.0v9.88h-1.0zM367.0 64.28h1.0v9.88h-1.0zM381.0 64.28h1.0v9.88h-1.0zM461.0 64.28h1.0v9.88h-1.0zM471.0 64.28h1.0v9.88h-1.0zM473.0 64.28h1.0v9.88h-1.0zM268.0 200.69h1.0v9.87h-1.0zM275.0 200.69h1.0v9.87h-1.0zM277.0 200.69h1.0v9.87h-1.0zM285.0 200.69h1.0v9.87h-1.0zM289.0 200.69h1.0v9.87h-1.0zM290.0 200.69h1.0v9.87h-1.0zM293.0 200.69h2.0v9.87h-2.0zM305.0 200.69h1.0v9.87h-1.0zM311.0 200.69h1.0v9.87h-1.0zM315.0 200.69h1.0v9.87h-1.0zM324.0 200.69h1.0v9.87h-1.0zM325.0 200.69h1.0v9.87h-1.0zM326.0 200.69h1.0v9.87h-1.0zM327.0 200.69h1.0v9.87h-1.0zM338.0 200.69h1.0v9.87h-1.0zM349.0 200.69h1.0v9.87h-1.0zM358.0 200.69h1.0v9.87h-1.0zM370.0 200.69h1.0v9.87h-1.0zM372.0 200.69h1.0v9.87h-1.0zM374.0 200.69h1.0v9.87h-1.0zM390.0 200.69h1.0v9.87h-1.0zM395.0 200.69h1.0v9.87h-1.0zM397.0 200.69h2.0v9.87h-2.0zM400.0 200.69h2.0v9.87h-2.0zM404.0 200.69h2.0v9.87h-2.0zM419.0 200.69h2.0v9.87h-2.0zM422.0 200.69h1.0v9.87h-1.0zM425.0 200.69h1.0v9.87h-1.0zM426.0 200.69h2.0v9.87h-2.0zM428.0 200.69h1.0v9.87h-1.0zM431.0 200.69h1.0v9.87h-1.0zM432.0 200.69h1.0v9.87h-1.0zM436.0 200.69h1.0v9.87h-1.0zM438.0 200.69h1.0v9.87h-1.0zM439.0 200.69h1.0v9.87h-1.0zM449.0 200.69h1.0v9.87h-1.0zM456.0 200.69h1.0v9.87h-1.0zM467.0 200.69h1.0v9.87h-1.0zM468.0 200.69h1.0v9.87h-1.0zM473.0 200.69h1.6v9.87h-1.6zM274.0 93.92h1.0v9.88h-1.0zM275.0 93.92h1.0v9.88h-1.0zM278.0 93.92h1.0v9.88h-1.0zM327.0 93.92h1.0v9.88h-1.0zM352.0 93.92h1.0v9.88h-1.0zM354.0 93.92h1.0v9.88h-1.0zM360.0 93.92h1.0v9.88h-1.0zM372.0 93.92h2.0v9.88h-2.0zM380.0 93.92h1.0v9.88h-1.0zM391.0 93.92h1.0v9.88h-1.0zM392.0 93.92h2.0v9.88h-2.0zM399.0 93.92h1.0v9.88h-1.0zM427.0 93.92h1.0v9.88h-1.0zM441.0 93.92h1.0v9.88h-1.0zM449.0 93.92h1.0v9.88h-1.0zM455.0 93.92h2.0v9.88h-2.0zM463.0 93.92h1.0v9.88h-1.0zM465.0 93.92h1.0v9.88h-1.0zM273.0 220.43h1.0v9.87h-1.0zM310.0 220.43h1.0v9.87h-1.0zM318.0 220.43h1.0v9.87h-1.0zM332.0 220.43h1.0v9.87h-1.0zM374.0 220.43h1.0v9.87h-1.0zM388.0 220.43h1.0v9.87h-1.0zM408.0 220.43h1.0v9.87h-1.0zM423.0 220.43h1.0v9.87h-1.0zM311.0 103.80h1.0v9.88h-1.0zM322.0 103.80h2.0v9.88h-2.0zM389.0 103.80h1.0v9.88h-1.0zM436.0 103.80h1.0v9.88h-1.0zM460.0 103.80h1.0v9.88h-1.0zM269.0 113.68h1.0v9.88h-1.0zM297.0 113.68h1.0v9.88h-1.0zM364.0 113.68h1.0v9.88h-1.0zM415.0 113.68h1.0v9.88h-1.0zM463.0 113.68h1.0v9.88h-1.0zM468.0 113.68h1.0v9.88h-1.0zM266.0 240.17h2.0v9.87h-2.0zM277.0 240.17h1.0v9.87h-1.0zM278.0 240.17h1.0v9.87h-1.0zM285.0 240.17h1.0v9.87h-1.0zM287.0 240.17h1.0v9.87h-1.0zM290.0 240.17h1.0v9.87h-1.0zM296.0 240.17h1.0v9.87h-1.0zM310.0 240.17h1.0v9.87h-1.0zM312.0 240.17h1.0v9.87h-1.0zM321.0 240.17h1.0v9.87h-1.0zM332.0 240.17h1.0v9.87h-1.0zM344.0 240.17h1.0v9.87h-1.0zM345.0 240.17h1.0v9.87h-1.0zM347.0 240.17h1.0v9.87h-1.0zM357.0 240.17h1.0v9.87h-1.0zM366.0 240.17h1.0v9.87h-1.0zM367.0 240.17h2.0v9.87h-2.0zM382.0 240.17h1.0v9.87h-1.0zM383.0 240.17h1.0v9.87h-1.0zM385.0 240.17h1.0v9.87h-1.0zM394.0 240.17h1.0v9.87h-1.0zM398.0 240.17h1.0v9.87h-1.0zM410.0 240.17h1.0v9.87h-1.0zM417.0 240.17h1.0v9.87h-1.0zM418.0 240.17h1.0v9.87h-1.0zM419.0 240.17h1.0v9.87h-1.0zM425.0 240.17h1.0v9.87h-1.0zM426.0 240.17h1.0v9.87h-1.0zM435.0 240.17h1.0v9.87h-1.0zM448.0 240.17h1.0v9.87h-1.0zM461.0 240.17h2.0v9.87h-2.0z"/>
<path fill="#fccebd" d="M274.0 131.60h2.0v9.87h-2.0zM280.0 131.60h1.0v9.87h-1.0zM286.0 131.60h1.0v9.87h-1.0zM287.0 131.60h2.0v9.87h-2.0zM290.0 131.60h1.0v9.87h-1.0zM307.0 131.60h1.0v9.87h-1.0zM322.0 131.60h1.0v9.87h-1.0zM325.0 131.60h1.0v9.87h-1.0zM329.0 131.60h1.0v9.87h-1.0zM336.0 131.60h1.0v9.87h-1.0zM337.0 131.60h1.0v9.87h-1.0zM340.0 131.60h1.0v9.87h-1.0zM346.0 131.60h1.0v9.87h-1.0zM349.0 131.60h2.0v9.87h-2.0zM378.0 131.60h1.0v9.87h-1.0zM387.0 131.60h1.0v9.87h-1.0zM391.0 131.60h1.0v9.87h-1.0zM419.0 131.60h1.0v9.87h-1.0zM427.0 131.60h1.0v9.87h-1.0zM453.0 131.60h1.0v9.87h-1.0zM455.0 131.60h1.0v9.87h-1.0zM278.0 14.88h1.0v9.88h-1.0zM284.0 14.88h1.0v9.88h-1.0zM300.0 14.88h2.0v9.88h-2.0zM306.0 14.88h1.0v9.88h-1.0zM317.0 14.88h1.0v9.88h-1.0zM332.0 14.88h1.0v9.88h-1.0zM347.0 14.88h1.0v9.88h-1.0zM354.0 14.88h1.0v9.88h-1.0zM356.0 14.88h1.0v9.88h-1.0zM358.0 14.88h1.0v9.88h-1.0zM364.0 14.88h1.0v9.88h-1.0zM392.0 14.88h1.0v9.88h-1.0zM398.0 14.88h1.0v9.88h-1.0zM268.0 34.64h1.0v9.88h-1.0zM273.0 34.64h1.0v9.88h-1.0zM285.0 34.64h1.0v9.88h-1.0zM289.0 34.64h1.0v9.88h-1.0zM296.0 34.64h1.0v9.88h-1.0zM297.0 34.64h1.0v9.88h-1.0zM300.0 34.64h1.0v9.88h-1.0zM315.0 34.64h1.0v9.88h-1.0zM321.0 34.64h1.0v9.88h-1.0zM335.0 34.64h1.0v9.88h-1.0zM349.0 34.64h1.0v9.88h-1.0zM350.0 34.64h1.0v9.88h-1.0zM353.0 34.64h2.0v9.88h-2.0zM359.0 34.64h2.0v9.88h-2.0zM365.0 34.64h1.0v9.88h-1.0zM374.0 34.64h1.0v9.88h-1.0zM378.0 34.64h1.0v9.88h-1.0zM381.0 34.64h1.0v9.88h-1.0zM384.0 34.64h1.0v9.88h-1.0zM386.0 34.64h1.0v9.88h-1.0zM388.0 34.64h1.0v9.88h-1.0zM406.0 34.64h1.0v9.88h-1.0zM408.0 34.64h2.0v9.88h-2.0zM413.0 34.64h1.0v9.88h-1.0zM416.0 34.64h1.0v9.88h-1.0zM417.0 34.64h1.0v9.88h-1.0zM419.0 34.64h1.0v9.88h-1.0zM421.0 34.64h1.0v9.88h-1.0zM428.0 34.64h1.0v9.88h-1.0zM437.0 34.64h1.0v9.88h-1.0zM440.0 34.64h1.0v9.88h-1.0zM446.0 34.64h1.0v9.88h-1.0zM447.0 34.64h1.0v9.88h-1.0zM448.0 34.64h1.0v9.88h-1.0zM453.0 34.64h2.0v9.88h-2.0zM470.0 34.64h1.0v9.88h-1.0zM272.0 161.21h1.0v9.87h-1.0zM273.0 161.21h1.0v9.87h-1.0zM275.0 161.21h1.0v9.87h-1.0zM276.0 161.21h1.0v9.87h-1.0zM277.0 161.21h1.0v9.87h-1.0zM279.0 161.21h1.0v9.87h-1.0zM284.0 161.21h1.0v9.87h-1.0zM285.0 161.21h1.0v9.87h-1.0zM299.0 161.21h1.0v9.87h-1.0zM310.0 161.21h1.0v9.87h-1.0zM318.0 161.21h2.0v9.87h-2.0zM321.0 161.21h1.0v9.87h-1.0zM331.0 161.21h1.0v9.87h-1.0zM335.0 161.21h1.0v9.87h-1.0zM339.0 161.21h2.0v9.87h-2.0zM341.0 161.21h1.0v9.87h-1.0zM345.0 161.21h1.0v9.87h-1.0zM351.0 161.21h2.0v9.87h-2.0zM360.0 161.21h2.0v9.87h-2.0zM370.0 161.21h1.0v9.87h-1.0zM375.0 161.21h2.0v9.87h-2.0zM377.0 161.21h1.0v9.87h-1.0zM398.0 161.21h1.0v9.87h-1.0zM403.0 161.21h1.0v9.87h-1.0zM406.0 161.21h1.0v9.87h-1.0zM414.0 161.21h1.0v9.87h-1.0zM415.0 161.21h1.0v9.87h-1.0zM419.0 161.21h1.0v9.87h-1.0zM423.0 161.21h1.0v9.87h-1.0zM428.0 161.21h1.0v9.87h-1.0zM434.0 161.21h2.0v9.87h-2.0zM445.0 161.21h1.0v9.87h-1.0zM446.0 161.21h1.0v9.87h-1.0zM454.0 161.21h1.0v9.87h-1.0zM464.0 161.21h1.0v9.87h-1.0zM465.0 161.21h1.0v9.87h-1.0zM266.0 171.08h1.0v9.87h-1.0zM267.0 171.08h2.0v9.87h-2.0zM269.0 171.08h2.0v9.87h-2.0zM275.0 171.08h2.0v9.87h-2.0zM288.0 171.08h1.0v9.87h-1.0zM298.0 171.08h1.0v9.87h-1.0zM319.0 171.08h1.0v9.87h-1.0zM324.0 171.08h1.0v9.87h-1.0zM325.0 171.08h2.0v9.87h-2.0zM329.0 171.08h2.0v9.87h-2.0zM331.0 171.08h1.0v9.87h-1.0zM335.0 171.08h1.0v9.87h-1.0zM338.0 171.08h1.0v9.87h-1.0zM341.0 171.08h1.0v9.87h-1.0zM345.0 171.08h1.0v9.87h-1.0zM350.0 171.08h1.0v9.87h-1.0zM362.0 171.08h1.0v9.87h-1.0zM371.0 171.08h1.0v9.87h-1.0zM375.0 171.08h1.0v9.87h-1.0zM378.0 171.08h1.0v9.87h-1.0zM387.0 171.08h1.0v9.87h-1.0zM388.0 171.08h1.0v9.87h-1.0zM392.0 171.08h2.0v9.87h-2.0zM395.0 171.08h2.0v9.87h-2.0zM427.0 171.08h2.0v9.87h-2.0zM430.0 171.08h2.0v9.87h-2.0zM433.0 171.08h1.0v9.87h-1.0zM436.0 171.08h1.0v9.87h-1.0zM440.0 171.08h1.0v9.87h-1.0zM441.0 171.08h1.0v9.87h-1.0zM448.0 171.08h1.0v9.87h-1.0zM452.0 171.08h1.0v9.87h-1.0zM455.0 171.08h1.0v9.87h-1.0zM459.0 171.08h1.0v9.87h-1.0zM464.0 171.08h1.0v9.87h-1.0zM465.0 171.08h1.0v9.87h-1.0zM468.0 171.08h1.0v9.87h-1.0zM471.0 171.08h1.0v9.87h-1.0zM267.0 54.40h1.0v9.88h-1.0zM372.0 64.28h1.0v9.88h-1.0zM417.0 64.28h1.0v9.88h-1.0zM451.0 64.28h1.0v9.88h-1.0zM458.0 64.28h1.0v9.88h-1.0zM460.0 64.28h1.0v9.88h-1.0zM463.0 64.28h2.0v9.88h-2.0zM266.0 200.69h1.0v9.87h-1.0zM271.0 200.69h1.0v9.87h-1.0zM282.0 200.69h1.0v9.87h-1.0zM287.0 200.69h1.0v9.87h-1.0zM288.0 200.69h1.0v9.87h-1.0zM297.0 200.69h1.0v9.87h-1.0zM299.0 200.69h1.0v9.87h-1.0zM300.0 200.69h1.0v9.87h-1.0zM304.0 200.69h1.0v9.87h-1.0zM310.0 200.69h1.0v9.87h-1.0zM321.0 200.69h2.0v9.87h-2.0zM329.0 200.69h1.0v9.87h-1.0zM334.0 200.69h1.0v9.87h-1.0zM335.0 200.69h1.0v9.87h-1.0zM337.0 200.69h1.0v9.87h-1.0zM340.0 200.69h1.0v9.87h-1.0zM344.0 200.69h1.0v9.87h-1.0zM347.0 200.69h1.0v9.87h-1.0zM350.0 200.69h1.0v9.87h-1.0zM355.0 200.69h1.0v9.87h-1.0zM359.0 200.69h1.0v9.87h-1.0zM377.0 200.69h1.0v9.87h-1.0zM379.0 200.69h1.0v9.87h-1.0zM383.0 200.69h1.0v9.87h-1.0zM386.0 200.69h2.0v9.87h-2.0zM391.0 200.69h1.0v9.87h-1.0zM402.0 200.69h1.0v9.87h-1.0zM406.0 200.69h2.0v9.87h-2.0zM409.0 200.69h1.0v9.87h-1.0zM440.0 200.69h1.0v9.87h-1.0zM444.0 200.69h2.0v9.87h-2.0zM446.0 200.69h1.0v9.87h-1.0zM452.0 200.69h1.0v9.87h-1.0zM455.0 200.69h1.0v9.87h-1.0zM460.0 200.69h1.0v9.87h-1.0zM461.0 200.69h1.0v9.87h-1.0zM267.0 93.92h1.0v9.88h-1.0zM276.0 93.92h1.0v9.88h-1.0zM279.0 93.92h1.0v9.88h-1.0zM283.0 93.92h1.0v9.88h-1.0zM284.0 93.92h1.0v9.88h-1.0zM287.0 93.92h1.0v9.88h-1.0zM295.0 93.92h1.0v9.88h-1.0zM298.0 93.92h1.0v9.88h-1.0zM307.0 93.92h1.0v9.88h-1.0zM309.0 93.92h1.0v9.88h-1.0zM310.0 93.92h1.0v9.88h-1.0zM313.0 93.92h1.0v9.88h-1.0zM316.0 93.92h1.0v9.88h-1.0zM330.0 93.92h2.0v9.88h-2.0zM334.0 93.92h2.0v9.88h-2.0zM338.0 93.92h2.0v9.88h-2.0zM355.0 93.92h2.0v9.88h-2.0zM374.0 93.92h2.0v9.88h-2.0zM377.0 93.92h1.0v9.88h-1.0zM385.0 93.92h1.0v9.88h-1.0zM388.0 93.92h1.0v9.88h-1.0zM394.0 93.92h2.0v9.88h-2.0zM396.0 93.92h1.0v9.88h-1.0zM408.0 93.92h1.0v9.88h-1.0zM411.0 93.92h1.0v9.88h-1.0zM416.0 93.92h1.0v9.88h-1.0zM417.0 93.92h2.0v9.88h-2.0zM426.0 93.92h1.0v9.88h-1.0zM430.0 93.92h1.0v9.88h-1.0zM450.0 93.92h1.0v9.88h-1.0zM457.0 93.92h2.0v9.88h-2.0zM461.0 93.92h2.0v9.88h-2.0zM466.0 93.92h1.0v9.88h-1.0zM468.0 93.92h1.0v9.88h-1.0zM474.0 93.92h0.6v9.88h-0.6zM279.0 103.80h2.0v9.88h-2.0zM284.0 103.80h2.0v9.88h-2.0zM302.0 103.80h1.0v9.88h-1.0zM316.0 103.80h2.0v9.88h-2.0zM321.0 103.80h1.0v9.88h-1.0zM332.0 103.80h2.0v9.88h-2.0zM341.0 103.80h1.0v9.88h-1.0zM346.0 103.80h1.0v9.88h-1.0zM365.0 103.80h1.0v9.88h-1.0zM372.0 103.80h1.0v9.88h-1.0zM373.0 103.80h1.0v9.88h-1.0zM384.0 103.80h1.0v9.88h-1.0zM401.0 103.80h2.0v9.88h-2.0zM403.0 103.80h1.0v9.88h-1.0zM413.0 103.80h1.0v9.88h-1.0zM414.0 103.80h1.0v9.88h-1.0zM422.0 103.80h2.0v9.88h-2.0zM461.0 103.80h1.0v9.88h-1.0zM469.0 103.80h1.0v9.88h-1.0zM471.0 103.80h1.0v9.88h-1.0zM276.0 240.17h1.0v9.87h-1.0zM319.0 240.17h1.0v9.87h-1.0zM323.0 240.17h2.0v9.87h-2.0zM336.0 240.17h2.0v9.87h-2.0zM340.0 240.17h1.0v9.87h-1.0zM389.0 240.17h1.0v9.87h-1.0zM403.0 240.17h2.0v9.87h-2.0zM406.0 240.17h2.0v9.87h-2.0zM412.0 240.17h1.0v9.87h-1.0zM414.0 240.17h1.0v9.87h-1.0zM420.0 240.17h1.0v9.87h-1.0zM430.0 240.17h1.0v9.87h-1.0zM433.0 240.17h1.0v9.87h-1.0zM449.0 240.17h1.0v9.87h-1.0zM463.0 240.17h1.0v9.87h-1.0zM464.0 240.17h1.0v9.87h-1.0z"/>
<path fill="#fdd9cb" d="M277.0 131.60h1.0v9.87h-1.0zM284.0 131.60h1.0v9.87h-1.0zM285.0 131.60h1.0v9.87h-1.0zM297.0 131.60h1.0v9.87h-1.0zM303.0 131.60h1.0v9.87h-1.0zM309.0 131.60h1.0v9.87h-1.0zM310.0 131.60h1.0v9.87h-1.0zM319.0 131.60h1.0v9.87h-1.0zM321.0 131.60h1.0v9.87h-1.0zM326.0 131.60h1.0v9.87h-1.0zM327.0 131.60h1.0v9.87h-1.0zM341.0 131.60h2.0v9.87h-2.0zM343.0 131.60h1.0v9.87h-1.0zM362.0 131.60h1.0v9.87h-1.0zM365.0 131.60h1.0v9.87h-1.0zM367.0 131.60h1.0v9.87h-1.0zM369.0 131.60h1.0v9.87h-1.0zM373.0 131.60h1.0v9.87h-1.0zM375.0 131.60h1.0v9.87h-1.0zM379.0 131.60h1.0v9.87h-1.0zM383.0 131.60h1.0v9.87h-1.0zM384.0 131.60h1.0v9.87h-1.0zM394.0 131.60h2.0v9.87h-2.0zM401.0 131.60h1.0v9.87h-1.0zM405.0 131.60h1.0v9.87h-1.0zM411.0 131.60h1.0v9.87h-1.0zM415.0 131.60h1.0v9.87h-1.0zM418.0 131.60h1.0v9.87h-1.0zM438.0 131.60h1.0v9.87h-1.0zM440.0 131.60h1.0v9.87h-1.0zM441.0 131.60h1.0v9.87h-1.0zM442.0 131.60h1.0v9.87h-1.0zM446.0 131.60h1.0v9.87h-1.0zM451.0 131.60h1.0v9.87h-1.0zM458.0 131.60h1.0v9.87h-1.0zM464.0 131.60h2.0v9.87h-2.0zM466.0 131.60h1.0v9.87h-1.0zM468.0 131.60h1.0v9.87h-1.0zM473.0 131.60h1.6v9.87h-1.6zM368.0 14.88h2.0v9.88h-2.0zM385.0 14.88h2.0v9.88h-2.0zM440.0 14.88h1.0v9.88h-1.0zM469.0 14.88h1.0v9.88h-1.0zM282.0 34.64h1.0v9.88h-1.0zM292.0 34.64h2.0v9.88h-2.0zM302.0 34.64h1.0v9.88h-1.0zM312.0 34.64h1.0v9.88h-1.0zM316.0 34.64h1.0v9.88h-1.0zM328.0 34.64h1.0v9.88h-1.0zM334.0 34.64h1.0v9.88h-1.0zM336.0 34.64h1.0v9.88h-1.0zM339.0 34.64h1.0v9.88h-1.0zM357.0 34.64h2.0v9.88h-2.0zM362.0 34.64h1.0v9.88h-1.0zM373.0 34.64h1.0v9.88h-1.0zM377.0 34.64h1.0v9.88h-1.0zM380.0 34.64h1.0v9.88h-1.0zM382.0 34.64h1.0v9.88h-1.0zM392.0 34.64h1.0v9.88h-1.0zM394.0 34.64h1.0v9.88h-1.0zM396.0 34.64h1.0v9.88h-1.0zM397.0 34.64h1.0v9.88h-1.0zM398.0 34.64h2.0v9.88h-2.0zM402.0 34.64h1.0v9.88h-1.0zM403.0 34.64h2.0v9.88h-2.0zM429.0 34.64h1.0v9.88h-1.0zM438.0 34.64h1.0v9.88h-1.0zM439.0 34.64h1.0v9.88h-1.0zM443.0 34.64h2.0v9.88h-2.0zM445.0 34.64h1.0v9.88h-1.0zM455.0 34.64h1.0v9.88h-1.0zM457.0 34.64h1.0v9.88h-1.0zM458.0 34.64h1.0v9.88h-1.0zM459.0 34.64h1.0v9.88h-1.0zM462.0 34.64h1.0v9.88h-1.0zM467.0 34.64h1.0v9.88h-1.0zM267.0 161.21h1.0v9.87h-1.0zM268.0 161.21h1.0v9.87h-1.0zM269.0 161.21h1.0v9.87h-1.0zM286.0 161.21h1.0v9.87h-1.0zM292.0 161.21h2.0v9.87h-2.0zM296.0 161.21h1.0v9.87h-1.0zM297.0 161.21h1.0v9.87h-1.0zM300.0 161.21h1.0v9.87h-1.0zM301.0 161.21h1.0v9.87h-1.0zM302.0 161.21h1.0v9.87h-1.0zM305.0 161.21h1.0v9.87h-1.0zM307.0 161.21h1.0v9.87h-1.0zM309.0 161.21h1.0v9.87h-1.0zM314.0 161.21h1.0v9.87h-1.0zM317.0 161.21h1.0v9.87h-1.0zM338.0 161.21h1.0v9.87h-1.0zM344.0 161.21h1.0v9.87h-1.0zM347.0 161.21h1.0v9.87h-1.0zM348.0 161.21h2.0v9.87h-2.0zM364.0 161.21h1.0v9.87h-1.0zM367.0 161.21h1.0v9.87h-1.0zM368.0 161.21h1.0v9.87h-1.0zM371.0 161.21h2.0v9.87h-2.0zM373.0 161.21h1.0v9.87h-1.0zM374.0 161.21h1.0v9.87h-1.0zM378.0 161.21h1.0v9.87h-1.0zM383.0 161.21h1.0v9.87h-1.0zM389.0 161.21h1.0v9.87h-1.0zM390.0 161.21h1.0v9.87h-1.0zM396.0 161.21h2.0v9.87h-2.0zM404.0 161.21h2.0v9.87h-2.0zM411.0 161.21h1.0v9.87h-1.0zM438.0 161.21h1.0v9.87h-1.0zM441.0 161.21h1.0v9.87h-1.0zM466.0 161.21h2.0v9.87h-2.0zM470.0 161.21h1.0v9.87h-1.0zM271.0 44.52h2.0v9.88h-2.0zM306.0 44.52h1.0v9.88h-1.0zM404.0 44.52h1.0v9.88h-1.0zM412.0 44.52h1.0v9.88h-1.0zM419.0 44.52h2.0v9.88h-2.0zM278.0 171.08h2.0v9.87h-2.0zM282.0 171.08h1.0v9.87h-1.0zM283.0 171.08h1.0v9.87h-1.0zM299.0 171.08h2.0v9.87h-2.0zM306.0 171.08h1.0v9.87h-1.0zM308.0 171.08h1.0v9.87h-1.0zM309.0 171.08h1.0v9.87h-1.0zM310.0 171.08h1.0v9.87h-1.0zM316.0 171.08h1.0v9.87h-1.0zM317.0 171.08h1.0v9.87h-1.0zM321.0 171.08h1.0v9.87h-1.0zM342.0 171.08h1.0v9.87h-1.0zM344.0 171.08h1.0v9.87h-1.0zM357.0 171.08h2.0v9.87h-2.0zM363.0 171.08h1.0v9.87h-1.0zM364.0 171.08h1.0v9.87h-1.0zM376.0 171.08h1.0v9.87h-1.0zM379.0 171.08h1.0v9.87h-1.0zM389.0 171.08h1.0v9.87h-1.0zM402.0 171.08h1.0v9.87h-1.0zM404.0 171.08h1.0v9.87h-1.0zM408.0 171.08h1.0v9.87h-1.0zM409.0 171.08h1.0v9.87h-1.0zM410.0 171.08h2.0v9.87h-2.0zM414.0 171.08h2.0v9.87h-2.0zM418.0 171.08h1.0v9.87h-1.0zM426.0 171.08h1.0v9.87h-1.0zM432.0 171.08h1.0v9.87h-1.0zM443.0 171.08h1.0v9.87h-1.0zM449.0 171.08h1.0v9.87h-1.0zM451.0 171.08h1.0v9.87h-1.0zM456.0 171.08h1.0v9.87h-1.0zM457.0 171.08h1.0v9.87h-1.0zM460.0 171.08h1.0v9.87h-1.0zM466.0 171.08h1.0v9.87h-1.0zM268.0 54.40h1.0v9.88h-1.0zM271.0 54.40h1.0v9.88h-1.0zM275.0 54.40h1.0v9.88h-1.0zM276.0 54.40h1.0v9.88h-1.0zM282.0 54.40h1.0v9.88h-1.0zM283.0 54.40h1.0v9.88h-1.0zM285.0 54.40h1.0v9.88h-1.0zM288.0 54.40h1.0v9.88h-1.0zM301.0 54.40h1.0v9.88h-1.0zM302.0 54.40h1.0v9.88h-1.0zM304.0 54.40h1.0v9.88h-1.0zM314.0 54.40h1.0v9.88h-1.0zM321.0 54.40h1.0v9.88h-1.0zM350.0 54.40h1.0v9.88h-1.0zM370.0 54.40h1.0v9.88h-1.0zM377.0 54.40h1.0v9.88h-1.0zM381.0 54.40h1.0v9.88h-1.0zM384.0 54.40h1.0v9.88h-1.0zM385.0 54.40h1.0v9.88h-1.0zM402.0 54.40h1.0v9.88h-1.0zM406.0 54.40h1.0v9.88h-1.0zM409.0 54.40h1.0v9.88h-1.0zM413.0 54.40h1.0v9.88h-1.0zM417.0 54.40h1.0v9.88h-1.0zM421.0 54.40h1.0v9.88h-1.0zM422.0 54.40h1.0v9.88h-1.0zM430.0 54.40h1.0v9.88h-1.0zM437.0 54.40h1.0v9.88h-1.0zM438.0 54.40h2.0v9.88h-2.0zM445.0 54.40h2.0v9.88h-2.0zM448.0 54.40h1.0v9.88h-1.0zM450.0 54.40h1.0v9.88h-1.0zM451.0 54.40h1.0v9.88h-1.0zM456.0 54.40h1.0v9.88h-1.0zM462.0 54.40h2.0v9.88h-2.0zM469.0 54.40h2.0v9.88h-2.0zM266.0 64.28h1.0v9.88h-1.0zM279.0 64.28h1.0v9.88h-1.0zM283.0 64.28h1.0v9.88h-1.0zM293.0 64.28h1.0v9.88h-1.0zM303.0 64.28h1.0v9.88h-1.0zM304.0 64.28h1.0v9.88h-1.0zM308.0 64.28h1.0v9.88h-1.0zM317.0 64.28h1.0v9.88h-1.0zM319.0 64.28h1.0v9.88h-1.0zM321.0 64.28h1.0v9.88h-1.0zM332.0 64.28h1.0v9.88h-1.0zM340.0 64.28h1.0v9.88h-1.0zM351.0 64.28h2.0v9.88h-2.0zM353.0 64.28h1.0v9.88h-1.0zM354.0 64.28h2.0v9.88h-2.0zM359.0 64.28h1.0v9.88h-1.0zM361.0 64.28h2.0v9.88h-2.0zM368.0 64.28h2.0v9.88h-2.0zM376.0 64.28h2.0v9.88h-2.0zM380.0 64.28h1.0v9.88h-1.0zM386.0 64.28h2.0v9.88h-2.0zM388.0 64.28h1.0v9.88h-1.0zM390.0 64.28h1.0v9.88h-1.0zM393.0 64.28h2.0v9.88h-2.0zM395.0 64.28h1.0v9.88h-1.0zM400.0 64.28h1.0v9.88h-1.0zM403.0 64.28h1.0v9.88h-1.0zM404.0 64.28h2.0v9.88h-2.0zM415.0 64.28h2.0v9.88h-2.0zM418.0 64.28h1.0v9.88h-1.0zM419.0 64.28h1.0v9.88h-1.0zM421.0 64.28h1.0v9.88h-1.0zM423.0 64.28h2.0v9.88h-2.0zM426.0 64.28h1.0v9.88h-1.0zM427.0 64.28h1.0v9.88h-1.0zM432.0 64.28h1.0v9.88h-1.0zM435.0 64.28h2.0v9.88h-2.0zM441.0 64.28h1.0v9.88h-1.0zM442.0 64.28h1.0v9.88h-1.0zM444.0 64.28h1.0v9.88h-1.0zM445.0 64.28h2.0v9.88h-2.0zM450.0 64.28h1.0v9.88h-1.0zM453.0 64.28h1.0v9.88h-1.0zM457.0 64.28h1.0v9.88h-1.0zM467.0 64.28h1.0v9.88h-1.0zM470.0 64.28h1.0v9.88h-1.0zM474.0 64.28h0.6v9.88h-0.6zM312.0 200.69h1.0v9.87h-1.0zM330.0 200.69h1.0v9.87h-1.0zM332.0 200.69h1.0v9.87h-1.0zM336.0 200.69h1.0v9.87h-1.0zM352.0 200.69h2.0v9.87h-2.0zM362.0 200.69h1.0v9.87h-1.0zM365.0 200.69h1.0v9.87h-1.0zM371.0 200.69h1.0v9.87h-1.0zM382.0 200.69h1.0v9.87h-1.0zM393.0 200.69h1.0v9.87h-1.0zM411.0 200.69h1.0v9.87h-1.0zM415.0 200.69h1.0v9.87h-1.0zM433.0 200.69h1.0v9.87h-1.0zM447.0 200.69h1.0v9.87h-1.0zM448.0 200.69h1.0v9.87h-1.0zM454.0 200.69h1.0v9.87h-1.0zM266.0 93.92h1.0v9.88h-1.0zM286.0 93.92h1.0v9.88h-1.0zM302.0 93.92h1.0v9.88h-1.0zM344.0 93.92h1.0v9.88h-1.0zM359.0 93.92h1.0v9.88h-1.0zM362.0 93.92h2.0v9.88h-2.0zM365.0 93.92h1.0v9.88h-1.0zM398.0 93.92h1.0v9.88h-1.0zM419.0 93.92h1.0v9.88h-1.0zM421.0 93.92h1.0v9.88h-1.0zM428.0 93.92h2.0v9.88h-2.0zM446.0 93.92h2.0v9.88h-2.0zM460.0 93.92h1.0v9.88h-1.0zM268.0 220.43h1.0v9.87h-1.0zM274.0 220.43h1.0v9.87h-1.0zM275.0 220.43h1.0v9.87h-1.0zM276.0 220.43h2.0v9.87h-2.0zM285.0 220.43h1.0v9.87h-1.0zM286.0 220.43h1.0v9.87h-1.0zM287.0 220.43h1.0v9.87h-1.0zM289.0 220.43h1.0v9.87h-1.0zM292.0 220.43h1.0v9.87h-1.0zM293.0 220.43h2.0v9.87h-2.0zM322.0 220.43h1.0v9.87h-1.0zM323.0 220.43h1.0v9.87h-1.0zM362.0 220.43h1.0v9.87h-1.0zM367.0 220.43h1.0v9.87h-1.0zM390.0 220.43h2.0v9.87h-2.0zM410.0 220.43h1.0v9.87h-1.0zM416.0 220.43h2.0v9.87h-2.0zM419.0 220.43h1.0v9.87h-1.0zM428.0 220.43h2.0v9.87h-2.0zM440.0 220.43h1.0v9.87h-1.0zM443.0 220.43h2.0v9.87h-2.0zM458.0 220.43h1.0v9.87h-1.0zM461.0 220.43h1.0v9.87h-1.0zM298.0 103.80h1.0v9.88h-1.0zM330.0 103.80h1.0v9.88h-1.0zM375.0 103.80h1.0v9.88h-1.0zM408.0 103.80h1.0v9.88h-1.0zM431.0 103.80h2.0v9.88h-2.0zM457.0 103.80h1.0v9.88h-1.0zM466.0 103.80h1.0v9.88h-1.0zM289.0 113.68h1.0v9.88h-1.0zM290.0 113.68h1.0v9.88h-1.0zM310.0 113.68h2.0v9.88h-2.0zM326.0 113.68h1.0v9.88h-1.0zM337.0 113.68h2.0v9.88h-2.0zM352.0 113.68h2.0v9.88h-2.0zM373.0 113.68h1.0v9.88h-1.0zM389.0 113.68h1.0v9.88h-1.0zM406.0 113.68h1.0v9.88h-1.0zM408.0 113.68h2.0v9.88h-2.0zM410.0 113.68h1.0v9.88h-1.0zM411.0 113.68h1.0v9.88h-1.0zM413.0 113.68h2.0v9.88h-2.0zM418.0 113.68h1.0v9.88h-1.0zM420.0 113.68h1.0v9.88h-1.0zM423.0 113.68h1.0v9.88h-1.0zM432.0 113.68h1.0v9.88h-1.0zM445.0 113.68h1.0v9.88h-1.0zM455.0 113.68h1.0v9.88h-1.0zM459.0 113.68h1.0v9.88h-1.0zM467.0 113.68h1.0v9.88h-1.0zM268.0 240.17h1.0v9.87h-1.0zM270.0 240.17h1.0v9.87h-1.0zM272.0 240.17h2.0v9.87h-2.0zM282.0 240.17h1.0v9.87h-1.0zM286.0 240.17h1.0v9.87h-1.0zM298.0 240.17h1.0v9.87h-1.0zM301.0 240.17h1.0v9.87h-1.0zM302.0 240.17h1.0v9.87h-1.0zM304.0 240.17h1.0v9.87h-1.0zM305.0 240.17h1.0v9.87h-1.0zM308.0 240.17h2.0v9.87h-2.0zM311.0 240.17h1.0v9.87h-1.0zM313.0 240.17h2.0v9.87h-2.0zM318.0 240.17h1.0v9.87h-1.0zM322.0 240.17h1.0v9.87h-1.0zM326.0 240.17h2.0v9.87h-2.0zM330.0 240.17h1.0v9.87h-1.0zM333.0 240.17h1.0v9.87h-1.0zM338.0 240.17h1.0v9.87h-1.0zM339.0 240.17h1.0v9.87h-1.0zM341.0 240.17h2.0v9.87h-2.0zM349.0 240.17h2.0v9.87h-2.0zM360.0 240.17h1.0v9.87h-1.0zM362.0 240.17h1.0v9.87h-1.0zM364.0 240.17h1.0v9.87h-1.0zM369.0 240.17h2.0v9.87h-2.0zM378.0 240.17h2.0v9.87h-2.0zM380.0 240.17h1.0v9.87h-1.0zM384.0 240.17h1.0v9.87h-1.0zM386.0 240.17h2.0v9.87h-2.0zM388.0 240.17h1.0v9.87h-1.0zM396.0 240.17h1.0v9.87h-1.0zM399.0 240.17h1.0v9.87h-1.0zM400.0 240.17h2.0v9.87h-2.0zM413.0 240.17h1.0v9.87h-1.0zM415.0 240.17h1.0v9.87h-1.0zM421.0 240.17h2.0v9.87h-2.0zM423.0 240.17h2.0v9.87h-2.0zM438.0 240.17h2.0v9.87h-2.0zM440.0 240.17h1.0v9.87h-1.0zM442.0 240.17h1.0v9.87h-1.0zM443.0 240.17h1.0v9.87h-1.0zM446.0 240.17h1.0v9.87h-1.0zM447.0 240.17h1.0v9.87h-1.0zM451.0 240.17h2.0v9.87h-2.0zM458.0 240.17h1.0v9.87h-1.0zM468.0 240.17h1.0v9.87h-1.0zM472.0 240.17h1.0v9.87h-1.0zM473.0 240.17h1.0v9.87h-1.0zM474.0 240.17h0.6v9.87h-0.6z"/>
<path fill="#fcc9b5" d="M279.0 131.60h1.0v9.87h-1.0zM313.0 131.60h1.0v9.87h-1.0zM324.0 131.60h1.0v9.87h-1.0zM335.0 131.60h1.0v9.87h-1.0zM361.0 131.60h1.0v9.87h-1.0zM398.0 131.60h2.0v9.87h-2.0zM424.0 131.60h1.0v9.87h-1.0zM463.0 131.60h1.0v9.87h-1.0zM276.0 14.88h1.0v9.88h-1.0zM277.0 14.88h1.0v9.88h-1.0zM303.0 14.88h1.0v9.88h-1.0zM309.0 14.88h1.0v9.88h-1.0zM314.0 14.88h1.0v9.88h-1.0zM315.0 14.88h1.0v9.88h-1.0zM322.0 14.88h1.0v9.88h-1.0zM323.0 14.88h1.0v9.88h-1.0zM337.0 14.88h1.0v9.88h-1.0zM341.0 14.88h1.0v9.88h-1.0zM346.0 14.88h1.0v9.88h-1.0zM348.0 14.88h1.0v9.88h-1.0zM370.0 14.88h1.0v9.88h-1.0zM403.0 14.88h1.0v9.88h-1.0zM405.0 14.88h1.0v9.88h-1.0zM407.0 14.88h1.0v9.88h-1.0zM408.0 14.88h1.0v9.88h-1.0zM431.0 14.88h1.0v9.88h-1.0zM434.0 14.88h1.0v9.88h-1.0zM438.0 14.88h2.0v9.88h-2.0zM444.0 14.88h1.0v9.88h-1.0zM446.0 14.88h1.0v9.88h-1.0zM447.0 14.88h1.0v9.88h-1.0zM453.0 14.88h1.0v9.88h-1.0zM274.0 34.64h1.0v9.88h-1.0zM275.0 34.64h1.0v9.88h-1.0zM279.0 34.64h1.0v9.88h-1.0zM284.0 34.64h1.0v9.88h-1.0zM308.0 34.64h1.0v9.88h-1.0zM309.0 34.64h1.0v9.88h-1.0zM310.0 34.64h1.0v9.88h-1.0zM322.0 34.64h1.0v9.88h-1.0zM323.0 34.64h1.0v9.88h-1.0zM326.0 34.64h2.0v9.88h-2.0zM331.0 34.64h1.0v9.88h-1.0zM332.0 34.64h2.0v9.88h-2.0zM348.0 34.64h1.0v9.88h-1.0zM367.0 34.64h2.0v9.88h-2.0zM370.0 34.64h1.0v9.88h-1.0zM395.0 34.64h1.0v9.88h-1.0zM432.0 34.64h1.0v9.88h-1.0zM433.0 34.64h1.0v9.88h-1.0zM465.0 34.64h1.0v9.88h-1.0zM474.0 34.64h0.6v9.88h-0.6zM274.0 161.21h1.0v9.87h-1.0zM280.0 161.21h1.0v9.87h-1.0zM315.0 161.21h1.0v9.87h-1.0zM316.0 161.21h1.0v9.87h-1.0zM329.0 161.21h1.0v9.87h-1.0zM353.0 161.21h1.0v9.87h-1.0zM362.0 161.21h1.0v9.87h-1.0zM365.0 161.21h1.0v9.87h-1.0zM384.0 161.21h1.0v9.87h-1.0zM386.0 161.21h1.0v9.87h-1.0zM394.0 161.21h1.0v9.87h-1.0zM416.0 161.21h1.0v9.87h-1.0zM444.0 161.21h1.0v9.87h-1.0zM449.0 161.21h1.0v9.87h-1.0zM274.0 171.08h1.0v9.87h-1.0zM294.0 171.08h1.0v9.87h-1.0zM297.0 171.08h1.0v9.87h-1.0zM305.0 171.08h1.0v9.87h-1.0zM323.0 171.08h1.0v9.87h-1.0zM327.0 171.08h1.0v9.87h-1.0zM334.0 171.08h1.0v9.87h-1.0zM337.0 171.08h1.0v9.87h-1.0zM361.0 171.08h1.0v9.87h-1.0zM394.0 171.08h1.0v9.87h-1.0zM412.0 171.08h2.0v9.87h-2.0zM434.0 171.08h1.0v9.87h-1.0zM437.0 171.08h1.0v9.87h-1.0zM461.0 171.08h2.0v9.87h-2.0zM273.0 200.69h1.0v9.87h-1.0zM278.0 200.69h1.0v9.87h-1.0zM279.0 200.69h2.0v9.87h-2.0zM284.0 200.69h1.0v9.87h-1.0zM291.0 200.69h2.0v9.87h-2.0zM320.0 200.69h1.0v9.87h-1.0zM341.0 200.69h2.0v9.87h-2.0zM343.0 200.69h1.0v9.87h-1.0zM361.0 200.69h1.0v9.87h-1.0zM366.0 200.69h1.0v9.87h-1.0zM388.0 200.69h1.0v9.87h-1.0zM396.0 200.69h1.0v9.87h-1.0zM399.0 200.69h1.0v9.87h-1.0zM403.0 200.69h1.0v9.87h-1.0zM410.0 200.69h1.0v9.87h-1.0zM413.0 200.69h1.0v9.87h-1.0zM421.0 200.69h1.0v9.87h-1.0zM423.0 200.69h1.0v9.87h-1.0zM424.0 200.69h1.0v9.87h-1.0zM437.0 200.69h1.0v9.87h-1.0zM442.0 200.69h2.0v9.87h-2.0zM469.0 200.69h1.0v9.87h-1.0zM268.0 93.92h1.0v9.88h-1.0zM269.0 93.92h1.0v9.88h-1.0zM272.0 93.92h2.0v9.88h-2.0zM280.0 93.92h1.0v9.88h-1.0zM281.0 93.92h1.0v9.88h-1.0zM282.0 93.92h1.0v9.88h-1.0zM289.0 93.92h1.0v9.88h-1.0zM294.0 93.92h1.0v9.88h-1.0zM305.0 93.92h1.0v9.88h-1.0zM306.0 93.92h1.0v9.88h-1.0zM314.0 93.92h2.0v9.88h-2.0zM317.0 93.92h2.0v9.88h-2.0zM320.0 93.92h1.0v9.88h-1.0zM333.0 93.92h1.0v9.88h-1.0zM337.0 93.92h1.0v9.88h-1.0zM340.0 93.92h1.0v9.88h-1.0zM341.0 93.92h2.0v9.88h-2.0zM343.0 93.92h1.0v9.88h-1.0zM345.0 93.92h1.0v9.88h-1.0zM347.0 93.92h1.0v9.88h-1.0zM348.0 93.92h1.0v9.88h-1.0zM349.0 93.92h1.0v9.88h-1.0zM350.0 93.92h1.0v9.88h-1.0zM379.0 93.92h1.0v9.88h-1.0zM383.0 93.92h1.0v9.88h-1.0zM401.0 93.92h1.0v9.88h-1.0zM402.0 93.92h2.0v9.88h-2.0zM404.0 93.92h2.0v9.88h-2.0zM406.0 93.92h1.0v9.88h-1.0zM412.0 93.92h1.0v9.88h-1.0zM413.0 93.92h1.0v9.88h-1.0zM415.0 93.92h1.0v9.88h-1.0zM420.0 93.92h1.0v9.88h-1.0zM422.0 93.92h1.0v9.88h-1.0zM423.0 93.92h2.0v9.88h-2.0zM425.0 93.92h1.0v9.88h-1.0zM434.0 93.92h1.0v9.88h-1.0zM437.0 93.92h1.0v9.88h-1.0zM443.0 93.92h1.0v9.88h-1.0zM283.0 103.80h1.0v9.88h-1.0zM287.0 103.80h1.0v9.88h-1.0zM299.0 103.80h1.0v9.88h-1.0zM309.0 103.80h1.0v9.88h-1.0zM331.0 103.80h1.0v9.88h-1.0zM335.0 103.80h1.0v9.88h-1.0zM338.0 103.80h1.0v9.88h-1.0zM342.0 103.80h2.0v9.88h-2.0zM353.0 103.80h2.0v9.88h-2.0zM360.0 103.80h1.0v9.88h-1.0zM369.0 103.80h1.0v9.88h-1.0zM388.0 103.80h1.0v9.88h-1.0zM390.0 103.80h1.0v9.88h-1.0zM393.0 103.80h1.0v9.88h-1.0zM397.0 103.80h1.0v9.88h-1.0zM406.0 103.80h1.0v9.88h-1.0zM407.0 103.80h1.0v9.88h-1.0zM415.0 103.80h1.0v9.88h-1.0zM424.0 103.80h1.0v9.88h-1.0zM428.0 103.80h2.0v9.88h-2.0zM433.0 103.80h1.0v9.88h-1.0zM452.0 103.80h2.0v9.88h-2.0zM455.0 103.80h1.0v9.88h-1.0zM458.0 103.80h1.0v9.88h-1.0zM473.0 103.80h1.0v9.88h-1.0zM331.0 240.17h1.0v9.87h-1.0zM371.0 240.17h1.0v9.87h-1.0zM377.0 240.17h1.0v9.87h-1.0zM397.0 240.17h1.0v9.87h-1.0zM460.0 240.17h1.0v9.87h-1.0z"/>
<path fill="#fbc3ae" d="M289.0 131.60h1.0v9.87h-1.0zM404.0 131.60h1.0v9.87h-1.0zM412.0 131.60h1.0v9.87h-1.0zM461.0 131.60h1.0v9.87h-1.0zM269.0 14.88h1.0v9.88h-1.0zM274.0 14.88h2.0v9.88h-2.0zM279.0 14.88h1.0v9.88h-1.0zM281.0 14.88h1.0v9.88h-1.0zM302.0 14.88h1.0v9.88h-1.0zM325.0 14.88h1.0v9.88h-1.0zM328.0 14.88h2.0v9.88h-2.0zM343.0 14.88h1.0v9.88h-1.0zM344.0 14.88h1.0v9.88h-1.0zM353.0 14.88h1.0v9.88h-1.0zM366.0 14.88h1.0v9.88h-1.0zM367.0 14.88h1.0v9.88h-1.0zM377.0 14.88h1.0v9.88h-1.0zM382.0 14.88h1.0v9.88h-1.0zM411.0 14.88h1.0v9.88h-1.0zM412.0 14.88h1.0v9.88h-1.0zM418.0 14.88h1.0v9.88h-1.0zM419.0 14.88h1.0v9.88h-1.0zM424.0 14.88h2.0v9.88h-2.0zM433.0 14.88h1.0v9.88h-1.0zM442.0 14.88h1.0v9.88h-1.0zM443.0 14.88h1.0v9.88h-1.0zM450.0 14.88h2.0v9.88h-2.0zM452.0 14.88h1.0v9.88h-1.0zM459.0 14.88h1.0v9.88h-1.0zM269.0 34.64h2.0v9.88h-2.0zM290.0 34.64h1.0v9.88h-1.0zM298.0 34.64h2.0v9.88h-2.0zM330.0 34.64h1.0v9.88h-1.0zM351.0 34.64h2.0v9.88h-2.0zM366.0 34.64h1.0v9.88h-1.0zM379.0 34.64h1.0v9.88h-1.0zM389.0 34.64h2.0v9.88h-2.0zM420.0 34.64h1.0v9.88h-1.0zM434.0 34.64h1.0v9.88h-1.0zM451.0 34.64h1.0v9.88h-1.0zM452.0 34.64h1.0v9.88h-1.0zM466.0 34.64h1.0v9.88h-1.0zM270.0 161.21h1.0v9.87h-1.0zM287.0 161.21h1.0v9.87h-1.0zM294.0 161.21h1.0v9.87h-1.0zM306.0 161.21h1.0v9.87h-1.0zM380.0 161.21h1.0v9.87h-1.0zM455.0 161.21h1.0v9.87h-1.0zM286.0 171.08h1.0v9.87h-1.0zM318.0 171.08h1.0v9.87h-1.0zM340.0 171.08h1.0v9.87h-1.0zM349.0 171.08h1.0v9.87h-1.0zM377.0 171.08h1.0v9.87h-1.0zM421.0 171.08h2.0v9.87h-2.0zM267.0 200.69h1.0v9.87h-1.0zM272.0 200.69h1.0v9.87h-1.0zM276.0 200.69h1.0v9.87h-1.0zM296.0 200.69h1.0v9.87h-1.0zM298.0 200.69h1.0v9.87h-1.0zM303.0 200.69h1.0v9.87h-1.0zM318.0 200.69h2.0v9.87h-2.0zM323.0 200.69h1.0v9.87h-1.0zM331.0 200.69h1.0v9.87h-1.0zM333.0 200.69h1.0v9.87h-1.0zM345.0 200.69h1.0v9.87h-1.0zM346.0 200.69h1.0v9.87h-1.0zM356.0 200.69h1.0v9.87h-1.0zM363.0 200.69h2.0v9.87h-2.0zM368.0 200.69h1.0v9.87h-1.0zM373.0 200.69h1.0v9.87h-1.0zM378.0 200.69h1.0v9.87h-1.0zM389.0 200.69h1.0v9.87h-1.0zM434.0 200.69h1.0v9.87h-1.0zM435.0 200.69h1.0v9.87h-1.0zM451.0 200.69h1.0v9.87h-1.0zM453.0 200.69h1.0v9.87h-1.0zM457.0 200.69h1.0v9.87h-1.0zM470.0 200.69h2.0v9.87h-2.0zM472.0 200.69h1.0v9.87h-1.0zM270.0 93.92h2.0v9.88h-2.0zM288.0 93.92h1.0v9.88h-1.0zM290.0 93.92h1.0v9.88h-1.0zM291.0 93.92h1.0v9.88h-1.0zM292.0 93.92h1.0v9.88h-1.0zM303.0 93.92h2.0v9.88h-2.0zM308.0 93.92h1.0v9.88h-1.0zM311.0 93.92h1.0v9.88h-1.0zM312.0 93.92h1.0v9.88h-1.0zM321.0 93.92h1.0v9.88h-1.0zM324.0 93.92h1.0v9.88h-1.0zM329.0 93.92h1.0v9.88h-1.0zM332.0 93.92h1.0v9.88h-1.0zM336.0 93.92h1.0v9.88h-1.0zM353.0 93.92h1.0v9.88h-1.0zM366.0 93.92h1.0v9.88h-1.0zM369.0 93.92h1.0v9.88h-1.0zM376.0 93.92h1.0v9.88h-1.0zM382.0 93.92h1.0v9.88h-1.0zM386.0 93.92h1.0v9.88h-1.0zM400.0 93.92h1.0v9.88h-1.0zM439.0 93.92h1.0v9.88h-1.0zM440.0 93.92h1.0v9.88h-1.0zM444.0 93.92h1.0v9.88h-1.0zM448.0 93.92h1.0v9.88h-1.0zM451.0 93.92h1.0v9.88h-1.0zM453.0 93.92h2.0v9.88h-2.0zM459.0 93.92h1.0v9.88h-1.0zM464.0 93.92h1.0v9.88h-1.0zM467.0 93.92h1.0v9.88h-1.0zM471.0 93.92h2.0v9.88h-2.0zM267.0 103.80h1.0v9.88h-1.0zM278.0 103.80h1.0v9.88h-1.0zM291.0 103.80h2.0v9.88h-2.0zM293.0 103.80h2.0v9.88h-2.0zM296.0 103.80h1.0v9.88h-1.0zM301.0 103.80h1.0v9.88h-1.0zM303.0 103.80h1.0v9.88h-1.0zM304.0 103.80h2.0v9.88h-2.0zM314.0 103.80h1.0v9.88h-1.0zM325.0 103.80h1.0v9.88h-1.0zM340.0 103.80h1.0v9.88h-1.0zM350.0 103.80h1.0v9.88h-1.0zM355.0 103.80h2.0v9.88h-2.0zM357.0 103.80h2.0v9.88h-2.0zM366.0 103.80h1.0v9.88h-1.0zM371.0 103.80h1.0v9.88h-1.0zM378.0 103.80h1.0v9.88h-1.0zM391.0 103.80h2.0v9.88h-2.0zM398.0 103.80h1.0v9.88h-1.0zM404.0 103.80h1.0v9.88h-1.0zM405.0 103.80h1.0v9.88h-1.0zM409.0 103.80h1.0v9.88h-1.0zM416.0 103.80h1.0v9.88h-1.0zM419.0 103.80h1.0v9.88h-1.0zM459.0 103.80h1.0v9.88h-1.0zM467.0 103.80h1.0v9.88h-1.0zM468.0 103.80h1.0v9.88h-1.0zM472.0 103.80h1.0v9.88h-1.0zM474.0 103.80h0.6v9.88h-0.6z"/>
<path fill="#cbe0d5" d="M491.4 5.00h2.0v9.88h-2.0zM502.4 5.00h1.0v9.88h-1.0zM523.4 5.00h1.0v9.88h-1.0zM536.4 5.00h2.0v9.88h-2.0zM538.4 5.00h1.0v9.88h-1.0zM539.4 5.00h1.0v9.88h-1.0zM553.4 5.00h2.0v9.88h-2.0zM567.4 5.00h1.0v9.88h-1.0zM568.4 5.00h2.0v9.88h-2.0zM574.4 5.00h1.0v9.88h-1.0zM583.4 5.00h1.0v9.88h-1.0zM584.4 5.00h1.0v9.88h-1.0zM585.4 5.00h2.0v9.88h-2.0zM598.4 5.00h1.0v9.88h-1.0zM614.4 5.00h2.0v9.88h-2.0zM506.4 24.76h2.0v9.88h-2.0zM508.4 24.76h1.0v9.88h-1.0zM547.4 24.76h1.0v9.88h-1.0zM502.4 34.64h2.0v9.88h-2.0zM506.4 34.64h2.0v9.88h-2.0zM520.4 34.64h2.0v9.88h-2.0zM530.4 34.64h1.0v9.88h-1.0zM549.4 34.64h1.0v9.88h-1.0zM552.4 34.64h1.0v9.88h-1.0zM559.4 34.64h1.0v9.88h-1.0zM584.4 34.64h1.0v9.88h-1.0zM596.4 34.64h1.0v9.88h-1.0zM597.4 34.64h2.0v9.88h-2.0zM599.4 34.64h1.0v9.88h-1.0zM587.4 44.52h5.0v9.88h-5.0zM508.4 64.28h2.0v9.88h-2.0zM510.4 64.28h1.0v9.88h-1.0zM512.4 64.28h1.0v9.88h-1.0zM531.4 64.28h1.0v9.88h-1.0zM606.4 64.28h1.0v9.88h-1.0zM610.4 64.28h1.0v9.88h-1.0zM545.4 74.16h1.0v9.88h-1.0zM578.4 74.16h1.0v9.88h-1.0zM498.4 84.04h2.0v9.88h-2.0zM505.4 84.04h2.0v9.88h-2.0zM545.4 84.04h2.0v9.88h-2.0zM557.4 84.04h1.0v9.88h-1.0zM624.4 84.04h1.0v9.88h-1.0z"/>
<path fill="#f6faf8" d="M494.4 5.00h1.0v9.88h-1.0zM499.4 5.00h3.0v9.88h-3.0zM508.4 5.00h2.0v9.88h-2.0zM519.4 5.00h2.0v9.88h-2.0zM547.4 5.00h3.0v9.88h-3.0zM550.4 5.00h1.0v9.88h-1.0zM552.4 5.00h1.0v9.88h-1.0zM555.4 5.00h3.0v9.88h-3.0zM599.4 5.00h3.0v9.88h-3.0zM610.4 5.00h2.0v9.88h-2.0zM612.4 5.00h2.0v9.88h-2.0zM624.4 5.00h2.0v9.88h-2.0zM629.4 5.00h1.0v9.88h-1.0zM602.4 14.88h2.0v9.88h-2.0zM491.4 24.76h2.0v9.88h-2.0zM495.4 24.76h2.0v9.88h-2.0zM498.4 24.76h2.0v9.88h-2.0zM501.4 24.76h2.0v9.88h-2.0zM504.4 24.76h2.0v9.88h-2.0zM517.4 24.76h2.0v9.88h-2.0zM519.4 24.76h1.0v9.88h-1.0zM525.4 24.76h3.0v9.88h-3.0zM536.4 24.76h2.0v9.88h-2.0zM545.4 24.76h2.0v9.88h-2.0zM548.4 24.76h1.0v9.88h-1.0zM549.4 24.76h3.0v9.88h-3.0zM566.4 24.76h3.0v9.88h-3.0zM569.4 24.76h3.0v9.88h-3.0zM572.4 24.76h3.0v9.88h-3.0zM575.4 24.76h2.0v9.88h-2.0zM577.4 24.76h2.0v9.88h-2.0zM584.4 24.76h2.0v9.88h-2.0zM589.4 24.76h3.0v9.88h-3.0zM603.4 24.76h1.0v9.88h-1.0zM605.4 24.76h1.0v9.88h-1.0zM606.4 24.76h1.0v9.88h-1.0zM614.4 24.76h1.0v9.88h-1.0zM618.4 24.76h3.0v9.88h-3.0zM623.4 24.76h2.0v9.88h-2.0zM629.4 24.76h2.0v9.88h-2.0zM631.4 24.76h0.2v9.88h-0.2zM495.4 34.64h1.0v9.88h-1.0zM509.4 34.64h2.0v9.88h-2.0zM511.4 34.64h2.0v9.88h-2.0zM513.4 34.64h2.0v9.88h-2.0zM525.4 34.64h2.0v9.88h-2.0zM534.4 34.64h3.0v9.88h-3.0zM539.4 34.64h3.0v9.88h-3.0zM551.4 34.64h1.0v9.88h-1.0zM561.4 34.64h2.0v9.88h-2.0zM566.4 34.64h1.0v9.88h-1.0zM568.4 34.64h1.0v9.88h-1.0zM582.4 34.64h2.0v9.88h-2.0zM585.4 34.64h1.0v9.88h-1.0zM594.4 34.64h2.0v9.88h-2.0zM600.4 34.64h2.0v9.88h-2.0zM604.4 34.64h2.0v9.88h-2.0zM606.4 34.64h2.0v9.88h-2.0zM608.4 34.64h1.0v9.88h-1.0zM614.4 34.64h2.0v9.88h-2.0zM616.4 34.64h1.0v9.88h-1.0zM617.4 34.64h3.0v9.88h-3.0zM621.4 34.64h2.0v9.88h-2.0zM628.4 34.64h2.0v9.88h-2.0zM492.4 44.52h1.0v9.88h-1.0zM565.4 44.52h2.0v9.88h-2.0zM557.4 54.40h3.0v9.88h-3.0zM578.4 54.40h1.0v9.88h-1.0zM597.4 54.40h2.0v9.88h-2.0zM491.4 64.28h2.0v9.88h-2.0zM493.4 64.28h1.0v9.88h-1.0zM494.4 64.28h3.0v9.88h-3.0zM502.4 64.28h1.0v9.88h-1.0zM504.4 64.28h3.0v9.88h-3.0zM516.4 64.28h2.0v9.88h-2.0zM524.4 64.28h1.0v9.88h-1.0zM529.4 64.28h2.0v9.88h-2.0zM532.4 64.28h1.0v9.88h-1.0zM537.4 64.28h2.0v9.88h-2.0zM542.4 64.28h2.0v9.88h-2.0zM545.4 64.28h3.0v9.88h-3.0zM553.4 64.28h1.0v9.88h-1.0zM556.4 64.28h1.0v9.88h-1.0zM558.4 64.28h3.0v9.88h-3.0zM575.4 64.28h1.0v9.88h-1.0zM590.4 64.28h1.0v9.88h-1.0zM604.4 64.28h1.0v9.88h-1.0zM605.4 64.28h1.0v9.88h-1.0zM607.4 64.28h3.0v9.88h-3.0zM615.4 64.28h2.0v9.88h-2.0zM620.4 64.28h2.0v9.88h-2.0zM622.4 64.28h1.0v9.88h-1.0zM623.4 64.28h1.0v9.88h-1.0zM507.4 74.16h3.0v9.88h-3.0zM514.4 74.16h3.0v9.88h-3.0zM524.4 74.16h2.0v9.88h-2.0zM537.4 74.16h1.0v9.88h-1.0zM538.4 74.16h1.0v9.88h-1.0zM543.4 74.16h2.0v9.88h-2.0zM546.4 74.16h1.0v9.88h-1.0zM547.4 74.16h2.0v9.88h-2.0zM552.4 74.16h1.0v9.88h-1.0zM553.4 74.16h2.0v9.88h-2.0zM559.4 74.16h2.0v9.88h-2.0zM562.4 74.16h3.0v9.88h-3.0zM573.4 74.16h1.0v9.88h-1.0zM584.4 74.16h1.0v9.88h-1.0zM594.4 74.16h1.0v9.88h-1.0zM604.4 74.16h1.0v9.88h-1.0zM623.4 74.16h2.0v9.88h-2.0zM549.4 84.04h2.0v9.88h-2.0zM563.4 84.04h1.0v9.88h-1.0zM570.4 84.04h2.0v9.88h-2.0zM577.4 84.04h1.0v9.88h-1.0zM578.4 84.04h2.0v9.88h-2.0zM580.4 84.04h1.0v9.88h-1.0zM583.4 84.04h2.0v9.88h-2.0zM611.4 84.04h2.0v9.88h-2.0zM613.4 84.04h1.0v9.88h-1.0zM625.4 84.04h3.0v9.88h-3.0zM534.4 93.92h1.0v9.88h-1.0zM548.4 93.92h3.0v9.88h-3.0z"/>
<path fill="#e5f0ea" d="M495.4 5.00h1.0v9.88h-1.0zM626.4 5.00h2.0v9.88h-2.0zM626.4 44.52h1.0v9.88h-1.0zM534.4 54.40h1.0v9.88h-1.0zM542.4 54.40h3.0v9.88h-3.0zM618.4 54.40h1.0v9.88h-1.0zM620.4 54.40h1.0v9.88h-1.0zM509.4 84.04h2.0v9.88h-2.0zM520.4 84.04h2.0v9.88h-2.0zM534.4 84.04h2.0v9.88h-2.0zM562.4 84.04h1.0v9.88h-1.0zM566.4 84.04h1.0v9.88h-1.0zM614.4 84.04h2.0v9.88h-2.0zM587.4 103.80h2.0v9.88h-2.0z"/>
<path fill="#c3dbce" d="M497.4 5.00h1.0v9.88h-1.0zM532.4 5.00h1.0v9.88h-1.0zM575.4 5.00h2.0v9.88h-2.0zM595.4 5.00h1.0v9.88h-1.0zM493.4 24.76h1.0v9.88h-1.0zM497.4 24.76h1.0v9.88h-1.0zM534.4 24.76h2.0v9.88h-2.0zM556.4 24.76h1.0v9.88h-1.0zM557.4 24.76h1.0v9.88h-1.0zM561.4 24.76h2.0v9.88h-2.0zM563.4 24.76h2.0v9.88h-2.0zM592.4 24.76h1.0v9.88h-1.0zM596.4 24.76h1.0v9.88h-1.0zM604.4 24.76h1.0v9.88h-1.0zM627.4 24.76h1.0v9.88h-1.0zM522.4 34.64h1.0v9.88h-1.0zM533.4 34.64h1.0v9.88h-1.0zM546.4 34.64h1.0v9.88h-1.0zM556.4 34.64h1.0v9.88h-1.0zM557.4 34.64h1.0v9.88h-1.0zM570.4 34.64h2.0v9.88h-2.0zM573.4 34.64h1.0v9.88h-1.0zM576.4 34.64h2.0v9.88h-2.0zM580.4 34.64h2.0v9.88h-2.0zM586.4 34.64h1.0v9.88h-1.0zM611.4 34.64h2.0v9.88h-2.0zM620.4 34.64h1.0v9.88h-1.0zM627.4 34.64h1.0v9.88h-1.0zM497.4 64.28h1.0v9.88h-1.0zM507.4 64.28h1.0v9.88h-1.0zM514.4 64.28h1.0v9.88h-1.0zM515.4 64.28h1.0v9.88h-1.0zM521.4 64.28h1.0v9.88h-1.0zM525.4 64.28h1.0v9.88h-1.0zM528.4 64.28h1.0v9.88h-1.0zM548.4 64.28h1.0v9.88h-1.0zM600.4 64.28h1.0v9.88h-1.0zM624.4 64.28h2.0v9.88h-2.0zM541.4 74.16h1.0v9.88h-1.0zM542.4 74.16h1.0v9.88h-1.0zM608.4 74.16h5.0v9.88h-5.0zM575.4 84.04h2.0v9.88h-2.0zM581.4 84.04h1.0v9.88h-1.0zM520.4 113.68h2.0v9.88h-2.0z"/>
<path fill="#d4e5dc" d="M505.4 5.00h1.0v9.88h-1.0zM524.4 5.00h1.0v9.88h-1.0zM535.4 5.00h1.0v9.88h-1.0zM560.4 5.00h2.0v9.88h-2.0zM570.4 5.00h1.0v9.88h-1.0zM571.4 5.00h2.0v9.88h-2.0zM582.4 5.00h1.0v9.88h-1.0zM590.4 5.00h1.0v9.88h-1.0zM591.4 5.00h2.0v9.88h-2.0zM593.4 5.00h1.0v9.88h-1.0zM597.4 5.00h1.0v9.88h-1.0zM606.4 5.00h1.0v9.88h-1.0zM607.4 5.00h1.0v9.88h-1.0zM494.4 24.76h1.0v9.88h-1.0zM559.4 24.76h2.0v9.88h-2.0zM607.4 24.76h1.0v9.88h-1.0zM610.4 24.76h2.0v9.88h-2.0zM494.4 34.64h1.0v9.88h-1.0zM501.4 34.64h1.0v9.88h-1.0zM504.4 34.64h2.0v9.88h-2.0zM508.4 34.64h1.0v9.88h-1.0zM524.4 34.64h1.0v9.88h-1.0zM527.4 34.64h1.0v9.88h-1.0zM528.4 34.64h1.0v9.88h-1.0zM531.4 34.64h2.0v9.88h-2.0zM553.4 34.64h1.0v9.88h-1.0zM554.4 34.64h2.0v9.88h-2.0zM579.4 34.64h1.0v9.88h-1.0zM587.4 34.64h1.0v9.88h-1.0zM545.4 54.40h4.0v9.88h-4.0zM527.4 64.28h1.0v9.88h-1.0zM540.4 64.28h2.0v9.88h-2.0zM594.4 64.28h1.0v9.88h-1.0zM494.4 84.04h1.0v9.88h-1.0zM524.4 84.04h1.0v9.88h-1.0zM531.4 84.04h2.0v9.88h-2.0zM536.4 84.04h1.0v9.88h-1.0zM544.4 84.04h1.0v9.88h-1.0zM567.4 84.04h2.0v9.88h-2.0zM569.4 84.04h1.0v9.88h-1.0zM591.4 84.04h1.0v9.88h-1.0zM592.4 84.04h2.0v9.88h-2.0zM600.4 84.04h1.0v9.88h-1.0zM605.4 84.04h1.0v9.88h-1.0zM608.4 84.04h1.0v9.88h-1.0zM623.4 84.04h1.0v9.88h-1.0zM646.8 84.04h1.0v9.88h-1.0zM647.8 84.04h1.0v9.88h-1.0zM649.8 84.04h1.0v9.88h-1.0zM651.8 84.04h1.0v9.88h-1.0zM652.8 84.04h1.0v9.88h-1.0zM653.8 84.04h1.0v9.88h-1.0zM654.8 84.04h1.0v9.88h-1.0zM655.8 84.04h1.0v9.88h-1.0zM657.8 84.04h1.0v9.88h-1.0z"/>
<path fill="#dceae3" d="M512.4 5.00h2.0v9.88h-2.0zM530.4 5.00h1.0v9.88h-1.0zM533.4 5.00h1.0v9.88h-1.0zM573.4 5.00h1.0v9.88h-1.0zM579.4 5.00h1.0v9.88h-1.0zM580.4 5.00h1.0v9.88h-1.0zM587.4 5.00h2.0v9.88h-2.0zM605.4 5.00h1.0v9.88h-1.0zM618.4 5.00h1.0v9.88h-1.0zM628.4 5.00h1.0v9.88h-1.0zM532.4 24.76h1.0v9.88h-1.0zM628.4 24.76h1.0v9.88h-1.0zM569.4 34.64h1.0v9.88h-1.0zM572.4 34.64h1.0v9.88h-1.0zM575.4 34.64h1.0v9.88h-1.0zM593.4 34.64h1.0v9.88h-1.0zM602.4 34.64h2.0v9.88h-2.0zM613.4 34.64h1.0v9.88h-1.0zM498.4 64.28h1.0v9.88h-1.0zM555.4 74.16h1.0v9.88h-1.0zM497.4 84.04h1.0v9.88h-1.0zM533.4 84.04h1.0v9.88h-1.0zM564.4 84.04h2.0v9.88h-2.0zM590.4 84.04h1.0v9.88h-1.0zM616.4 84.04h2.0v9.88h-2.0zM648.8 84.04h1.0v9.88h-1.0zM650.8 84.04h1.0v9.88h-1.0zM656.8 84.04h1.0v9.88h-1.0zM658.8 84.04h0.5v9.88h-0.5z"/>
<path fill="#bad6c7" d="M534.4 5.00h1.0v9.88h-1.0zM566.4 5.00h1.0v9.88h-1.0zM557.4 14.88h1.0v9.88h-1.0zM503.4 24.76h1.0v9.88h-1.0zM552.4 24.76h2.0v9.88h-2.0zM579.4 24.76h2.0v9.88h-2.0zM608.4 24.76h2.0v9.88h-2.0zM615.4 24.76h1.0v9.88h-1.0zM621.4 24.76h2.0v9.88h-2.0zM625.4 24.76h1.0v9.88h-1.0zM491.4 34.64h1.0v9.88h-1.0zM523.4 34.64h1.0v9.88h-1.0zM547.4 34.64h1.0v9.88h-1.0zM563.4 34.64h1.0v9.88h-1.0zM567.4 34.64h1.0v9.88h-1.0zM574.4 34.64h1.0v9.88h-1.0zM578.4 34.64h1.0v9.88h-1.0zM591.4 34.64h2.0v9.88h-2.0zM626.4 34.64h1.0v9.88h-1.0zM567.4 44.52h3.0v9.88h-3.0zM598.4 44.52h5.0v9.88h-5.0zM503.4 64.28h1.0v9.88h-1.0zM536.4 64.28h1.0v9.88h-1.0zM544.4 64.28h1.0v9.88h-1.0zM554.4 64.28h2.0v9.88h-2.0zM602.4 64.28h2.0v9.88h-2.0zM612.4 64.28h1.0v9.88h-1.0zM619.4 64.28h1.0v9.88h-1.0zM502.4 74.16h5.0v9.88h-5.0zM517.4 74.16h5.0v9.88h-5.0zM551.4 74.16h1.0v9.88h-1.0zM556.4 74.16h1.0v9.88h-1.0zM605.4 74.16h3.0v9.88h-3.0zM585.4 84.04h2.0v9.88h-2.0zM533.4 93.92h1.0v9.88h-1.0zM614.4 93.92h2.0v9.88h-2.0zM491.4 113.68h2.0v9.88h-2.0zM500.4 113.68h2.0v9.88h-2.0z"/>
<path fill="#eef5f1" d="M558.4 5.00h2.0v9.88h-2.0zM631.4 5.00h0.2v9.88h-0.2zM627.4 14.88h1.0v9.88h-1.0zM574.4 44.52h3.0v9.88h-3.0zM585.4 44.52h2.0v9.88h-2.0zM518.4 54.40h1.0v9.88h-1.0zM525.4 54.40h1.0v9.88h-1.0zM566.4 54.40h1.0v9.88h-1.0zM568.4 64.28h2.0v9.88h-2.0zM580.4 64.28h3.0v9.88h-3.0zM625.4 74.16h1.0v9.88h-1.0zM553.4 93.92h1.0v9.88h-1.0zM559.4 93.92h2.0v9.88h-2.0zM502.4 113.68h1.0v9.88h-1.0zM508.4 113.68h1.0v9.88h-1.0zM522.4 113.68h2.0v9.88h-2.0z"/>
<path fill="#b1d1c0" d="M578.4 5.00h1.0v9.88h-1.0zM497.4 14.88h1.0v9.88h-1.0zM500.4 24.76h1.0v9.88h-1.0zM509.4 24.76h2.0v9.88h-2.0zM522.4 24.76h1.0v9.88h-1.0zM528.4 24.76h1.0v9.88h-1.0zM529.4 24.76h1.0v9.88h-1.0zM533.4 24.76h1.0v9.88h-1.0zM543.4 24.76h2.0v9.88h-2.0zM565.4 24.76h1.0v9.88h-1.0zM586.4 24.76h1.0v9.88h-1.0zM598.4 24.76h1.0v9.88h-1.0zM626.4 24.76h1.0v9.88h-1.0zM542.4 34.64h1.0v9.88h-1.0zM515.4 44.52h1.0v9.88h-1.0zM498.4 54.40h2.0v9.88h-2.0zM507.4 54.40h5.0v9.88h-5.0zM579.4 54.40h5.0v9.88h-5.0zM609.4 54.40h5.0v9.88h-5.0zM631.4 54.40h0.2v9.88h-0.2zM501.4 64.28h1.0v9.88h-1.0zM511.4 64.28h1.0v9.88h-1.0zM513.4 64.28h1.0v9.88h-1.0zM549.4 64.28h1.0v9.88h-1.0zM611.4 64.28h1.0v9.88h-1.0zM628.4 64.28h1.0v9.88h-1.0zM491.4 74.16h3.0v9.88h-3.0zM529.4 74.16h5.0v9.88h-5.0zM598.4 74.16h1.0v9.88h-1.0zM631.4 74.16h0.2v9.88h-0.2zM544.4 93.92h2.0v9.88h-2.0zM527.4 113.68h4.0v9.88h-4.0z"/>
<path fill="#fbb99f" d="M266.0 14.88h1.0v9.88h-1.0zM287.0 14.88h1.0v9.88h-1.0zM290.0 14.88h1.0v9.88h-1.0zM304.0 14.88h1.0v9.88h-1.0zM307.0 14.88h1.0v9.88h-1.0zM308.0 14.88h1.0v9.88h-1.0zM310.0 14.88h2.0v9.88h-2.0zM338.0 14.88h1.0v9.88h-1.0zM339.0 14.88h1.0v9.88h-1.0zM345.0 14.88h1.0v9.88h-1.0zM349.0 14.88h2.0v9.88h-2.0zM355.0 14.88h1.0v9.88h-1.0zM359.0 14.88h1.0v9.88h-1.0zM362.0 14.88h1.0v9.88h-1.0zM373.0 14.88h1.0v9.88h-1.0zM383.0 14.88h1.0v9.88h-1.0zM387.0 14.88h2.0v9.88h-2.0zM390.0 14.88h1.0v9.88h-1.0zM391.0 14.88h1.0v9.88h-1.0zM396.0 14.88h2.0v9.88h-2.0zM404.0 14.88h1.0v9.88h-1.0zM409.0 14.88h1.0v9.88h-1.0zM423.0 14.88h1.0v9.88h-1.0zM441.0 14.88h1.0v9.88h-1.0zM445.0 14.88h1.0v9.88h-1.0zM458.0 14.88h1.0v9.88h-1.0zM460.0 14.88h2.0v9.88h-2.0zM464.0 14.88h2.0v9.88h-2.0zM471.0 14.88h1.0v9.88h-1.0zM473.0 14.88h1.6v9.88h-1.6zM308.0 200.69h2.0v9.87h-2.0zM339.0 200.69h1.0v9.87h-1.0zM354.0 200.69h1.0v9.87h-1.0zM367.0 200.69h1.0v9.87h-1.0zM381.0 200.69h1.0v9.87h-1.0zM392.0 200.69h1.0v9.87h-1.0zM394.0 200.69h1.0v9.87h-1.0zM414.0 200.69h1.0v9.87h-1.0zM418.0 200.69h1.0v9.87h-1.0zM441.0 200.69h1.0v9.87h-1.0zM450.0 200.69h1.0v9.87h-1.0zM459.0 200.69h1.0v9.87h-1.0zM464.0 200.69h1.0v9.87h-1.0zM277.0 93.92h1.0v9.88h-1.0zM328.0 93.92h1.0v9.88h-1.0zM367.0 93.92h2.0v9.88h-2.0zM381.0 93.92h1.0v9.88h-1.0zM384.0 93.92h1.0v9.88h-1.0zM407.0 93.92h1.0v9.88h-1.0zM414.0 93.92h1.0v9.88h-1.0zM470.0 93.92h1.0v9.88h-1.0zM269.0 103.80h1.0v9.88h-1.0zM275.0 103.80h1.0v9.88h-1.0zM306.0 103.80h1.0v9.88h-1.0zM307.0 103.80h1.0v9.88h-1.0zM308.0 103.80h1.0v9.88h-1.0zM312.0 103.80h1.0v9.88h-1.0zM326.0 103.80h1.0v9.88h-1.0zM334.0 103.80h1.0v9.88h-1.0zM337.0 103.80h1.0v9.88h-1.0zM345.0 103.80h1.0v9.88h-1.0zM347.0 103.80h1.0v9.88h-1.0zM367.0 103.80h2.0v9.88h-2.0zM383.0 103.80h1.0v9.88h-1.0zM399.0 103.80h1.0v9.88h-1.0zM411.0 103.80h1.0v9.88h-1.0zM421.0 103.80h1.0v9.88h-1.0zM425.0 103.80h1.0v9.88h-1.0zM441.0 103.80h1.0v9.88h-1.0zM445.0 103.80h2.0v9.88h-2.0zM448.0 103.80h1.0v9.88h-1.0zM451.0 103.80h1.0v9.88h-1.0z"/>
<path fill="#f9a382" d="M267.0 14.88h1.0v9.88h-1.0zM374.0 14.88h2.0v9.88h-2.0z"/>
<path fill="#faae90" d="M268.0 14.88h1.0v9.88h-1.0zM318.0 14.88h2.0v9.88h-2.0zM321.0 14.88h1.0v9.88h-1.0zM324.0 14.88h1.0v9.88h-1.0zM326.0 14.88h1.0v9.88h-1.0zM327.0 14.88h1.0v9.88h-1.0zM334.0 14.88h1.0v9.88h-1.0zM413.0 14.88h1.0v9.88h-1.0zM420.0 14.88h1.0v9.88h-1.0zM432.0 14.88h1.0v9.88h-1.0zM454.0 14.88h2.0v9.88h-2.0zM457.0 14.88h1.0v9.88h-1.0zM467.0 14.88h2.0v9.88h-2.0zM324.0 103.80h1.0v9.88h-1.0zM344.0 103.80h1.0v9.88h-1.0zM386.0 103.80h1.0v9.88h-1.0zM426.0 103.80h1.0v9.88h-1.0zM447.0 103.80h1.0v9.88h-1.0z"/>
<path fill="#fab398" d="M270.0 14.88h2.0v9.88h-2.0zM288.0 14.88h1.0v9.88h-1.0zM293.0 14.88h2.0v9.88h-2.0zM296.0 14.88h1.0v9.88h-1.0zM299.0 14.88h1.0v9.88h-1.0zM313.0 14.88h1.0v9.88h-1.0zM371.0 14.88h2.0v9.88h-2.0zM378.0 14.88h2.0v9.88h-2.0zM384.0 14.88h1.0v9.88h-1.0zM410.0 14.88h1.0v9.88h-1.0zM426.0 14.88h2.0v9.88h-2.0zM436.0 14.88h2.0v9.88h-2.0zM448.0 14.88h2.0v9.88h-2.0zM296.0 93.92h2.0v9.88h-2.0zM397.0 93.92h1.0v9.88h-1.0zM409.0 93.92h1.0v9.88h-1.0zM438.0 93.92h1.0v9.88h-1.0zM469.0 93.92h1.0v9.88h-1.0zM268.0 103.80h1.0v9.88h-1.0zM276.0 103.80h1.0v9.88h-1.0zM277.0 103.80h1.0v9.88h-1.0zM288.0 103.80h1.0v9.88h-1.0zM300.0 103.80h1.0v9.88h-1.0zM310.0 103.80h1.0v9.88h-1.0zM315.0 103.80h1.0v9.88h-1.0zM327.0 103.80h2.0v9.88h-2.0zM348.0 103.80h2.0v9.88h-2.0zM359.0 103.80h1.0v9.88h-1.0zM361.0 103.80h2.0v9.88h-2.0zM363.0 103.80h1.0v9.88h-1.0zM374.0 103.80h1.0v9.88h-1.0zM396.0 103.80h1.0v9.88h-1.0zM410.0 103.80h1.0v9.88h-1.0zM412.0 103.80h1.0v9.88h-1.0zM417.0 103.80h2.0v9.88h-2.0zM435.0 103.80h1.0v9.88h-1.0zM442.0 103.80h1.0v9.88h-1.0zM470.0 103.80h1.0v9.88h-1.0z"/>
<path fill="#faa889" d="M272.0 14.88h1.0v9.88h-1.0zM282.0 14.88h1.0v9.88h-1.0zM312.0 14.88h1.0v9.88h-1.0zM335.0 14.88h1.0v9.88h-1.0zM360.0 14.88h1.0v9.88h-1.0zM393.0 14.88h2.0v9.88h-2.0zM421.0 14.88h1.0v9.88h-1.0zM297.0 103.80h1.0v9.88h-1.0zM329.0 103.80h1.0v9.88h-1.0zM339.0 103.80h1.0v9.88h-1.0zM379.0 103.80h2.0v9.88h-2.0zM437.0 103.80h1.0v9.88h-1.0z"/>
<path fill="#fbbea6" d="M273.0 14.88h1.0v9.88h-1.0zM280.0 14.88h1.0v9.88h-1.0zM283.0 14.88h1.0v9.88h-1.0zM285.0 14.88h1.0v9.88h-1.0zM289.0 14.88h1.0v9.88h-1.0zM291.0 14.88h1.0v9.88h-1.0zM292.0 14.88h1.0v9.88h-1.0zM295.0 14.88h1.0v9.88h-1.0zM297.0 14.88h2.0v9.88h-2.0zM316.0 14.88h1.0v9.88h-1.0zM320.0 14.88h1.0v9.88h-1.0zM331.0 14.88h1.0v9.88h-1.0zM333.0 14.88h1.0v9.88h-1.0zM336.0 14.88h1.0v9.88h-1.0zM340.0 14.88h1.0v9.88h-1.0zM342.0 14.88h1.0v9.88h-1.0zM352.0 14.88h1.0v9.88h-1.0zM357.0 14.88h1.0v9.88h-1.0zM361.0 14.88h1.0v9.88h-1.0zM363.0 14.88h1.0v9.88h-1.0zM365.0 14.88h1.0v9.88h-1.0zM376.0 14.88h1.0v9.88h-1.0zM380.0 14.88h1.0v9.88h-1.0zM381.0 14.88h1.0v9.88h-1.0zM389.0 14.88h1.0v9.88h-1.0zM395.0 14.88h1.0v9.88h-1.0zM399.0 14.88h1.0v9.88h-1.0zM400.0 14.88h1.0v9.88h-1.0zM401.0 14.88h2.0v9.88h-2.0zM414.0 14.88h1.0v9.88h-1.0zM416.0 14.88h2.0v9.88h-2.0zM428.0 14.88h2.0v9.88h-2.0zM430.0 14.88h1.0v9.88h-1.0zM435.0 14.88h1.0v9.88h-1.0zM462.0 14.88h2.0v9.88h-2.0zM470.0 14.88h1.0v9.88h-1.0zM283.0 34.64h1.0v9.88h-1.0zM294.0 34.64h1.0v9.88h-1.0zM269.0 200.69h2.0v9.87h-2.0zM295.0 200.69h1.0v9.87h-1.0zM328.0 200.69h1.0v9.87h-1.0zM369.0 200.69h1.0v9.87h-1.0zM375.0 200.69h1.0v9.87h-1.0zM380.0 200.69h1.0v9.87h-1.0zM429.0 200.69h2.0v9.87h-2.0zM463.0 200.69h1.0v9.87h-1.0zM465.0 200.69h2.0v9.87h-2.0zM285.0 93.92h1.0v9.88h-1.0zM293.0 93.92h1.0v9.88h-1.0zM299.0 93.92h1.0v9.88h-1.0zM300.0 93.92h1.0v9.88h-1.0zM301.0 93.92h1.0v9.88h-1.0zM325.0 93.92h1.0v9.88h-1.0zM326.0 93.92h1.0v9.88h-1.0zM351.0 93.92h1.0v9.88h-1.0zM361.0 93.92h1.0v9.88h-1.0zM370.0 93.92h1.0v9.88h-1.0zM371.0 93.92h1.0v9.88h-1.0zM387.0 93.92h1.0v9.88h-1.0zM389.0 93.92h1.0v9.88h-1.0zM390.0 93.92h1.0v9.88h-1.0zM410.0 93.92h1.0v9.88h-1.0zM431.0 93.92h2.0v9.88h-2.0zM433.0 93.92h1.0v9.88h-1.0zM435.0 93.92h2.0v9.88h-2.0zM442.0 93.92h1.0v9.88h-1.0zM445.0 93.92h1.0v9.88h-1.0zM266.0 103.80h1.0v9.88h-1.0zM271.0 103.80h1.0v9.88h-1.0zM272.0 103.80h1.0v9.88h-1.0zM273.0 103.80h2.0v9.88h-2.0zM281.0 103.80h2.0v9.88h-2.0zM286.0 103.80h1.0v9.88h-1.0zM289.0 103.80h2.0v9.88h-2.0zM295.0 103.80h1.0v9.88h-1.0zM313.0 103.80h1.0v9.88h-1.0zM319.0 103.80h2.0v9.88h-2.0zM336.0 103.80h1.0v9.88h-1.0zM351.0 103.80h1.0v9.88h-1.0zM352.0 103.80h1.0v9.88h-1.0zM370.0 103.80h1.0v9.88h-1.0zM376.0 103.80h2.0v9.88h-2.0zM381.0 103.80h2.0v9.88h-2.0zM387.0 103.80h1.0v9.88h-1.0zM394.0 103.80h2.0v9.88h-2.0zM400.0 103.80h1.0v9.88h-1.0zM420.0 103.80h1.0v9.88h-1.0zM434.0 103.80h1.0v9.88h-1.0zM438.0 103.80h2.0v9.88h-2.0zM440.0 103.80h1.0v9.88h-1.0zM443.0 103.80h2.0v9.88h-2.0zM456.0 103.80h1.0v9.88h-1.0zM464.0 103.80h2.0v9.88h-2.0z"/>
<path fill="#f99e7a" d="M286.0 14.88h1.0v9.88h-1.0zM456.0 14.88h1.0v9.88h-1.0zM466.0 14.88h1.0v9.88h-1.0z"/>
<path fill="#6ca887" d="M491.4 14.88h2.0v9.88h-2.0zM503.4 14.88h1.0v9.88h-1.0zM509.4 14.88h2.0v9.88h-2.0zM545.4 14.88h1.0v9.88h-1.0zM546.4 14.88h2.0v9.88h-2.0zM587.4 14.88h3.0v9.88h-3.0zM516.4 44.52h3.0v9.88h-3.0zM533.4 44.52h4.0v9.88h-4.0zM541.4 44.52h3.0v9.88h-3.0zM577.4 44.52h3.0v9.88h-3.0zM618.4 44.52h2.0v9.88h-2.0zM526.4 54.40h3.0v9.88h-3.0zM532.4 54.40h2.0v9.88h-2.0zM549.4 54.40h4.0v9.88h-4.0zM568.4 54.40h5.0v9.88h-5.0zM590.4 54.40h5.0v9.88h-5.0zM619.4 54.40h1.0v9.88h-1.0zM524.4 93.92h4.0v9.88h-4.0zM575.4 93.92h1.0v9.88h-1.0zM609.4 93.92h1.0v9.88h-1.0zM517.4 103.80h2.0v9.88h-2.0zM612.4 103.80h1.0v9.88h-1.0zM617.4 103.80h4.0v9.88h-4.0zM493.4 113.68h3.0v9.88h-3.0zM537.4 113.68h5.0v9.88h-5.0zM610.4 113.68h2.0v9.88h-2.0zM649.8 64.28h1.0v9.88h-1.0zM657.8 64.28h1.0v9.88h-1.0zM658.8 64.28h0.5v9.88h-0.5zM647.8 103.80h1.0v9.88h-1.0zM648.8 103.80h1.0v9.88h-1.0zM654.8 103.80h1.0v9.88h-1.0zM658.8 103.80h0.5v9.88h-0.5z"/>
<path fill="#529872" d="M493.4 14.88h2.0v9.88h-2.0zM498.4 14.88h2.0v9.88h-2.0zM502.4 14.88h1.0v9.88h-1.0zM511.4 14.88h3.0v9.88h-3.0zM529.4 14.88h3.0v9.88h-3.0zM558.4 14.88h1.0v9.88h-1.0zM571.4 14.88h3.0v9.88h-3.0zM628.4 14.88h3.2v9.88h-3.2zM527.4 44.52h1.0v9.88h-1.0zM606.4 44.52h1.0v9.88h-1.0zM495.4 54.40h2.0v9.88h-2.0zM512.4 54.40h4.0v9.88h-4.0zM541.4 103.80h4.0v9.88h-4.0zM623.4 103.80h4.0v9.88h-4.0zM542.4 113.68h1.0v9.88h-1.0zM581.4 113.68h1.0v9.88h-1.0zM630.4 113.68h1.2v9.88h-1.2z"/>
<path fill="#5b9e79" d="M495.4 14.88h2.0v9.88h-2.0zM540.4 44.52h1.0v9.88h-1.0zM603.4 44.52h3.0v9.88h-3.0zM625.4 44.52h1.0v9.88h-1.0zM491.4 54.40h4.0v9.88h-4.0zM567.4 54.40h1.0v9.88h-1.0zM629.4 54.40h2.0v9.88h-2.0zM588.4 93.92h3.0v9.88h-3.0zM607.4 93.92h2.0v9.88h-2.0zM503.4 103.80h5.0v9.88h-5.0zM528.4 103.80h5.0v9.88h-5.0zM551.4 103.80h1.0v9.88h-1.0zM552.4 103.80h2.0v9.88h-2.0zM555.4 103.80h4.0v9.88h-4.0zM562.4 103.80h3.0v9.88h-3.0zM531.4 113.68h2.0v9.88h-2.0zM598.4 113.68h3.0v9.88h-3.0zM617.4 113.68h3.0v9.88h-3.0zM629.4 113.68h1.0v9.88h-1.0zM646.8 64.28h1.0v9.88h-1.0zM647.8 64.28h1.0v9.88h-1.0z"/>
<path fill="#86b79c" d="M500.4 14.88h2.0v9.88h-2.0zM514.4 14.88h2.0v9.88h-2.0zM519.4 14.88h3.0v9.88h-3.0zM552.4 14.88h1.0v9.88h-1.0zM578.4 14.88h2.0v9.88h-2.0zM620.4 14.88h4.0v9.88h-4.0zM491.4 44.52h1.0v9.88h-1.0zM499.4 44.52h4.0v9.88h-4.0zM511.4 44.52h4.0v9.88h-4.0zM592.4 44.52h1.0v9.88h-1.0zM615.4 44.52h3.0v9.88h-3.0zM523.4 54.40h2.0v9.88h-2.0zM529.4 54.40h2.0v9.88h-2.0zM607.4 54.40h2.0v9.88h-2.0zM616.4 54.40h1.0v9.88h-1.0zM624.4 54.40h5.0v9.88h-5.0zM570.4 64.28h5.0v9.88h-5.0zM586.4 64.28h1.0v9.88h-1.0zM587.4 64.28h3.0v9.88h-3.0zM565.4 74.16h3.0v9.88h-3.0zM568.4 74.16h5.0v9.88h-5.0zM577.4 74.16h1.0v9.88h-1.0zM626.4 74.16h5.0v9.88h-5.0zM495.4 93.92h1.0v9.88h-1.0zM511.4 93.92h1.0v9.88h-1.0zM602.4 93.92h5.0v9.88h-5.0zM510.4 103.80h5.0v9.88h-5.0zM554.4 103.80h1.0v9.88h-1.0zM565.4 103.80h1.0v9.88h-1.0zM526.4 113.68h1.0v9.88h-1.0zM554.4 113.68h1.0v9.88h-1.0zM570.4 113.68h4.0v9.88h-4.0zM586.4 113.68h5.0v9.88h-5.0zM648.8 64.28h1.0v9.88h-1.0zM649.8 74.16h1.0v9.88h-1.0zM654.8 74.16h1.0v9.88h-1.0zM657.8 74.16h1.0v9.88h-1.0zM646.8 93.92h1.0v9.88h-1.0zM650.8 93.92h1.0v9.88h-1.0zM655.8 93.92h1.0v9.88h-1.0zM658.8 113.68h0.5v9.88h-0.5z"/>
<path fill="#64a380" d="M504.4 14.88h3.0v9.88h-3.0zM497.4 44.52h2.0v9.88h-2.0zM521.4 44.52h4.0v9.88h-4.0zM526.4 44.52h1.0v9.88h-1.0zM560.4 44.52h2.0v9.88h-2.0zM612.4 44.52h3.0v9.88h-3.0zM517.4 54.40h1.0v9.88h-1.0zM513.4 93.92h1.0v9.88h-1.0zM576.4 93.92h2.0v9.88h-2.0zM491.4 103.80h4.0v9.88h-4.0zM596.4 103.80h2.0v9.88h-2.0zM555.4 113.68h2.0v9.88h-2.0zM557.4 113.68h2.0v9.88h-2.0zM583.4 113.68h2.0v9.88h-2.0zM585.4 113.68h1.0v9.88h-1.0zM595.4 113.68h1.0v9.88h-1.0zM601.4 113.68h1.0v9.88h-1.0zM616.4 113.68h1.0v9.88h-1.0zM620.4 113.68h5.0v9.88h-5.0zM625.4 113.68h2.0v9.88h-2.0zM651.8 103.80h1.0v9.88h-1.0z"/>
<path fill="#8fbca3" d="M507.4 14.88h1.0v9.88h-1.0zM517.4 14.88h2.0v9.88h-2.0zM562.4 14.88h5.0v9.88h-5.0zM592.4 14.88h1.0v9.88h-1.0zM593.4 14.88h5.0v9.88h-5.0zM610.4 14.88h5.0v9.88h-5.0zM519.4 44.52h2.0v9.88h-2.0zM597.4 44.52h1.0v9.88h-1.0zM621.4 44.52h3.0v9.88h-3.0zM627.4 44.52h4.2v9.88h-4.2zM584.4 54.40h2.0v9.88h-2.0zM596.4 54.40h1.0v9.88h-1.0zM614.4 54.40h2.0v9.88h-2.0zM621.4 54.40h1.0v9.88h-1.0zM622.4 54.40h2.0v9.88h-2.0zM561.4 64.28h2.0v9.88h-2.0zM583.4 64.28h2.0v9.88h-2.0zM499.4 74.16h3.0v9.88h-3.0zM574.4 74.16h1.0v9.88h-1.0zM595.4 74.16h1.0v9.88h-1.0zM500.4 93.92h3.0v9.88h-3.0zM528.4 93.92h5.0v9.88h-5.0zM539.4 93.92h5.0v9.88h-5.0zM563.4 93.92h2.0v9.88h-2.0zM570.4 93.92h5.0v9.88h-5.0zM613.4 93.92h1.0v9.88h-1.0zM498.4 113.68h2.0v9.88h-2.0zM506.4 113.68h1.0v9.88h-1.0zM543.4 113.68h2.0v9.88h-2.0zM650.8 74.16h1.0v9.88h-1.0zM652.8 74.16h1.0v9.88h-1.0zM648.8 93.92h1.0v9.88h-1.0zM652.8 93.92h1.0v9.88h-1.0zM654.8 93.92h1.0v9.88h-1.0zM647.8 113.68h1.0v9.88h-1.0zM656.8 113.68h1.0v9.88h-1.0z"/>
<path fill="#7eb295" d="M508.4 14.88h1.0v9.88h-1.0zM522.4 14.88h3.0v9.88h-3.0zM533.4 14.88h3.0v9.88h-3.0zM536.4 14.88h4.0v9.88h-4.0zM540.4 14.88h5.0v9.88h-5.0zM561.4 14.88h1.0v9.88h-1.0zM586.4 14.88h1.0v9.88h-1.0zM590.4 14.88h2.0v9.88h-2.0zM604.4 14.88h4.0v9.88h-4.0zM608.4 14.88h2.0v9.88h-2.0zM528.4 44.52h5.0v9.88h-5.0zM547.4 44.52h3.0v9.88h-3.0zM560.4 54.40h5.0v9.88h-5.0zM605.4 54.40h2.0v9.88h-2.0zM617.4 54.40h1.0v9.88h-1.0zM510.4 74.16h1.0v9.88h-1.0zM496.4 93.92h3.0v9.88h-3.0zM591.4 93.92h2.0v9.88h-2.0zM596.4 93.92h5.0v9.88h-5.0zM620.4 93.92h1.0v9.88h-1.0zM613.4 103.80h4.0v9.88h-4.0zM545.4 113.68h5.0v9.88h-5.0zM560.4 113.68h5.0v9.88h-5.0zM565.4 113.68h5.0v9.88h-5.0zM574.4 113.68h2.0v9.88h-2.0zM582.4 113.68h1.0v9.88h-1.0zM597.4 113.68h1.0v9.88h-1.0zM613.4 113.68h3.0v9.88h-3.0zM650.8 64.28h1.0v9.88h-1.0zM651.8 64.28h1.0v9.88h-1.0zM653.8 64.28h1.0v9.88h-1.0zM655.8 64.28h1.0v9.88h-1.0zM646.8 74.16h1.0v9.88h-1.0zM655.8 74.16h1.0v9.88h-1.0zM658.8 74.16h0.5v9.88h-0.5zM653.8 93.92h1.0v9.88h-1.0zM657.8 93.92h1.0v9.88h-1.0zM648.8 113.68h1.0v9.88h-1.0zM649.8 113.68h1.0v9.88h-1.0zM650.8 113.68h1.0v9.88h-1.0zM655.8 113.68h1.0v9.88h-1.0z"/>
<path fill="#75ad8e" d="M516.4 14.88h1.0v9.88h-1.0zM525.4 14.88h4.0v9.88h-4.0zM555.4 14.88h2.0v9.88h-2.0zM559.4 14.88h2.0v9.88h-2.0zM574.4 14.88h4.0v9.88h-4.0zM503.4 44.52h5.0v9.88h-5.0zM570.4 44.52h4.0v9.88h-4.0zM620.4 44.52h1.0v9.88h-1.0zM516.4 54.40h1.0v9.88h-1.0zM535.4 54.40h4.0v9.88h-4.0zM573.4 54.40h5.0v9.88h-5.0zM601.4 54.40h2.0v9.88h-2.0zM595.4 64.28h5.0v9.88h-5.0zM579.4 74.16h2.0v9.88h-2.0zM494.4 93.92h1.0v9.88h-1.0zM507.4 93.92h4.0v9.88h-4.0zM583.4 93.92h5.0v9.88h-5.0zM610.4 93.92h3.0v9.88h-3.0zM624.4 93.92h4.0v9.88h-4.0zM519.4 103.80h2.0v9.88h-2.0zM608.4 103.80h4.0v9.88h-4.0zM621.4 103.80h2.0v9.88h-2.0zM519.4 113.68h1.0v9.88h-1.0zM559.4 113.68h1.0v9.88h-1.0zM628.4 113.68h1.0v9.88h-1.0zM652.8 64.28h1.0v9.88h-1.0zM654.8 64.28h1.0v9.88h-1.0zM656.8 64.28h1.0v9.88h-1.0zM653.8 74.16h1.0v9.88h-1.0zM656.8 93.92h1.0v9.88h-1.0zM658.8 93.92h0.5v9.88h-0.5zM653.8 103.80h1.0v9.88h-1.0zM656.8 103.80h1.0v9.88h-1.0zM646.8 113.68h1.0v9.88h-1.0zM651.8 113.68h1.0v9.88h-1.0zM653.8 113.68h1.0v9.88h-1.0zM654.8 113.68h1.0v9.88h-1.0zM657.8 113.68h1.0v9.88h-1.0z"/>
<path fill="#a0c7b2" d="M532.4 14.88h1.0v9.88h-1.0zM598.4 14.88h3.0v9.88h-3.0zM581.4 24.76h1.0v9.88h-1.0zM593.4 24.76h1.0v9.88h-1.0zM584.4 44.52h1.0v9.88h-1.0zM500.4 54.40h3.0v9.88h-3.0zM503.4 54.40h4.0v9.88h-4.0zM531.4 54.40h1.0v9.88h-1.0zM541.4 54.40h1.0v9.88h-1.0zM499.4 64.28h2.0v9.88h-2.0zM539.4 64.28h1.0v9.88h-1.0zM550.4 64.28h1.0v9.88h-1.0zM563.4 64.28h5.0v9.88h-5.0zM601.4 64.28h1.0v9.88h-1.0zM494.4 74.16h5.0v9.88h-5.0zM522.4 74.16h2.0v9.88h-2.0zM539.4 74.16h1.0v9.88h-1.0zM585.4 74.16h2.0v9.88h-2.0zM587.4 74.16h4.0v9.88h-4.0zM618.4 74.16h1.0v9.88h-1.0zM503.4 93.92h4.0v9.88h-4.0zM514.4 93.92h3.0v9.88h-3.0zM535.4 93.92h1.0v9.88h-1.0zM551.4 93.92h2.0v9.88h-2.0zM578.4 93.92h5.0v9.88h-5.0zM601.4 93.92h1.0v9.88h-1.0zM630.4 93.92h1.2v9.88h-1.2zM496.4 113.68h2.0v9.88h-2.0zM515.4 113.68h4.0v9.88h-4.0zM648.8 74.16h1.0v9.88h-1.0zM656.8 74.16h1.0v9.88h-1.0z"/>
<path fill="#a9ccb9" d="M548.4 14.88h4.0v9.88h-4.0zM624.4 14.88h3.0v9.88h-3.0zM587.4 24.76h2.0v9.88h-2.0zM594.4 24.76h2.0v9.88h-2.0zM602.4 24.76h1.0v9.88h-1.0zM610.4 44.52h2.0v9.88h-2.0zM624.4 44.52h1.0v9.88h-1.0zM553.4 54.40h4.0v9.88h-4.0zM587.4 54.40h3.0v9.88h-3.0zM603.4 54.40h2.0v9.88h-2.0zM518.4 64.28h1.0v9.88h-1.0zM526.4 64.28h1.0v9.88h-1.0zM551.4 64.28h2.0v9.88h-2.0zM626.4 64.28h2.0v9.88h-2.0zM630.4 64.28h1.2v9.88h-1.2zM534.4 74.16h1.0v9.88h-1.0zM535.4 74.16h2.0v9.88h-2.0zM549.4 74.16h2.0v9.88h-2.0zM575.4 74.16h2.0v9.88h-2.0zM581.4 74.16h3.0v9.88h-3.0zM574.4 84.04h1.0v9.88h-1.0zM582.4 84.04h1.0v9.88h-1.0zM536.4 93.92h3.0v9.88h-3.0zM546.4 93.92h2.0v9.88h-2.0zM554.4 93.92h5.0v9.88h-5.0zM593.4 93.92h2.0v9.88h-2.0zM628.4 93.92h2.0v9.88h-2.0zM523.4 103.80h5.0v9.88h-5.0zM594.4 113.68h1.0v9.88h-1.0z"/>
<path fill="#4a936b" d="M553.4 14.88h2.0v9.88h-2.0zM567.4 14.88h4.0v9.88h-4.0zM601.4 14.88h1.0v9.88h-1.0zM618.4 14.88h2.0v9.88h-2.0zM537.4 44.52h2.0v9.88h-2.0zM555.4 44.52h2.0v9.88h-2.0zM557.4 44.52h2.0v9.88h-2.0zM559.4 44.52h1.0v9.88h-1.0zM607.4 44.52h3.0v9.88h-3.0zM533.4 103.80h1.0v9.88h-1.0zM538.4 103.80h2.0v9.88h-2.0zM545.4 103.80h5.0v9.88h-5.0zM590.4 103.80h2.0v9.88h-2.0zM550.4 113.68h4.0v9.88h-4.0zM605.4 113.68h5.0v9.88h-5.0zM655.8 103.80h1.0v9.88h-1.0zM657.8 103.80h1.0v9.88h-1.0z"/>
<path fill="#418e64" d="M580.4 14.88h2.0v9.88h-2.0zM519.4 54.40h4.0v9.88h-4.0zM595.4 93.92h1.0v9.88h-1.0zM578.4 103.80h4.0v9.88h-4.0zM592.4 103.80h4.0v9.88h-4.0zM629.4 103.80h2.2v9.88h-2.2zM627.4 113.68h1.0v9.88h-1.0zM646.8 103.80h1.0v9.88h-1.0zM649.8 103.80h1.0v9.88h-1.0zM650.8 103.80h1.0v9.88h-1.0zM652.8 103.80h1.0v9.88h-1.0z"/>
<path fill="#39895d" d="M582.4 14.88h4.0v9.88h-4.0zM615.4 14.88h3.0v9.88h-3.0zM545.4 44.52h2.0v9.88h-2.0zM497.4 54.40h1.0v9.88h-1.0zM621.4 93.92h3.0v9.88h-3.0zM495.4 103.80h4.0v9.88h-4.0zM499.4 103.80h3.0v9.88h-3.0zM566.4 103.80h4.0v9.88h-4.0zM589.4 103.80h1.0v9.88h-1.0zM627.4 103.80h2.0v9.88h-2.0zM533.4 113.68h4.0v9.88h-4.0zM602.4 113.68h3.0v9.88h-3.0zM612.4 113.68h1.0v9.88h-1.0z"/>
<path fill="#98c2aa" d="M597.4 24.76h1.0v9.88h-1.0zM493.4 44.52h4.0v9.88h-4.0zM525.4 44.52h1.0v9.88h-1.0zM580.4 44.52h4.0v9.88h-4.0zM593.4 44.52h4.0v9.88h-4.0zM565.4 54.40h1.0v9.88h-1.0zM586.4 54.40h1.0v9.88h-1.0zM599.4 54.40h2.0v9.88h-2.0zM576.4 64.28h1.0v9.88h-1.0zM577.4 64.28h3.0v9.88h-3.0zM585.4 64.28h1.0v9.88h-1.0zM511.4 74.16h3.0v9.88h-3.0zM526.4 74.16h3.0v9.88h-3.0zM591.4 74.16h3.0v9.88h-3.0zM599.4 74.16h5.0v9.88h-5.0zM613.4 74.16h1.0v9.88h-1.0zM615.4 74.16h3.0v9.88h-3.0zM620.4 74.16h3.0v9.88h-3.0zM499.4 93.92h1.0v9.88h-1.0zM512.4 93.92h1.0v9.88h-1.0zM517.4 93.92h5.0v9.88h-5.0zM522.4 93.92h2.0v9.88h-2.0zM561.4 93.92h2.0v9.88h-2.0zM565.4 93.92h5.0v9.88h-5.0zM616.4 93.92h4.0v9.88h-4.0zM503.4 113.68h3.0v9.88h-3.0zM507.4 113.68h1.0v9.88h-1.0zM509.4 113.68h5.0v9.88h-5.0zM514.4 113.68h1.0v9.88h-1.0zM524.4 113.68h2.0v9.88h-2.0zM576.4 113.68h5.0v9.88h-5.0zM591.4 113.68h3.0v9.88h-3.0zM647.8 74.16h1.0v9.88h-1.0zM651.8 74.16h1.0v9.88h-1.0zM647.8 93.92h1.0v9.88h-1.0zM649.8 93.92h1.0v9.88h-1.0zM651.8 93.92h1.0v9.88h-1.0zM652.8 113.68h1.0v9.88h-1.0z"/>
<path fill="#308456" d="M539.4 44.52h1.0v9.88h-1.0zM544.4 44.52h1.0v9.88h-1.0zM550.4 44.52h5.0v9.88h-5.0zM562.4 44.52h3.0v9.88h-3.0zM502.4 103.80h1.0v9.88h-1.0zM508.4 103.80h2.0v9.88h-2.0zM515.4 103.80h2.0v9.88h-2.0zM521.4 103.80h2.0v9.88h-2.0zM534.4 103.80h2.0v9.88h-2.0zM536.4 103.80h2.0v9.88h-2.0zM540.4 103.80h1.0v9.88h-1.0zM550.4 103.80h1.0v9.88h-1.0zM559.4 103.80h3.0v9.88h-3.0zM570.4 103.80h2.0v9.88h-2.0zM572.4 103.80h3.0v9.88h-3.0zM575.4 103.80h2.0v9.88h-2.0zM577.4 103.80h1.0v9.88h-1.0zM582.4 103.80h4.0v9.88h-4.0zM586.4 103.80h1.0v9.88h-1.0zM598.4 103.80h5.0v9.88h-5.0zM603.4 103.80h5.0v9.88h-5.0z"/>
<path fill="#d7e7df" d="M637.8 5.00h1.4v9.88h-1.4z"/>
<path fill="#cde1d6" d="M639.2 5.00h1.4v9.88h-1.4z"/>
<path fill="#7eb296" d="M637.8 14.88h1.4v9.88h-1.4z"/>
<path fill="#5e9f7b" d="M639.2 14.88h1.4v9.88h-1.4z"/>
<path fill="#a4c9b5" d="M637.8 24.76h1.4v9.88h-1.4zM637.8 34.64h1.4v9.88h-1.4zM637.8 44.52h1.4v9.88h-1.4z"/>
<path fill="#8dbba2" d="M639.2 24.76h1.4v9.88h-1.4zM639.2 34.64h1.4v9.88h-1.4zM639.2 44.52h1.4v9.88h-1.4z"/>
<path fill="#9fc6b1" d="M637.8 54.40h1.4v9.88h-1.4z"/>
<path fill="#87b89d" d="M639.2 54.40h1.4v9.88h-1.4z"/>
<path fill="#bcbcbc" d="M480.0 131.60h0.9v9.87h-0.9zM483.8 200.69h0.9v9.87h-0.9z"/>
<path fill="#a5a5a5" d="M480.9 131.60h0.9v9.87h-0.9zM481.9 131.60h0.9v9.87h-0.9zM482.9 131.60h0.9v9.87h-0.9z"/>
<path fill="#b0b0b0" d="M483.8 131.60h0.9v9.87h-0.9zM481.9 220.43h0.9v9.87h-0.9z"/>
<path fill="#c7c7c7" d="M484.8 131.60h0.9v9.87h-0.9zM482.9 171.08h0.9v9.87h-0.9zM480.9 200.69h0.9v9.87h-0.9zM481.9 200.69h0.9v9.87h-0.9zM480.0 220.43h0.9v9.87h-0.9zM483.8 220.43h0.9v9.87h-0.9z"/>
<path fill="#f9f9f9" d="M480.0 141.47h0.9v9.87h-0.9zM480.9 141.47h0.9v9.87h-0.9zM481.9 141.47h0.9v9.87h-0.9zM482.9 141.47h0.9v9.87h-0.9zM483.8 141.47h0.9v9.87h-0.9zM480.9 180.95h0.9v9.87h-0.9zM483.8 180.95h0.9v9.87h-0.9z"/>
<path fill="#f4f4f4" d="M484.8 141.47h0.9v9.87h-0.9zM480.0 180.95h0.9v9.87h-0.9zM481.9 180.95h0.9v9.87h-0.9zM482.9 180.95h0.9v9.87h-0.9zM484.8 180.95h0.9v9.87h-0.9zM480.0 190.82h0.9v9.87h-0.9zM481.9 190.82h0.9v9.87h-0.9zM483.8 190.82h0.9v9.87h-0.9zM484.8 190.82h0.9v9.87h-0.9zM480.0 210.56h0.9v9.87h-0.9zM480.9 210.56h0.9v9.87h-0.9zM481.9 210.56h0.9v9.87h-0.9zM482.9 210.56h0.9v9.87h-0.9zM483.8 210.56h0.9v9.87h-0.9zM484.8 210.56h0.9v9.87h-0.9z"/>
<path fill="#d2d2d2" d="M480.0 161.21h0.9v9.87h-0.9zM480.9 171.08h0.9v9.87h-0.9z"/>
<path fill="#dddddd" d="M480.9 161.21h0.9v9.87h-0.9zM482.9 161.21h0.9v9.87h-0.9zM484.8 161.21h0.9v9.87h-0.9zM481.9 171.08h0.9v9.87h-0.9zM480.0 240.17h0.9v9.87h-0.9zM480.9 240.17h0.9v9.87h-0.9zM482.9 240.17h0.9v9.87h-0.9z"/>
<path fill="#cccccc" d="M481.9 161.21h0.9v9.87h-0.9zM483.8 171.08h0.9v9.87h-0.9zM484.8 171.08h0.9v9.87h-0.9zM482.9 200.69h0.9v9.87h-0.9z"/>
<path fill="#e3e3e3" d="M483.8 161.21h0.9v9.87h-0.9zM483.8 240.17h0.9v9.87h-0.9z"/>
<path fill="#d8d8d8" d="M480.0 171.08h0.9v9.87h-0.9zM481.9 240.17h0.9v9.87h-0.9z"/>
<path fill="#eeeeee" d="M480.9 190.82h0.9v9.87h-0.9zM482.9 190.82h0.9v9.87h-0.9zM480.9 230.30h0.9v9.87h-0.9z"/>
<path fill="#b6b6b6" d="M480.0 200.69h0.9v9.87h-0.9zM482.9 220.43h0.9v9.87h-0.9zM484.8 220.43h0.9v9.87h-0.9z"/>
<path fill="#c1c1c1" d="M484.8 200.69h0.9v9.87h-0.9zM480.9 220.43h0.9v9.87h-0.9z"/>
<path fill="#e8e8e8" d="M480.0 230.30h0.9v9.87h-0.9zM481.9 230.30h0.9v9.87h-0.9zM482.9 230.30h0.9v9.87h-0.9zM483.8 230.30h0.9v9.87h-0.9zM484.8 230.30h0.9v9.87h-0.9zM484.8 240.17h0.9v9.87h-0.9z"/>
<line x1="264.80" y1="4.00" x2="264.80" y2="123.90" stroke="#1e1e1e" stroke-width="1.1"/>
<line x1="264.80" y1="131.60" x2="264.80" y2="254.60" stroke="#1e1e1e" stroke-width="1.1"/>
<rect x="264.30" y="251.00" width="210.30" height="3.60" fill="#2a2a2a"/>
<rect x="480.00" y="251.00" width="6.00" height="3.60" fill="#2a2a2a"/>
<rect x="491.40" y="251.00" width="140.60" height="3.60" fill="#2a2a2a"/>
<rect x="638.00" y="251.00" width="2.60" height="3.60" fill="#2a2a2a"/>
<rect x="646.40" y="251.00" width="12.60" height="3.60" fill="#2a2a2a"/>
<rect x="659.9" y="5.3" width="17.4" height="118.4" fill="none" stroke="#111" stroke-width="1.1"/>
<rect x="659.9" y="131.9" width="17.4" height="118.4" fill="none" stroke="#111" stroke-width="1.1"/>
<text x="665.00" y="64.40" font-size="10.6" text-anchor="middle" fill="#1a1a1a" transform="rotate(90 665.00 64.40)">FMT</text>
<text x="665.00" y="191.20" font-size="10.6" text-anchor="middle" fill="#1a1a1a" transform="rotate(90 665.00 191.20)">Placebo</text>
<text x="343.00" y="268.85" font-size="11.55" text-anchor="start" font-weight="bold" fill="#000">engrafted genes in &gt;=3 patients</text>
<line x1="647.00" y1="253.80" x2="316.00" y2="304.20" stroke="#111" stroke-width="1.0"/>
<line x1="658.50" y1="253.50" x2="663.30" y2="305.00" stroke="#111" stroke-width="1.0"/>
<rect x="237.8" y="266.2" width="93.6" height="32.0" fill="#fff" stroke="#555" stroke-width="0.9"/>
<text x="285.60" y="274.02" font-size="9.3" text-anchor="middle" fill="#1a1a1a">#of genes</text>
<rect x="245.6" y="278.6" width="6.8" height="6.6" fill="#b9e3bd" stroke="#888" stroke-width="0.5"/>
<text x="256.00" y="284.89" font-size="9.2" text-anchor="start" fill="#1a1a1a">&lt;=10</text>
<rect x="285.0" y="278.6" width="6.8" height="6.6" fill="#43a2cc" stroke="#888" stroke-width="0.5"/>
<text x="295.40" y="284.89" font-size="9.2" text-anchor="start" fill="#1a1a1a">50-250</text>
<rect x="245.6" y="289.0" width="6.8" height="6.6" fill="#7accc4" stroke="#888" stroke-width="0.5"/>
<text x="256.00" y="295.29" font-size="9.2" text-anchor="start" fill="#1a1a1a">10-50</text>
<rect x="285.0" y="289.0" width="6.8" height="6.6" fill="#0f6eb3" stroke="#888" stroke-width="0.5"/>
<text x="295.40" y="295.29" font-size="9.2" text-anchor="start" fill="#1a1a1a">250-500</text>
<text x="252.20" y="323.40" font-size="10.5" text-anchor="start" font-weight="bold" fill="#000">C</text>
<text x="277.40" y="351.20" font-size="9.1" text-anchor="middle" fill="#1a1a1a" transform="rotate(-90 277.40 351.20)">Responder patients</text>
<line x1="315.60" y1="310.00" x2="315.60" y2="393.60" stroke="#1e1e1e" stroke-width="1.1"/>
<line x1="312.60" y1="318.27" x2="315.60" y2="318.27" stroke="#1e1e1e" stroke-width="1.0"/>
<text transform="translate(309.40 321.72) scale(1.15 1)" font-size="10.3" text-anchor="end" fill="#4d4d4d">*pt74</text>
<line x1="312.60" y1="331.60" x2="315.60" y2="331.60" stroke="#1e1e1e" stroke-width="1.0"/>
<text transform="translate(309.40 335.05) scale(1.15 1)" font-size="10.3" text-anchor="end" fill="#4d4d4d">*pt85</text>
<line x1="312.60" y1="344.93" x2="315.60" y2="344.93" stroke="#1e1e1e" stroke-width="1.0"/>
<text transform="translate(309.40 348.38) scale(1.15 1)" font-size="10.3" text-anchor="end" fill="#4d4d4d">*pt56</text>
<line x1="312.60" y1="358.25" x2="315.60" y2="358.25" stroke="#1e1e1e" stroke-width="1.0"/>
<text transform="translate(309.40 361.70) scale(1.15 1)" font-size="10.3" text-anchor="end" fill="#4d4d4d">*pt4</text>
<line x1="312.60" y1="371.59" x2="315.60" y2="371.59" stroke="#1e1e1e" stroke-width="1.0"/>
<text transform="translate(309.40 375.04) scale(1.15 1)" font-size="10.3" text-anchor="end" fill="#4d4d4d">*pt10</text>
<line x1="312.60" y1="384.92" x2="315.60" y2="384.92" stroke="#1e1e1e" stroke-width="1.0"/>
<text transform="translate(309.40 388.37) scale(1.15 1)" font-size="10.3" text-anchor="end" fill="#4d4d4d">*pt79</text>
<path fill="#bae4bc" d="M319.39 311.60h3.79v13.33h-3.79zM326.96 311.60h3.79v13.33h-3.79zM345.90 311.60h3.79v13.33h-3.79zM353.47 311.60h3.79v13.33h-3.79zM357.26 311.60h3.79v13.33h-3.79zM364.83 311.60h3.79v13.33h-3.79zM372.41 311.60h3.79v13.33h-3.79zM383.77 311.60h3.79v13.33h-3.79zM398.92 311.60h3.79v13.33h-3.79zM406.49 311.60h3.79v13.33h-3.79zM421.64 311.60h3.79v13.33h-3.79zM493.60 311.60h3.79v13.33h-3.79zM530.90 311.60h3.79v13.33h-3.79zM546.06 311.60h3.79v13.33h-3.79zM553.64 311.60h3.79v13.33h-3.79zM561.23 311.60h3.79v13.33h-3.79zM565.02 311.60h3.79v13.33h-3.79zM572.60 311.60h3.79v13.33h-3.79zM583.97 311.60h3.79v13.33h-3.79zM595.34 311.60h3.79v13.33h-3.79zM602.92 311.60h3.79v13.33h-3.79zM610.50 311.60h3.79v13.33h-3.79zM614.29 311.60h3.79v13.33h-3.79zM629.46 311.60h3.79v13.33h-3.79zM633.25 311.60h3.79v13.33h-3.79zM640.83 311.60h3.79v13.33h-3.79zM338.32 324.93h3.79v13.33h-3.79zM349.69 324.93h3.79v13.33h-3.79zM353.47 324.93h3.79v13.33h-3.79zM361.05 324.93h3.79v13.33h-3.79zM364.83 324.93h3.79v13.33h-3.79zM368.62 324.93h3.79v13.33h-3.79zM372.41 324.93h3.79v13.33h-3.79zM376.20 324.93h3.79v13.33h-3.79zM379.98 324.93h3.79v13.33h-3.79zM383.77 324.93h3.79v13.33h-3.79zM387.56 324.93h3.79v13.33h-3.79zM391.35 324.93h3.79v13.33h-3.79zM398.92 324.93h3.79v13.33h-3.79zM402.71 324.93h3.79v13.33h-3.79zM406.49 324.93h3.79v13.33h-3.79zM410.28 324.93h3.79v13.33h-3.79zM414.07 324.93h3.79v13.33h-3.79zM417.86 324.93h3.79v13.33h-3.79zM421.64 324.93h3.79v13.33h-3.79zM429.22 324.93h3.79v13.33h-3.79zM433.01 324.93h3.79v13.33h-3.79zM444.37 324.93h3.79v13.33h-3.79zM451.94 324.93h3.79v13.33h-3.79zM455.73 324.93h3.79v13.33h-3.79zM467.09 324.93h3.79v13.33h-3.79zM470.88 324.93h3.79v13.33h-3.79zM474.67 324.93h3.79v13.33h-3.79zM482.24 324.93h3.79v13.33h-3.79zM486.03 324.93h3.79v13.33h-3.79zM489.81 324.93h3.79v13.33h-3.79zM497.39 324.93h3.79v13.33h-3.79zM501.18 324.93h3.79v13.33h-3.79zM504.96 324.93h3.79v13.33h-3.79zM508.75 324.93h3.79v13.33h-3.79zM512.54 324.93h3.79v13.33h-3.79zM516.33 324.93h3.79v13.33h-3.79zM520.11 324.93h3.79v13.33h-3.79zM534.69 324.93h3.79v13.33h-3.79zM542.27 324.93h3.79v13.33h-3.79zM557.43 324.93h3.79v13.33h-3.79zM561.23 324.93h3.79v13.33h-3.79zM565.02 324.93h3.79v13.33h-3.79zM568.81 324.93h3.79v13.33h-3.79zM572.60 324.93h3.79v13.33h-3.79zM576.39 324.93h3.79v13.33h-3.79zM580.18 324.93h3.79v13.33h-3.79zM583.97 324.93h3.79v13.33h-3.79zM591.55 324.93h3.79v13.33h-3.79zM606.71 324.93h3.79v13.33h-3.79zM610.50 324.93h3.79v13.33h-3.79zM618.08 324.93h3.79v13.33h-3.79zM621.88 324.93h3.79v13.33h-3.79zM625.67 324.93h3.79v13.33h-3.79zM629.46 324.93h3.79v13.33h-3.79zM633.25 324.93h3.79v13.33h-3.79zM644.62 324.93h3.79v13.33h-3.79zM648.41 324.93h3.79v13.33h-3.79zM323.17 338.26h3.79v13.33h-3.79zM361.05 338.26h3.79v13.33h-3.79zM368.62 338.26h3.79v13.33h-3.79zM372.41 338.26h3.79v13.33h-3.79zM379.98 338.26h3.79v13.33h-3.79zM387.56 338.26h3.79v13.33h-3.79zM395.13 338.26h3.79v13.33h-3.79zM406.49 338.26h3.79v13.33h-3.79zM410.28 338.26h3.79v13.33h-3.79zM414.07 338.26h3.79v13.33h-3.79zM417.86 338.26h3.79v13.33h-3.79zM421.64 338.26h3.79v13.33h-3.79zM433.01 338.26h3.79v13.33h-3.79zM436.79 338.26h3.79v13.33h-3.79zM440.58 338.26h3.79v13.33h-3.79zM444.37 338.26h3.79v13.33h-3.79zM448.15 338.26h3.79v13.33h-3.79zM459.52 338.26h3.79v13.33h-3.79zM478.45 338.26h3.79v13.33h-3.79zM497.39 338.26h3.79v13.33h-3.79zM504.96 338.26h3.79v13.33h-3.79zM520.11 338.26h3.79v13.33h-3.79zM549.85 338.26h3.79v13.33h-3.79zM553.64 338.26h3.79v13.33h-3.79zM557.43 338.26h3.79v13.33h-3.79zM561.23 338.26h3.79v13.33h-3.79zM565.02 338.26h3.79v13.33h-3.79zM572.60 338.26h3.79v13.33h-3.79zM576.39 338.26h3.79v13.33h-3.79zM583.97 338.26h3.79v13.33h-3.79zM587.76 338.26h3.79v13.33h-3.79zM599.13 338.26h3.79v13.33h-3.79zM610.50 338.26h3.79v13.33h-3.79zM621.88 338.26h3.79v13.33h-3.79zM633.25 338.26h3.79v13.33h-3.79zM637.04 338.26h3.79v13.33h-3.79zM640.83 338.26h3.79v13.33h-3.79zM334.54 351.59h3.79v13.33h-3.79zM349.69 351.59h3.79v13.33h-3.79zM353.47 351.59h3.79v13.33h-3.79zM357.26 351.59h3.79v13.33h-3.79zM364.83 351.59h3.79v13.33h-3.79zM368.62 351.59h3.79v13.33h-3.79zM372.41 351.59h3.79v13.33h-3.79zM376.20 351.59h3.79v13.33h-3.79zM379.98 351.59h3.79v13.33h-3.79zM383.77 351.59h3.79v13.33h-3.79zM387.56 351.59h3.79v13.33h-3.79zM391.35 351.59h3.79v13.33h-3.79zM395.13 351.59h3.79v13.33h-3.79zM398.92 351.59h3.79v13.33h-3.79zM402.71 351.59h3.79v13.33h-3.79zM406.49 351.59h3.79v13.33h-3.79zM410.28 351.59h3.79v13.33h-3.79zM414.07 351.59h3.79v13.33h-3.79zM417.86 351.59h3.79v13.33h-3.79zM425.43 351.59h3.79v13.33h-3.79zM429.22 351.59h3.79v13.33h-3.79zM433.01 351.59h3.79v13.33h-3.79zM436.79 351.59h3.79v13.33h-3.79zM440.58 351.59h3.79v13.33h-3.79zM444.37 351.59h3.79v13.33h-3.79zM448.15 351.59h3.79v13.33h-3.79zM451.94 351.59h3.79v13.33h-3.79zM455.73 351.59h3.79v13.33h-3.79zM459.52 351.59h3.79v13.33h-3.79zM463.30 351.59h3.79v13.33h-3.79zM467.09 351.59h3.79v13.33h-3.79zM470.88 351.59h3.79v13.33h-3.79zM474.67 351.59h3.79v13.33h-3.79zM478.45 351.59h3.79v13.33h-3.79zM482.24 351.59h3.79v13.33h-3.79zM486.03 351.59h3.79v13.33h-3.79zM489.81 351.59h3.79v13.33h-3.79zM493.60 351.59h3.79v13.33h-3.79zM497.39 351.59h3.79v13.33h-3.79zM501.18 351.59h3.79v13.33h-3.79zM504.96 351.59h3.79v13.33h-3.79zM508.75 351.59h3.79v13.33h-3.79zM512.54 351.59h3.79v13.33h-3.79zM516.33 351.59h3.79v13.33h-3.79zM557.43 351.59h3.79v13.33h-3.79zM565.02 351.59h3.79v13.33h-3.79zM568.81 351.59h3.79v13.33h-3.79zM576.39 351.59h3.79v13.33h-3.79zM580.18 351.59h3.79v13.33h-3.79zM587.76 351.59h3.79v13.33h-3.79zM591.55 351.59h3.79v13.33h-3.79zM595.34 351.59h3.79v13.33h-3.79zM599.13 351.59h3.79v13.33h-3.79zM602.92 351.59h3.79v13.33h-3.79zM606.71 351.59h3.79v13.33h-3.79zM614.29 351.59h3.79v13.33h-3.79zM618.08 351.59h3.79v13.33h-3.79zM625.67 351.59h3.79v13.33h-3.79zM629.46 351.59h3.79v13.33h-3.79zM633.25 351.59h3.79v13.33h-3.79zM637.04 351.59h3.79v13.33h-3.79zM644.62 351.59h3.79v13.33h-3.79zM648.41 351.59h3.79v13.33h-3.79zM334.54 364.92h3.79v13.33h-3.79zM349.69 364.92h3.79v13.33h-3.79zM353.47 364.92h3.79v13.33h-3.79zM357.26 364.92h3.79v13.33h-3.79zM364.83 364.92h3.79v13.33h-3.79zM372.41 364.92h3.79v13.33h-3.79zM376.20 364.92h3.79v13.33h-3.79zM379.98 364.92h3.79v13.33h-3.79zM383.77 364.92h3.79v13.33h-3.79zM387.56 364.92h3.79v13.33h-3.79zM391.35 364.92h3.79v13.33h-3.79zM398.92 364.92h3.79v13.33h-3.79zM402.71 364.92h3.79v13.33h-3.79zM410.28 364.92h3.79v13.33h-3.79zM414.07 364.92h3.79v13.33h-3.79zM417.86 364.92h3.79v13.33h-3.79zM425.43 364.92h3.79v13.33h-3.79zM448.15 364.92h3.79v13.33h-3.79zM451.94 364.92h3.79v13.33h-3.79zM455.73 364.92h3.79v13.33h-3.79zM463.30 364.92h3.79v13.33h-3.79zM470.88 364.92h3.79v13.33h-3.79zM474.67 364.92h3.79v13.33h-3.79zM478.45 364.92h3.79v13.33h-3.79zM482.24 364.92h3.79v13.33h-3.79zM486.03 364.92h3.79v13.33h-3.79zM489.81 364.92h3.79v13.33h-3.79zM493.60 364.92h3.79v13.33h-3.79zM501.18 364.92h3.79v13.33h-3.79zM508.75 364.92h3.79v13.33h-3.79zM512.54 364.92h3.79v13.33h-3.79zM516.33 364.92h3.79v13.33h-3.79zM520.11 364.92h3.79v13.33h-3.79zM565.02 364.92h3.79v13.33h-3.79zM568.81 364.92h3.79v13.33h-3.79zM580.18 364.92h3.79v13.33h-3.79zM591.55 364.92h3.79v13.33h-3.79zM595.34 364.92h3.79v13.33h-3.79zM606.71 364.92h3.79v13.33h-3.79zM614.29 364.92h3.79v13.33h-3.79zM618.08 364.92h3.79v13.33h-3.79zM621.88 364.92h3.79v13.33h-3.79zM625.67 364.92h3.79v13.33h-3.79zM637.04 364.92h3.79v13.33h-3.79zM644.62 364.92h3.79v13.33h-3.79zM648.41 364.92h3.79v13.33h-3.79zM326.96 378.25h3.79v13.33h-3.79zM361.05 378.25h3.79v13.33h-3.79zM364.83 378.25h3.79v13.33h-3.79zM368.62 378.25h3.79v13.33h-3.79zM372.41 378.25h3.79v13.33h-3.79zM376.20 378.25h3.79v13.33h-3.79zM387.56 378.25h3.79v13.33h-3.79zM391.35 378.25h3.79v13.33h-3.79zM395.13 378.25h3.79v13.33h-3.79zM406.49 378.25h3.79v13.33h-3.79zM421.64 378.25h3.79v13.33h-3.79zM425.43 378.25h3.79v13.33h-3.79zM429.22 378.25h3.79v13.33h-3.79zM436.79 378.25h3.79v13.33h-3.79zM440.58 378.25h3.79v13.33h-3.79zM459.52 378.25h3.79v13.33h-3.79zM463.30 378.25h3.79v13.33h-3.79zM467.09 378.25h3.79v13.33h-3.79zM553.64 378.25h3.79v13.33h-3.79zM557.43 378.25h3.79v13.33h-3.79zM561.23 378.25h3.79v13.33h-3.79zM565.02 378.25h3.79v13.33h-3.79zM572.60 378.25h3.79v13.33h-3.79zM576.39 378.25h3.79v13.33h-3.79zM583.97 378.25h3.79v13.33h-3.79zM587.76 378.25h3.79v13.33h-3.79zM599.13 378.25h3.79v13.33h-3.79zM602.92 378.25h3.79v13.33h-3.79zM640.83 378.25h3.79v13.33h-3.79z"/>
<path fill="#7bccc4" d="M334.54 311.60h3.79v13.33h-3.79zM538.48 311.60h3.79v13.33h-3.79zM549.85 311.60h3.79v13.33h-3.79zM319.39 324.93h3.79v13.33h-3.79zM326.96 324.93h3.79v13.33h-3.79zM330.75 324.93h3.79v13.33h-3.79zM334.54 324.93h3.79v13.33h-3.79zM342.11 324.93h3.79v13.33h-3.79zM345.90 324.93h3.79v13.33h-3.79zM538.48 324.93h3.79v13.33h-3.79zM546.06 324.93h3.79v13.33h-3.79zM549.85 324.93h3.79v13.33h-3.79zM553.64 324.93h3.79v13.33h-3.79zM334.54 338.26h3.79v13.33h-3.79zM338.32 338.26h3.79v13.33h-3.79zM342.11 338.26h3.79v13.33h-3.79zM345.90 338.26h3.79v13.33h-3.79zM538.48 338.26h3.79v13.33h-3.79zM546.06 338.26h3.79v13.33h-3.79zM326.96 351.59h3.79v13.33h-3.79zM330.75 351.59h3.79v13.33h-3.79zM338.32 351.59h3.79v13.33h-3.79zM342.11 351.59h3.79v13.33h-3.79zM534.69 351.59h3.79v13.33h-3.79zM542.27 351.59h3.79v13.33h-3.79zM546.06 351.59h3.79v13.33h-3.79zM553.64 351.59h3.79v13.33h-3.79zM315.60 364.92h3.79v13.33h-3.79zM326.96 364.92h3.79v13.33h-3.79zM330.75 364.92h3.79v13.33h-3.79zM338.32 364.92h3.79v13.33h-3.79zM534.69 364.92h3.79v13.33h-3.79zM542.27 364.92h3.79v13.33h-3.79zM546.06 364.92h3.79v13.33h-3.79zM553.64 364.92h3.79v13.33h-3.79zM315.60 378.25h3.79v13.33h-3.79zM334.54 378.25h3.79v13.33h-3.79zM345.90 378.25h3.79v13.33h-3.79zM534.69 378.25h3.79v13.33h-3.79zM538.48 378.25h3.79v13.33h-3.79zM542.27 378.25h3.79v13.33h-3.79zM546.06 378.25h3.79v13.33h-3.79zM549.85 378.25h3.79v13.33h-3.79z"/>
<path fill="#43a2ca" d="M659.20 311.60h3.80v13.33h-3.80zM315.60 324.93h3.79v13.33h-3.79zM323.17 324.93h3.79v13.33h-3.79zM659.20 324.93h3.80v13.33h-3.80zM315.60 338.26h3.79v13.33h-3.79zM530.90 338.26h3.79v13.33h-3.79zM659.20 338.26h3.80v13.33h-3.80zM315.60 351.59h3.79v13.33h-3.79zM319.39 351.59h3.79v13.33h-3.79zM323.17 351.59h3.79v13.33h-3.79zM319.39 364.92h3.79v13.33h-3.79zM323.17 364.92h3.79v13.33h-3.79zM530.90 364.92h3.79v13.33h-3.79zM319.39 378.25h3.79v13.33h-3.79zM530.90 378.25h3.79v13.33h-3.79z"/>
<path fill="#0868ac" d="M659.20 351.59h3.80v13.33h-3.80zM659.20 364.92h3.80v13.33h-3.80zM659.20 378.25h3.80v13.33h-3.80z"/>
<line x1="315.60" y1="310.00" x2="315.60" y2="393.60" stroke="#1e1e1e" stroke-width="1.1"/>
<line x1="315.10" y1="392.60" x2="524.00" y2="392.60" stroke="#1e1e1e" stroke-width="1.3"/>
<line x1="530.90" y1="392.60" x2="652.30" y2="392.60" stroke="#1e1e1e" stroke-width="1.3"/>
<line x1="659.20" y1="392.60" x2="663.00" y2="392.60" stroke="#1e1e1e" stroke-width="1.3"/>
<path d="M317.49 392.6v3.2M321.28 392.6v3.2M325.07 392.6v3.2M328.86 392.6v3.2M332.64 392.6v3.2M336.43 392.6v3.2M340.22 392.6v3.2M344.00 392.6v3.2M347.79 392.6v3.2M351.58 392.6v3.2M355.37 392.6v3.2M359.15 392.6v3.2M362.94 392.6v3.2M366.73 392.6v3.2M370.52 392.6v3.2M374.30 392.6v3.2M378.09 392.6v3.2M381.88 392.6v3.2M385.66 392.6v3.2M389.45 392.6v3.2M393.24 392.6v3.2M397.03 392.6v3.2M400.81 392.6v3.2M404.60 392.6v3.2M408.39 392.6v3.2M412.18 392.6v3.2M415.96 392.6v3.2M419.75 392.6v3.2M423.54 392.6v3.2M427.32 392.6v3.2M431.11 392.6v3.2M434.90 392.6v3.2M438.69 392.6v3.2M442.47 392.6v3.2M446.26 392.6v3.2M450.05 392.6v3.2M453.84 392.6v3.2M457.62 392.6v3.2M461.41 392.6v3.2M465.20 392.6v3.2M468.98 392.6v3.2M472.77 392.6v3.2M476.56 392.6v3.2M480.35 392.6v3.2M484.13 392.6v3.2M487.92 392.6v3.2M491.71 392.6v3.2M495.50 392.6v3.2M499.28 392.6v3.2M503.07 392.6v3.2M506.86 392.6v3.2M510.64 392.6v3.2M514.43 392.6v3.2M518.22 392.6v3.2M522.01 392.6v3.2M532.80 392.6v3.2M536.59 392.6v3.2M540.38 392.6v3.2M544.17 392.6v3.2M547.96 392.6v3.2M551.75 392.6v3.2M555.54 392.6v3.2M559.33 392.6v3.2M563.12 392.6v3.2M566.91 392.6v3.2M570.70 392.6v3.2M574.49 392.6v3.2M578.28 392.6v3.2M582.07 392.6v3.2M585.86 392.6v3.2M589.65 392.6v3.2M593.45 392.6v3.2M597.24 392.6v3.2M601.03 392.6v3.2M604.82 392.6v3.2M608.61 392.6v3.2M612.40 392.6v3.2M616.19 392.6v3.2M619.98 392.6v3.2M623.77 392.6v3.2M627.56 392.6v3.2M631.35 392.6v3.2M635.14 392.6v3.2M638.93 392.6v3.2M642.72 392.6v3.2M646.51 392.6v3.2M650.30 392.6v3.2M661.1 392.6v3.2" stroke="#1e1e1e" stroke-width="1.0" fill="none"/>
<text x="411.70" y="410.39" font-size="9.2" text-anchor="middle" fill="#1a1a1a">620 genes in 55 MAGs</text>
<text x="580.50" y="410.19" font-size="9.2" text-anchor="middle" fill="#1a1a1a">333 genes in 32 bins</text>
<text x="642.30" y="410.19" font-size="9.2" text-anchor="start" fill="#1a1a1a">535 UnBin</text>
<text x="663.60" y="419.39" font-size="9.2" text-anchor="middle" fill="#1a1a1a">genes</text>
</svg>
</body></html>
